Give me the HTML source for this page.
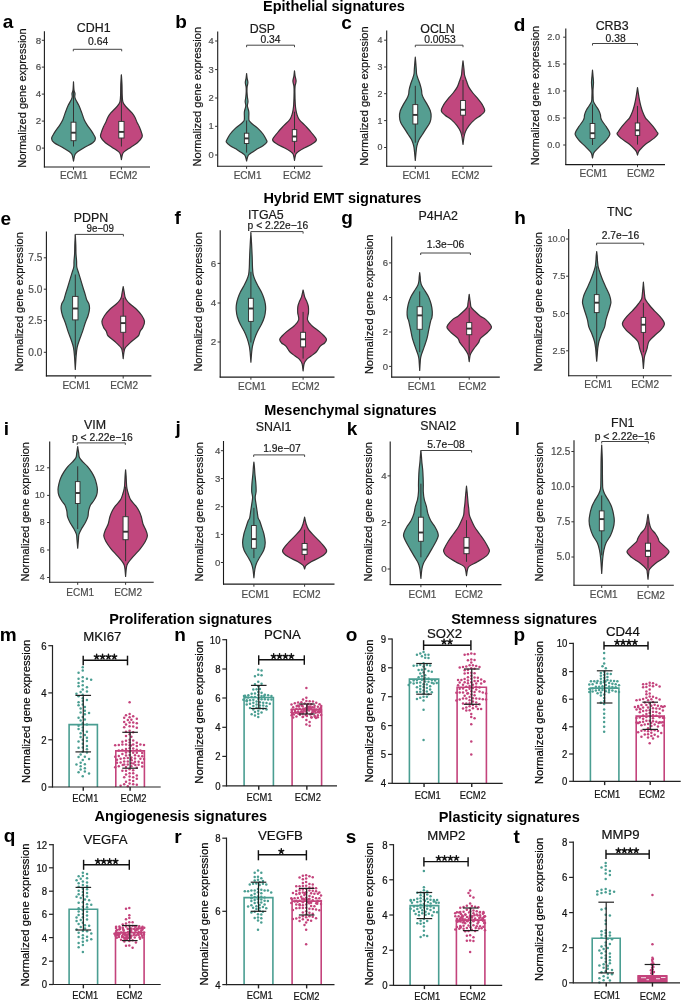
<!DOCTYPE html>
<html><head><meta charset="utf-8"><style>
html,body{margin:0;padding:0;background:#fff;}
svg{display:block;font-family:"Liberation Sans", sans-serif;will-change:transform;}
</style></head><body>
<svg width="685" height="1000" viewBox="0 0 685 1000">
<rect width="685" height="1000" fill="#fff"/>
<text x="2.80" y="28.00" font-size="19" text-anchor="start" font-weight="bold" fill="#000" >a</text>
<text x="93.70" y="31.80" font-size="12.4" text-anchor="middle" font-weight="normal" fill="#1a1a1a" stroke="#1a1a1a" stroke-width="0.2" >CDH1</text>
<text x="0.00" y="0.00" font-size="11" text-anchor="middle" font-weight="normal" fill="#111" stroke="#111" stroke-width="0.2" transform="translate(25.70,98.10) rotate(-90)">Normalized gene expression</text>
<path d="M73.50,81.90 C73.58,83.25 73.75,88.07 74.00,90.00 C74.25,91.93 74.87,92.33 75.00,93.50 C75.13,94.67 74.65,95.92 74.80,97.00 C74.95,98.08 75.22,98.57 75.90,100.00 C76.58,101.43 77.92,103.45 78.90,105.60 C79.88,107.75 80.90,110.50 81.80,112.90 C82.70,115.30 83.37,117.93 84.30,120.00 C85.23,122.07 86.03,123.20 87.40,125.30 C88.77,127.40 91.17,130.42 92.50,132.60 C93.83,134.78 95.35,136.70 95.40,138.40 C95.45,140.10 94.57,141.33 92.80,142.80 C91.03,144.27 87.28,145.73 84.80,147.20 C82.32,148.67 79.53,150.38 77.90,151.60 C76.27,152.82 75.73,152.92 75.00,154.50 C74.27,156.08 73.75,160.00 73.50,161.10 L73.50,161.10 C73.25,160.00 72.73,156.08 72.00,154.50 C71.27,152.92 70.73,152.82 69.10,151.60 C67.47,150.38 64.68,148.67 62.20,147.20 C59.72,145.73 55.97,144.27 54.20,142.80 C52.43,141.33 51.55,140.10 51.60,138.40 C51.65,136.70 53.17,134.78 54.50,132.60 C55.83,130.42 58.23,127.40 59.60,125.30 C60.97,123.20 61.77,122.07 62.70,120.00 C63.63,117.93 64.30,115.30 65.20,112.90 C66.10,110.50 67.12,107.75 68.10,105.60 C69.08,103.45 70.42,101.43 71.10,100.00 C71.78,98.57 72.05,98.08 72.20,97.00 C72.35,95.92 71.87,94.67 72.00,93.50 C72.13,92.33 72.75,91.93 73.00,90.00 C73.25,88.07 73.42,83.25 73.50,81.90 Z" fill="#559e91" stroke="#333333" stroke-width="1.2" stroke-linejoin="round"/>
<line x1="73.50" y1="81.90" x2="73.50" y2="146.50" stroke="#333333" stroke-width="1.0" />
<rect x="71.10" y="122.20" width="4.80" height="18.50" fill="#fff" stroke="#333333" stroke-width="0.95"/>
<line x1="71.10" y1="132.70" x2="75.90" y2="132.70" stroke="#333333" stroke-width="1.9" />
<path d="M121.40,74.90 C121.50,76.58 121.87,81.65 122.00,85.00 C122.13,88.35 122.08,92.30 122.20,95.00 C122.32,97.70 122.40,99.68 122.70,101.20 C123.00,102.72 123.18,102.88 124.00,104.10 C124.82,105.32 126.27,107.03 127.60,108.50 C128.93,109.97 130.78,111.43 132.00,112.90 C133.22,114.37 134.05,115.72 134.90,117.30 C135.75,118.88 136.37,120.82 137.10,122.40 C137.83,123.98 138.57,125.10 139.30,126.80 C140.03,128.50 141.03,130.90 141.50,132.60 C141.97,134.30 142.78,135.30 142.10,137.00 C141.42,138.70 139.27,141.10 137.40,142.80 C135.53,144.50 133.08,145.73 130.90,147.20 C128.72,148.67 125.72,150.38 124.30,151.60 C122.88,152.82 122.88,153.17 122.40,154.50 C121.92,155.83 121.57,158.75 121.40,159.60 L121.40,159.60 C121.23,158.75 120.88,155.83 120.40,154.50 C119.92,153.17 119.92,152.82 118.50,151.60 C117.08,150.38 114.08,148.67 111.90,147.20 C109.72,145.73 107.27,144.50 105.40,142.80 C103.53,141.10 101.38,138.70 100.70,137.00 C100.02,135.30 100.83,134.30 101.30,132.60 C101.77,130.90 102.77,128.50 103.50,126.80 C104.23,125.10 104.97,123.98 105.70,122.40 C106.43,120.82 107.05,118.88 107.90,117.30 C108.75,115.72 109.58,114.37 110.80,112.90 C112.02,111.43 113.87,109.97 115.20,108.50 C116.53,107.03 117.98,105.32 118.80,104.10 C119.62,102.88 119.80,102.72 120.10,101.20 C120.40,99.68 120.48,97.70 120.60,95.00 C120.72,92.30 120.67,88.35 120.80,85.00 C120.93,81.65 121.30,76.58 121.40,74.90 Z" fill="#c1477e" stroke="#333333" stroke-width="1.2" stroke-linejoin="round"/>
<line x1="121.40" y1="74.90" x2="121.40" y2="146.50" stroke="#333333" stroke-width="1.0" />
<rect x="118.75" y="121.40" width="5.30" height="16.60" fill="#fff" stroke="#333333" stroke-width="0.95"/>
<line x1="118.75" y1="131.90" x2="124.05" y2="131.90" stroke="#333333" stroke-width="1.9" />
<line x1="44.40" y1="31.20" x2="44.40" y2="167.50" stroke="#1a1a1a" stroke-width="1.1" />
<line x1="43.90" y1="167.00" x2="150.00" y2="167.00" stroke="#1a1a1a" stroke-width="1.1" />
<line x1="41.80" y1="40.30" x2="44.40" y2="40.30" stroke="#333" stroke-width="1.0" />
<text x="41.10" y="43.53" font-size="9.8" text-anchor="end" font-weight="normal" fill="#4d4d4d" stroke="#4d4d4d" stroke-width="0.2" >8</text>
<line x1="41.80" y1="67.10" x2="44.40" y2="67.10" stroke="#333" stroke-width="1.0" />
<text x="41.10" y="70.33" font-size="9.8" text-anchor="end" font-weight="normal" fill="#4d4d4d" stroke="#4d4d4d" stroke-width="0.2" >6</text>
<line x1="41.80" y1="94.10" x2="44.40" y2="94.10" stroke="#333" stroke-width="1.0" />
<text x="41.10" y="97.33" font-size="9.8" text-anchor="end" font-weight="normal" fill="#4d4d4d" stroke="#4d4d4d" stroke-width="0.2" >4</text>
<line x1="41.80" y1="121.10" x2="44.40" y2="121.10" stroke="#333" stroke-width="1.0" />
<text x="41.10" y="124.33" font-size="9.8" text-anchor="end" font-weight="normal" fill="#4d4d4d" stroke="#4d4d4d" stroke-width="0.2" >2</text>
<line x1="41.80" y1="148.10" x2="44.40" y2="148.10" stroke="#333" stroke-width="1.0" />
<text x="41.10" y="151.33" font-size="9.8" text-anchor="end" font-weight="normal" fill="#4d4d4d" stroke="#4d4d4d" stroke-width="0.2" >0</text>
<line x1="73.50" y1="167.00" x2="73.50" y2="169.60" stroke="#333" stroke-width="1.0" />
<text x="73.80" y="179.10" font-size="10" text-anchor="middle" font-weight="normal" fill="#4d4d4d" stroke="#4d4d4d" stroke-width="0.2" >ECM1</text>
<line x1="121.40" y1="167.00" x2="121.40" y2="169.60" stroke="#333" stroke-width="1.0" />
<text x="123.40" y="179.10" font-size="10" text-anchor="middle" font-weight="normal" fill="#4d4d4d" stroke="#4d4d4d" stroke-width="0.2" >ECM2</text>
<path d="M73.30,51.30 L73.30,49.30 L121.70,49.30 L121.70,51.30" fill="none" stroke="#444" stroke-width="1.0"/>
<text x="98.10" y="45.40" font-size="10.3" text-anchor="middle" font-weight="normal" fill="#1a1a1a" stroke="#1a1a1a" stroke-width="0.2" >0.64</text>
<text x="175.30" y="28.00" font-size="19" text-anchor="start" font-weight="bold" fill="#000" >b</text>
<text x="262.40" y="32.70" font-size="12.4" text-anchor="middle" font-weight="normal" fill="#1a1a1a" stroke="#1a1a1a" stroke-width="0.2" >DSP</text>
<text x="0.00" y="0.00" font-size="11" text-anchor="middle" font-weight="normal" fill="#111" stroke="#111" stroke-width="0.2" transform="translate(201.40,96.70) rotate(-90)">Normalized gene expression</text>
<path d="M246.60,73.50 C246.68,74.25 246.88,76.48 247.10,78.00 C247.32,79.52 247.90,81.10 247.90,82.60 C247.90,84.10 247.25,85.43 247.10,87.00 C246.95,88.57 246.95,90.33 247.00,92.00 C247.05,93.67 247.23,95.40 247.40,97.00 C247.57,98.60 248.00,100.10 248.00,101.60 C248.00,103.10 247.27,104.30 247.40,106.00 C247.53,107.70 248.57,109.80 248.80,111.80 C249.03,113.80 248.73,116.50 248.80,118.00 C248.87,119.50 248.65,119.83 249.20,120.80 C249.75,121.77 250.70,122.58 252.10,123.80 C253.50,125.02 255.78,126.40 257.60,128.10 C259.42,129.80 261.62,132.17 263.00,134.00 C264.38,135.83 265.25,137.77 265.90,139.10 C266.55,140.43 267.38,140.90 266.90,142.00 C266.42,143.10 264.87,144.37 263.00,145.70 C261.13,147.03 258.00,148.55 255.70,150.00 C253.40,151.45 250.55,153.23 249.20,154.40 C247.85,155.57 248.03,155.90 247.60,157.00 C247.17,158.10 246.77,160.33 246.60,161.00 L246.60,161.00 C246.43,160.33 246.03,158.10 245.60,157.00 C245.17,155.90 245.35,155.57 244.00,154.40 C242.65,153.23 239.80,151.45 237.50,150.00 C235.20,148.55 232.07,147.03 230.20,145.70 C228.33,144.37 226.78,143.10 226.30,142.00 C225.82,140.90 226.65,140.43 227.30,139.10 C227.95,137.77 228.82,135.83 230.20,134.00 C231.58,132.17 233.78,129.80 235.60,128.10 C237.42,126.40 239.70,125.02 241.10,123.80 C242.50,122.58 243.45,121.77 244.00,120.80 C244.55,119.83 244.33,119.50 244.40,118.00 C244.47,116.50 244.17,113.80 244.40,111.80 C244.63,109.80 245.67,107.70 245.80,106.00 C245.93,104.30 245.20,103.10 245.20,101.60 C245.20,100.10 245.63,98.60 245.80,97.00 C245.97,95.40 246.15,93.67 246.20,92.00 C246.25,90.33 246.25,88.57 246.10,87.00 C245.95,85.43 245.30,84.10 245.30,82.60 C245.30,81.10 245.88,79.52 246.10,78.00 C246.32,76.48 246.52,74.25 246.60,73.50 Z" fill="#559e91" stroke="#333333" stroke-width="1.2" stroke-linejoin="round"/>
<line x1="246.60" y1="120.50" x2="246.60" y2="152.60" stroke="#333333" stroke-width="1.0" />
<rect x="244.40" y="133.20" width="4.40" height="10.30" fill="#fff" stroke="#333333" stroke-width="0.95"/>
<line x1="244.40" y1="138.40" x2="248.80" y2="138.40" stroke="#333333" stroke-width="1.9" />
<path d="M294.50,70.90 C294.60,71.75 294.83,74.30 295.10,76.00 C295.37,77.70 296.10,79.43 296.10,81.10 C296.10,82.77 295.30,84.18 295.10,86.00 C294.90,87.82 294.87,88.92 294.90,92.00 C294.93,95.08 295.12,101.45 295.30,104.50 C295.48,107.55 295.72,108.60 296.00,110.30 C296.28,112.00 296.62,113.42 297.00,114.70 C297.38,115.98 297.75,116.98 298.30,118.00 C298.85,119.02 298.98,119.35 300.30,120.80 C301.62,122.25 304.37,124.75 306.20,126.70 C308.03,128.65 309.60,130.32 311.30,132.50 C313.00,134.68 316.33,137.85 316.40,139.80 C316.47,141.75 313.88,142.73 311.70,144.20 C309.52,145.67 305.80,147.13 303.30,148.60 C300.80,150.07 298.03,151.77 296.70,153.00 C295.37,154.23 295.67,154.78 295.30,156.00 C294.93,157.22 294.63,159.58 294.50,160.30 L294.50,160.30 C294.37,159.58 294.07,157.22 293.70,156.00 C293.33,154.78 293.63,154.23 292.30,153.00 C290.97,151.77 288.20,150.07 285.70,148.60 C283.20,147.13 279.48,145.67 277.30,144.20 C275.12,142.73 272.53,141.75 272.60,139.80 C272.67,137.85 276.00,134.68 277.70,132.50 C279.40,130.32 280.97,128.65 282.80,126.70 C284.63,124.75 287.38,122.25 288.70,120.80 C290.02,119.35 290.15,119.02 290.70,118.00 C291.25,116.98 291.62,115.98 292.00,114.70 C292.38,113.42 292.72,112.00 293.00,110.30 C293.28,108.60 293.52,107.55 293.70,104.50 C293.88,101.45 294.07,95.08 294.10,92.00 C294.13,88.92 294.10,87.82 293.90,86.00 C293.70,84.18 292.90,82.77 292.90,81.10 C292.90,79.43 293.63,77.70 293.90,76.00 C294.17,74.30 294.40,71.75 294.50,70.90 Z" fill="#c1477e" stroke="#333333" stroke-width="1.2" stroke-linejoin="round"/>
<line x1="294.50" y1="111.70" x2="294.50" y2="152.60" stroke="#333333" stroke-width="1.0" />
<rect x="292.30" y="129.60" width="4.40" height="11.70" fill="#fff" stroke="#333333" stroke-width="0.95"/>
<line x1="292.30" y1="136.50" x2="296.70" y2="136.50" stroke="#333333" stroke-width="1.9" />
<line x1="217.70" y1="31.40" x2="217.70" y2="166.70" stroke="#1a1a1a" stroke-width="1.1" />
<line x1="217.20" y1="166.20" x2="322.60" y2="166.20" stroke="#1a1a1a" stroke-width="1.1" />
<line x1="215.10" y1="41.00" x2="217.70" y2="41.00" stroke="#333" stroke-width="1.0" />
<text x="213.70" y="44.10" font-size="9.4" text-anchor="end" font-weight="normal" fill="#4d4d4d" stroke="#4d4d4d" stroke-width="0.2" >4</text>
<line x1="215.10" y1="69.60" x2="217.70" y2="69.60" stroke="#333" stroke-width="1.0" />
<text x="213.70" y="72.70" font-size="9.4" text-anchor="end" font-weight="normal" fill="#4d4d4d" stroke="#4d4d4d" stroke-width="0.2" >3</text>
<line x1="215.10" y1="98.00" x2="217.70" y2="98.00" stroke="#333" stroke-width="1.0" />
<text x="213.70" y="101.10" font-size="9.4" text-anchor="end" font-weight="normal" fill="#4d4d4d" stroke="#4d4d4d" stroke-width="0.2" >2</text>
<line x1="215.10" y1="126.30" x2="217.70" y2="126.30" stroke="#333" stroke-width="1.0" />
<text x="213.70" y="129.40" font-size="9.4" text-anchor="end" font-weight="normal" fill="#4d4d4d" stroke="#4d4d4d" stroke-width="0.2" >1</text>
<line x1="215.10" y1="155.00" x2="217.70" y2="155.00" stroke="#333" stroke-width="1.0" />
<text x="213.70" y="158.10" font-size="9.4" text-anchor="end" font-weight="normal" fill="#4d4d4d" stroke="#4d4d4d" stroke-width="0.2" >0</text>
<line x1="246.60" y1="166.20" x2="246.60" y2="168.80" stroke="#333" stroke-width="1.0" />
<text x="247.60" y="178.80" font-size="10" text-anchor="middle" font-weight="normal" fill="#4d4d4d" stroke="#4d4d4d" stroke-width="0.2" >ECM1</text>
<line x1="294.50" y1="166.20" x2="294.50" y2="168.80" stroke="#333" stroke-width="1.0" />
<text x="297.00" y="178.80" font-size="10" text-anchor="middle" font-weight="normal" fill="#4d4d4d" stroke="#4d4d4d" stroke-width="0.2" >ECM2</text>
<path d="M246.60,47.20 L246.60,45.20 L294.50,45.20 L294.50,47.20" fill="none" stroke="#444" stroke-width="1.0"/>
<text x="270.50" y="42.70" font-size="10.3" text-anchor="middle" font-weight="normal" fill="#1a1a1a" stroke="#1a1a1a" stroke-width="0.2" >0.34</text>
<text x="341.30" y="28.50" font-size="19" text-anchor="start" font-weight="bold" fill="#000" >c</text>
<text x="437.50" y="32.70" font-size="12.4" text-anchor="middle" font-weight="normal" fill="#1a1a1a" stroke="#1a1a1a" stroke-width="0.2" >OCLN</text>
<text x="0.00" y="0.00" font-size="11" text-anchor="middle" font-weight="normal" fill="#111" stroke="#111" stroke-width="0.2" transform="translate(368.40,96.10) rotate(-90)">Normalized gene expression</text>
<path d="M415.30,57.20 C415.38,58.17 415.63,60.93 415.80,63.00 C415.97,65.07 416.17,67.77 416.30,69.60 C416.43,71.43 416.33,72.53 416.60,74.00 C416.87,75.47 417.33,76.70 417.90,78.40 C418.47,80.10 419.40,82.27 420.00,84.20 C420.60,86.13 421.17,88.30 421.50,90.00 C421.83,91.70 421.62,92.93 422.00,94.40 C422.38,95.87 422.92,97.10 423.80,98.80 C424.68,100.50 426.22,102.60 427.30,104.60 C428.38,106.60 429.67,108.78 430.30,110.80 C430.93,112.82 431.17,114.75 431.10,116.70 C431.03,118.65 430.70,120.55 429.90,122.50 C429.10,124.45 427.52,126.45 426.30,128.40 C425.08,130.35 423.83,132.27 422.60,134.20 C421.37,136.13 419.85,138.05 418.90,140.00 C417.95,141.95 417.37,143.95 416.90,145.90 C416.43,147.85 416.37,149.27 416.10,151.70 C415.83,154.13 415.43,159.03 415.30,160.50 L415.30,160.50 C415.17,159.03 414.77,154.13 414.50,151.70 C414.23,149.27 414.17,147.85 413.70,145.90 C413.23,143.95 412.65,141.95 411.70,140.00 C410.75,138.05 409.23,136.13 408.00,134.20 C406.77,132.27 405.52,130.35 404.30,128.40 C403.08,126.45 401.50,124.45 400.70,122.50 C399.90,120.55 399.57,118.65 399.50,116.70 C399.43,114.75 399.67,112.82 400.30,110.80 C400.93,108.78 402.22,106.60 403.30,104.60 C404.38,102.60 405.92,100.50 406.80,98.80 C407.68,97.10 408.22,95.87 408.60,94.40 C408.98,92.93 408.77,91.70 409.10,90.00 C409.43,88.30 410.00,86.13 410.60,84.20 C411.20,82.27 412.13,80.10 412.70,78.40 C413.27,76.70 413.73,75.47 414.00,74.00 C414.27,72.53 414.17,71.43 414.30,69.60 C414.43,67.77 414.63,65.07 414.80,63.00 C414.97,60.93 415.22,58.17 415.30,57.20 Z" fill="#559e91" stroke="#333333" stroke-width="1.2" stroke-linejoin="round"/>
<line x1="415.30" y1="85.80" x2="415.30" y2="142.70" stroke="#333333" stroke-width="1.0" />
<rect x="412.90" y="104.60" width="4.80" height="19.40" fill="#fff" stroke="#333333" stroke-width="0.95"/>
<line x1="412.90" y1="114.90" x2="417.70" y2="114.90" stroke="#333333" stroke-width="1.9" />
<path d="M463.00,60.80 C463.08,61.50 463.33,63.53 463.50,65.00 C463.67,66.47 463.82,67.87 464.00,69.60 C464.18,71.33 464.17,73.45 464.60,75.40 C465.03,77.35 465.90,79.35 466.60,81.30 C467.30,83.25 467.75,85.15 468.80,87.10 C469.85,89.05 471.37,91.05 472.90,93.00 C474.43,94.95 476.43,96.87 478.00,98.80 C479.57,100.73 481.18,102.60 482.30,104.60 C483.42,106.60 484.93,109.03 484.70,110.80 C484.47,112.57 482.57,113.73 480.90,115.20 C479.23,116.67 476.65,117.90 474.70,119.60 C472.75,121.30 470.72,123.45 469.20,125.40 C467.68,127.35 466.47,129.35 465.60,131.30 C464.73,133.25 464.43,134.92 464.00,137.10 C463.57,139.28 463.17,143.18 463.00,144.40 L463.00,144.40 C462.83,143.18 462.43,139.28 462.00,137.10 C461.57,134.92 461.27,133.25 460.40,131.30 C459.53,129.35 458.32,127.35 456.80,125.40 C455.28,123.45 453.25,121.30 451.30,119.60 C449.35,117.90 446.77,116.67 445.10,115.20 C443.43,113.73 441.53,112.57 441.30,110.80 C441.07,109.03 442.58,106.60 443.70,104.60 C444.82,102.60 446.43,100.73 448.00,98.80 C449.57,96.87 451.57,94.95 453.10,93.00 C454.63,91.05 456.15,89.05 457.20,87.10 C458.25,85.15 458.70,83.25 459.40,81.30 C460.10,79.35 460.97,77.35 461.40,75.40 C461.83,73.45 461.82,71.33 462.00,69.60 C462.18,67.87 462.33,66.47 462.50,65.00 C462.67,63.53 462.92,61.50 463.00,60.80 Z" fill="#c1477e" stroke="#333333" stroke-width="1.2" stroke-linejoin="round"/>
<line x1="463.00" y1="79.90" x2="463.00" y2="134.70" stroke="#333333" stroke-width="1.0" />
<rect x="460.60" y="100.50" width="4.80" height="14.70" fill="#fff" stroke="#333333" stroke-width="0.95"/>
<line x1="460.60" y1="109.80" x2="465.40" y2="109.80" stroke="#333333" stroke-width="1.9" />
<line x1="386.70" y1="30.60" x2="386.70" y2="166.80" stroke="#1a1a1a" stroke-width="1.1" />
<line x1="386.20" y1="166.30" x2="492.20" y2="166.30" stroke="#1a1a1a" stroke-width="1.1" />
<line x1="384.10" y1="40.20" x2="386.70" y2="40.20" stroke="#333" stroke-width="1.0" />
<text x="382.40" y="43.14" font-size="8.9" text-anchor="end" font-weight="normal" fill="#4d4d4d" stroke="#4d4d4d" stroke-width="0.2" >4</text>
<line x1="384.10" y1="67.00" x2="386.70" y2="67.00" stroke="#333" stroke-width="1.0" />
<text x="382.40" y="69.94" font-size="8.9" text-anchor="end" font-weight="normal" fill="#4d4d4d" stroke="#4d4d4d" stroke-width="0.2" >3</text>
<line x1="384.10" y1="93.70" x2="386.70" y2="93.70" stroke="#333" stroke-width="1.0" />
<text x="382.40" y="96.64" font-size="8.9" text-anchor="end" font-weight="normal" fill="#4d4d4d" stroke="#4d4d4d" stroke-width="0.2" >2</text>
<line x1="384.10" y1="120.60" x2="386.70" y2="120.60" stroke="#333" stroke-width="1.0" />
<text x="382.40" y="123.54" font-size="8.9" text-anchor="end" font-weight="normal" fill="#4d4d4d" stroke="#4d4d4d" stroke-width="0.2" >1</text>
<line x1="384.10" y1="147.50" x2="386.70" y2="147.50" stroke="#333" stroke-width="1.0" />
<text x="382.40" y="150.44" font-size="8.9" text-anchor="end" font-weight="normal" fill="#4d4d4d" stroke="#4d4d4d" stroke-width="0.2" >0</text>
<line x1="415.30" y1="166.30" x2="415.30" y2="168.90" stroke="#333" stroke-width="1.0" />
<text x="416.30" y="178.90" font-size="10" text-anchor="middle" font-weight="normal" fill="#4d4d4d" stroke="#4d4d4d" stroke-width="0.2" >ECM1</text>
<line x1="463.00" y1="166.30" x2="463.00" y2="168.90" stroke="#333" stroke-width="1.0" />
<text x="465.50" y="178.90" font-size="10" text-anchor="middle" font-weight="normal" fill="#4d4d4d" stroke="#4d4d4d" stroke-width="0.2" >ECM2</text>
<path d="M415.30,47.20 L415.30,45.20 L463.00,45.20 L463.00,47.20" fill="none" stroke="#444" stroke-width="1.0"/>
<text x="440.00" y="43.20" font-size="10.3" text-anchor="middle" font-weight="normal" fill="#1a1a1a" stroke="#1a1a1a" stroke-width="0.2" >0.0053</text>
<text x="513.80" y="30.50" font-size="19" text-anchor="start" font-weight="bold" fill="#000" >d</text>
<text x="612.20" y="29.60" font-size="12.4" text-anchor="middle" font-weight="normal" fill="#1a1a1a" stroke="#1a1a1a" stroke-width="0.2" >CRB3</text>
<text x="0.00" y="0.00" font-size="11" text-anchor="middle" font-weight="normal" fill="#111" stroke="#111" stroke-width="0.2" transform="translate(539.10,95.50) rotate(-90)">Normalized gene expression</text>
<path d="M592.50,70.20 C592.58,71.17 592.83,73.93 593.00,76.00 C593.17,78.07 593.50,80.27 593.50,82.60 C593.50,84.93 593.07,87.57 593.00,90.00 C592.93,92.43 593.02,95.27 593.10,97.20 C593.18,99.13 593.02,100.13 593.50,101.60 C593.98,103.07 595.13,104.55 596.00,106.00 C596.87,107.45 597.97,108.85 598.70,110.30 C599.43,111.75 600.05,113.43 600.40,114.70 C600.75,115.97 600.53,116.88 600.80,117.90 C601.07,118.92 601.10,119.33 602.00,120.80 C602.90,122.27 605.05,124.98 606.20,126.70 C607.35,128.42 608.30,129.77 608.90,131.10 C609.50,132.43 610.22,133.25 609.80,134.70 C609.38,136.15 607.95,137.97 606.40,139.80 C604.85,141.63 602.33,143.87 600.50,145.70 C598.67,147.53 596.57,149.50 595.40,150.80 C594.23,152.10 593.98,152.30 593.50,153.50 C593.02,154.70 592.67,157.25 592.50,158.00 L592.50,158.00 C592.33,157.25 591.98,154.70 591.50,153.50 C591.02,152.30 590.77,152.10 589.60,150.80 C588.43,149.50 586.33,147.53 584.50,145.70 C582.67,143.87 580.15,141.63 578.60,139.80 C577.05,137.97 575.62,136.15 575.20,134.70 C574.78,133.25 575.50,132.43 576.10,131.10 C576.70,129.77 577.65,128.42 578.80,126.70 C579.95,124.98 582.10,122.27 583.00,120.80 C583.90,119.33 583.93,118.92 584.20,117.90 C584.47,116.88 584.25,115.97 584.60,114.70 C584.95,113.43 585.57,111.75 586.30,110.30 C587.03,108.85 588.13,107.45 589.00,106.00 C589.87,104.55 591.02,103.07 591.50,101.60 C591.98,100.13 591.82,99.13 591.90,97.20 C591.98,95.27 592.07,92.43 592.00,90.00 C591.93,87.57 591.50,84.93 591.50,82.60 C591.50,80.27 591.83,78.07 592.00,76.00 C592.17,73.93 592.42,71.17 592.50,70.20 Z" fill="#559e91" stroke="#333333" stroke-width="1.2" stroke-linejoin="round"/>
<line x1="592.50" y1="104.40" x2="592.50" y2="145.00" stroke="#333333" stroke-width="1.0" />
<rect x="590.15" y="123.50" width="4.70" height="14.90" fill="#fff" stroke="#333333" stroke-width="0.95"/>
<line x1="590.15" y1="133.20" x2="594.85" y2="133.20" stroke="#333333" stroke-width="1.9" />
<path d="M637.50,87.70 C637.67,88.80 638.17,92.23 638.50,94.30 C638.83,96.37 639.12,98.15 639.50,100.10 C639.88,102.05 640.28,104.05 640.80,106.00 C641.32,107.95 641.83,109.82 642.60,111.80 C643.37,113.78 644.48,116.40 645.40,117.90 C646.32,119.40 646.80,119.33 648.10,120.80 C649.40,122.27 651.75,124.87 653.20,126.70 C654.65,128.53 656.02,130.58 656.80,131.80 C657.58,133.02 658.38,132.90 657.90,134.00 C657.42,135.10 655.97,136.70 653.90,138.40 C651.83,140.10 647.87,142.27 645.50,144.20 C643.13,146.13 640.90,148.62 639.70,150.00 C638.50,151.38 638.67,151.65 638.30,152.50 C637.93,153.35 637.63,154.67 637.50,155.10 L637.50,155.10 C637.37,154.67 637.07,153.35 636.70,152.50 C636.33,151.65 636.50,151.38 635.30,150.00 C634.10,148.62 631.87,146.13 629.50,144.20 C627.13,142.27 623.17,140.10 621.10,138.40 C619.03,136.70 617.58,135.10 617.10,134.00 C616.62,132.90 617.42,133.02 618.20,131.80 C618.98,130.58 620.35,128.53 621.80,126.70 C623.25,124.87 625.60,122.27 626.90,120.80 C628.20,119.33 628.68,119.40 629.60,117.90 C630.52,116.40 631.63,113.78 632.40,111.80 C633.17,109.82 633.68,107.95 634.20,106.00 C634.72,104.05 635.12,102.05 635.50,100.10 C635.88,98.15 636.17,96.37 636.50,94.30 C636.83,92.23 637.33,88.80 637.50,87.70 Z" fill="#c1477e" stroke="#333333" stroke-width="1.2" stroke-linejoin="round"/>
<line x1="637.50" y1="105.90" x2="637.50" y2="144.60" stroke="#333333" stroke-width="1.0" />
<rect x="635.30" y="123.00" width="4.40" height="12.40" fill="#fff" stroke="#333333" stroke-width="0.95"/>
<line x1="635.30" y1="130.30" x2="639.70" y2="130.30" stroke="#333333" stroke-width="1.9" />
<line x1="565.80" y1="28.40" x2="565.80" y2="165.10" stroke="#1a1a1a" stroke-width="1.1" />
<line x1="565.30" y1="164.60" x2="665.00" y2="164.60" stroke="#1a1a1a" stroke-width="1.1" />
<line x1="563.20" y1="37.20" x2="565.80" y2="37.20" stroke="#333" stroke-width="1.0" />
<text x="560.00" y="40.24" font-size="9.2" text-anchor="end" font-weight="normal" fill="#4d4d4d" stroke="#4d4d4d" stroke-width="0.2" >2.0</text>
<line x1="563.20" y1="64.00" x2="565.80" y2="64.00" stroke="#333" stroke-width="1.0" />
<text x="560.00" y="67.04" font-size="9.2" text-anchor="end" font-weight="normal" fill="#4d4d4d" stroke="#4d4d4d" stroke-width="0.2" >1.5</text>
<line x1="563.20" y1="91.00" x2="565.80" y2="91.00" stroke="#333" stroke-width="1.0" />
<text x="560.00" y="94.04" font-size="9.2" text-anchor="end" font-weight="normal" fill="#4d4d4d" stroke="#4d4d4d" stroke-width="0.2" >1.0</text>
<line x1="563.20" y1="118.00" x2="565.80" y2="118.00" stroke="#333" stroke-width="1.0" />
<text x="560.00" y="121.04" font-size="9.2" text-anchor="end" font-weight="normal" fill="#4d4d4d" stroke="#4d4d4d" stroke-width="0.2" >0.5</text>
<line x1="563.20" y1="145.00" x2="565.80" y2="145.00" stroke="#333" stroke-width="1.0" />
<text x="560.00" y="148.04" font-size="9.2" text-anchor="end" font-weight="normal" fill="#4d4d4d" stroke="#4d4d4d" stroke-width="0.2" >0.0</text>
<line x1="592.50" y1="164.60" x2="592.50" y2="167.20" stroke="#333" stroke-width="1.0" />
<text x="593.50" y="177.20" font-size="10" text-anchor="middle" font-weight="normal" fill="#4d4d4d" stroke="#4d4d4d" stroke-width="0.2" >ECM1</text>
<line x1="637.50" y1="164.60" x2="637.50" y2="167.20" stroke="#333" stroke-width="1.0" />
<text x="640.80" y="177.20" font-size="10" text-anchor="middle" font-weight="normal" fill="#4d4d4d" stroke="#4d4d4d" stroke-width="0.2" >ECM2</text>
<path d="M592.50,45.50 L592.50,43.50 L637.50,43.50 L637.50,45.50" fill="none" stroke="#444" stroke-width="1.0"/>
<text x="615.60" y="41.50" font-size="10.3" text-anchor="middle" font-weight="normal" fill="#1a1a1a" stroke="#1a1a1a" stroke-width="0.2" >0.38</text>
<text x="0.40" y="224.50" font-size="19" text-anchor="start" font-weight="bold" fill="#000" >e</text>
<text x="91.00" y="222.20" font-size="12.4" text-anchor="middle" font-weight="normal" fill="#1a1a1a" stroke="#1a1a1a" stroke-width="0.2" >PDPN</text>
<text x="0.00" y="0.00" font-size="11" text-anchor="middle" font-weight="normal" fill="#111" stroke="#111" stroke-width="0.2" transform="translate(22.60,301.90) rotate(-90)">Normalized gene expression</text>
<path d="M75.30,234.50 C75.38,236.25 75.68,241.77 75.80,245.00 C75.92,248.23 75.87,251.20 76.00,253.90 C76.13,256.60 76.47,259.02 76.60,261.20 C76.73,263.38 76.47,265.05 76.80,267.00 C77.13,268.95 77.93,270.70 78.60,272.90 C79.27,275.10 80.07,277.77 80.80,280.20 C81.53,282.63 82.25,285.07 83.00,287.50 C83.75,289.93 84.67,292.72 85.30,294.80 C85.93,296.88 86.20,298.50 86.80,300.00 C87.40,301.50 88.45,302.32 88.90,303.80 C89.35,305.28 89.63,306.95 89.50,308.90 C89.37,310.85 88.80,313.18 88.10,315.50 C87.40,317.82 86.23,320.12 85.30,322.80 C84.37,325.48 83.50,328.68 82.50,331.60 C81.50,334.52 80.20,337.63 79.30,340.30 C78.40,342.97 77.63,344.92 77.10,347.60 C76.57,350.28 76.40,352.75 76.10,356.40 C75.80,360.05 75.43,367.32 75.30,369.50 L75.30,369.50 C75.17,367.32 74.80,360.05 74.50,356.40 C74.20,352.75 74.03,350.28 73.50,347.60 C72.97,344.92 72.20,342.97 71.30,340.30 C70.40,337.63 69.10,334.52 68.10,331.60 C67.10,328.68 66.23,325.48 65.30,322.80 C64.37,320.12 63.20,317.82 62.50,315.50 C61.80,313.18 61.23,310.85 61.10,308.90 C60.97,306.95 61.25,305.28 61.70,303.80 C62.15,302.32 63.20,301.50 63.80,300.00 C64.40,298.50 64.67,296.88 65.30,294.80 C65.93,292.72 66.85,289.93 67.60,287.50 C68.35,285.07 69.07,282.63 69.80,280.20 C70.53,277.77 71.33,275.10 72.00,272.90 C72.67,270.70 73.47,268.95 73.80,267.00 C74.13,265.05 73.87,263.38 74.00,261.20 C74.13,259.02 74.47,256.60 74.60,253.90 C74.73,251.20 74.68,248.23 74.80,245.00 C74.92,241.77 75.22,236.25 75.30,234.50 Z" fill="#559e91" stroke="#333333" stroke-width="1.2" stroke-linejoin="round"/>
<line x1="75.30" y1="274.50" x2="75.30" y2="355.50" stroke="#333333" stroke-width="1.0" />
<rect x="72.60" y="296.40" width="5.40" height="23.50" fill="#fff" stroke="#333333" stroke-width="0.95"/>
<line x1="72.60" y1="308.50" x2="78.00" y2="308.50" stroke="#333333" stroke-width="1.9" />
<path d="M123.20,286.70 C123.40,287.80 124.10,291.58 124.40,293.30 C124.70,295.02 124.65,295.88 125.00,297.00 C125.35,298.12 125.70,298.87 126.50,300.00 C127.30,301.13 128.07,302.18 129.80,303.80 C131.53,305.42 134.90,307.75 136.90,309.70 C138.90,311.65 140.53,313.55 141.80,315.50 C143.07,317.45 144.32,319.45 144.50,321.40 C144.68,323.35 143.65,325.50 142.90,327.20 C142.15,328.90 140.78,330.13 140.00,331.60 C139.22,333.07 139.67,334.30 138.20,336.00 C136.73,337.70 133.33,339.87 131.20,341.80 C129.07,343.73 126.60,345.90 125.40,347.60 C124.20,349.30 124.37,350.17 124.00,352.00 C123.63,353.83 123.33,357.50 123.20,358.60 L123.20,358.60 C123.07,357.50 122.77,353.83 122.40,352.00 C122.03,350.17 122.20,349.30 121.00,347.60 C119.80,345.90 117.33,343.73 115.20,341.80 C113.07,339.87 109.67,337.70 108.20,336.00 C106.73,334.30 107.18,333.07 106.40,331.60 C105.62,330.13 104.25,328.90 103.50,327.20 C102.75,325.50 101.72,323.35 101.90,321.40 C102.08,319.45 103.33,317.45 104.60,315.50 C105.87,313.55 107.50,311.65 109.50,309.70 C111.50,307.75 114.87,305.42 116.60,303.80 C118.33,302.18 119.10,301.13 119.90,300.00 C120.70,298.87 121.05,298.12 121.40,297.00 C121.75,295.88 121.70,295.02 122.00,293.30 C122.30,291.58 123.00,287.80 123.20,286.70 Z" fill="#c1477e" stroke="#333333" stroke-width="1.2" stroke-linejoin="round"/>
<line x1="123.20" y1="297.90" x2="123.20" y2="350.40" stroke="#333333" stroke-width="1.0" />
<rect x="120.70" y="316.20" width="5.00" height="16.10" fill="#fff" stroke="#333333" stroke-width="0.95"/>
<line x1="120.70" y1="323.10" x2="125.70" y2="323.10" stroke="#333333" stroke-width="1.9" />
<line x1="46.40" y1="231.50" x2="46.40" y2="376.40" stroke="#1a1a1a" stroke-width="1.1" />
<line x1="45.90" y1="375.90" x2="151.40" y2="375.90" stroke="#1a1a1a" stroke-width="1.1" />
<line x1="43.80" y1="257.80" x2="46.40" y2="257.80" stroke="#333" stroke-width="1.0" />
<text x="42.40" y="261.13" font-size="10.1" text-anchor="end" font-weight="normal" fill="#4d4d4d" stroke="#4d4d4d" stroke-width="0.2" >7.5</text>
<line x1="43.80" y1="289.20" x2="46.40" y2="289.20" stroke="#333" stroke-width="1.0" />
<text x="42.40" y="292.53" font-size="10.1" text-anchor="end" font-weight="normal" fill="#4d4d4d" stroke="#4d4d4d" stroke-width="0.2" >5.0</text>
<line x1="43.80" y1="320.60" x2="46.40" y2="320.60" stroke="#333" stroke-width="1.0" />
<text x="42.40" y="323.93" font-size="10.1" text-anchor="end" font-weight="normal" fill="#4d4d4d" stroke="#4d4d4d" stroke-width="0.2" >2.5</text>
<line x1="43.80" y1="352.30" x2="46.40" y2="352.30" stroke="#333" stroke-width="1.0" />
<text x="42.40" y="355.63" font-size="10.1" text-anchor="end" font-weight="normal" fill="#4d4d4d" stroke="#4d4d4d" stroke-width="0.2" >0.0</text>
<line x1="75.30" y1="375.90" x2="75.30" y2="378.50" stroke="#333" stroke-width="1.0" />
<text x="76.30" y="389.30" font-size="10" text-anchor="middle" font-weight="normal" fill="#4d4d4d" stroke="#4d4d4d" stroke-width="0.2" >ECM1</text>
<line x1="123.20" y1="375.90" x2="123.20" y2="378.50" stroke="#333" stroke-width="1.0" />
<text x="124.10" y="389.30" font-size="10" text-anchor="middle" font-weight="normal" fill="#4d4d4d" stroke="#4d4d4d" stroke-width="0.2" >ECM2</text>
<path d="M75.30,236.40 L75.30,234.40 L123.40,234.40 L123.40,236.40" fill="none" stroke="#444" stroke-width="1.0"/>
<text x="100.20" y="231.50" font-size="10.3" text-anchor="middle" font-weight="normal" fill="#1a1a1a" stroke="#1a1a1a" stroke-width="0.2" textLength="27.4" lengthAdjust="spacingAndGlyphs">9e−09</text>
<text x="174.50" y="224.00" font-size="19" text-anchor="start" font-weight="bold" fill="#000" >f</text>
<text x="265.80" y="219.00" font-size="12.4" text-anchor="middle" font-weight="normal" fill="#1a1a1a" stroke="#1a1a1a" stroke-width="0.2" >ITGA5</text>
<text x="0.00" y="0.00" font-size="11" text-anchor="middle" font-weight="normal" fill="#111" stroke="#111" stroke-width="0.2" transform="translate(202.20,301.90) rotate(-90)">Normalized gene expression</text>
<path d="M250.90,233.00 C251.00,234.60 251.28,238.57 251.50,242.60 C251.72,246.63 252.03,253.07 252.20,257.20 C252.37,261.33 252.33,264.48 252.50,267.40 C252.67,270.32 252.73,272.50 253.20,274.70 C253.67,276.90 254.47,278.65 255.30,280.60 C256.13,282.55 257.17,284.47 258.20,286.40 C259.23,288.33 260.57,290.27 261.50,292.20 C262.43,294.13 263.17,296.07 263.80,298.00 C264.43,299.93 265.00,301.85 265.30,303.80 C265.60,305.75 265.75,307.50 265.60,309.70 C265.45,311.90 265.08,314.57 264.40,317.00 C263.72,319.43 262.65,321.87 261.50,324.30 C260.35,326.73 258.67,329.17 257.50,331.60 C256.33,334.03 255.33,336.47 254.50,338.90 C253.67,341.33 252.97,344.02 252.50,346.20 C252.03,348.38 251.97,349.33 251.70,352.00 C251.43,354.67 251.03,360.50 250.90,362.20 L250.90,362.20 C250.77,360.50 250.37,354.67 250.10,352.00 C249.83,349.33 249.77,348.38 249.30,346.20 C248.83,344.02 248.13,341.33 247.30,338.90 C246.47,336.47 245.47,334.03 244.30,331.60 C243.13,329.17 241.45,326.73 240.30,324.30 C239.15,321.87 238.08,319.43 237.40,317.00 C236.72,314.57 236.35,311.90 236.20,309.70 C236.05,307.50 236.20,305.75 236.50,303.80 C236.80,301.85 237.37,299.93 238.00,298.00 C238.63,296.07 239.37,294.13 240.30,292.20 C241.23,290.27 242.57,288.33 243.60,286.40 C244.63,284.47 245.67,282.55 246.50,280.60 C247.33,278.65 248.13,276.90 248.60,274.70 C249.07,272.50 249.13,270.32 249.30,267.40 C249.47,264.48 249.43,261.33 249.60,257.20 C249.77,253.07 250.08,246.63 250.30,242.60 C250.52,238.57 250.80,234.60 250.90,233.00 Z" fill="#559e91" stroke="#333333" stroke-width="1.2" stroke-linejoin="round"/>
<line x1="250.90" y1="271.80" x2="250.90" y2="342.50" stroke="#333333" stroke-width="1.0" />
<rect x="248.50" y="298.30" width="4.80" height="23.10" fill="#fff" stroke="#333333" stroke-width="0.95"/>
<line x1="248.50" y1="308.50" x2="253.30" y2="308.50" stroke="#333333" stroke-width="1.9" />
<path d="M303.10,290.00 C303.35,291.10 304.18,295.10 304.60,296.60 C305.02,298.10 305.18,298.03 305.60,299.00 C306.02,299.97 306.63,301.10 307.10,302.40 C307.57,303.70 308.17,305.10 308.40,306.80 C308.63,308.50 308.65,310.42 308.50,312.60 C308.35,314.78 306.93,317.72 307.50,319.90 C308.07,322.08 309.90,323.75 311.90,325.70 C313.90,327.65 317.47,329.88 319.50,331.60 C321.53,333.32 322.93,334.68 324.10,336.00 C325.27,337.32 326.42,338.33 326.50,339.50 C326.58,340.67 325.63,341.88 324.60,343.00 C323.57,344.12 321.70,344.70 320.30,346.20 C318.90,347.70 317.73,350.37 316.20,352.00 C314.67,353.63 312.68,354.78 311.10,356.00 C309.52,357.22 307.87,358.02 306.70,359.30 C305.53,360.58 304.70,361.75 304.10,363.70 C303.50,365.65 303.27,369.78 303.10,371.00 L303.10,371.00 C302.93,369.78 302.70,365.65 302.10,363.70 C301.50,361.75 300.67,360.58 299.50,359.30 C298.33,358.02 296.68,357.22 295.10,356.00 C293.52,354.78 291.53,353.63 290.00,352.00 C288.47,350.37 287.30,347.70 285.90,346.20 C284.50,344.70 282.63,344.12 281.60,343.00 C280.57,341.88 279.62,340.67 279.70,339.50 C279.78,338.33 280.93,337.32 282.10,336.00 C283.27,334.68 284.67,333.32 286.70,331.60 C288.73,329.88 292.30,327.65 294.30,325.70 C296.30,323.75 298.13,322.08 298.70,319.90 C299.27,317.72 297.85,314.78 297.70,312.60 C297.55,310.42 297.57,308.50 297.80,306.80 C298.03,305.10 298.63,303.70 299.10,302.40 C299.57,301.10 300.18,299.97 300.60,299.00 C301.02,298.03 301.18,298.10 301.60,296.60 C302.02,295.10 302.85,291.10 303.10,290.00 Z" fill="#c1477e" stroke="#333333" stroke-width="1.2" stroke-linejoin="round"/>
<line x1="303.10" y1="311.90" x2="303.10" y2="358.60" stroke="#333333" stroke-width="1.0" />
<rect x="300.65" y="332.30" width="4.90" height="14.60" fill="#fff" stroke="#333333" stroke-width="0.95"/>
<line x1="300.65" y1="339.30" x2="305.55" y2="339.30" stroke="#333333" stroke-width="1.9" />
<line x1="220.20" y1="230.20" x2="220.20" y2="377.60" stroke="#1a1a1a" stroke-width="1.1" />
<line x1="219.70" y1="377.10" x2="334.50" y2="377.10" stroke="#1a1a1a" stroke-width="1.1" />
<line x1="217.60" y1="263.40" x2="220.20" y2="263.40" stroke="#333" stroke-width="1.0" />
<text x="216.20" y="266.63" font-size="9.8" text-anchor="end" font-weight="normal" fill="#4d4d4d" stroke="#4d4d4d" stroke-width="0.2" >6</text>
<line x1="217.60" y1="303.00" x2="220.20" y2="303.00" stroke="#333" stroke-width="1.0" />
<text x="216.20" y="306.23" font-size="9.8" text-anchor="end" font-weight="normal" fill="#4d4d4d" stroke="#4d4d4d" stroke-width="0.2" >4</text>
<line x1="217.60" y1="342.00" x2="220.20" y2="342.00" stroke="#333" stroke-width="1.0" />
<text x="216.20" y="345.23" font-size="9.8" text-anchor="end" font-weight="normal" fill="#4d4d4d" stroke="#4d4d4d" stroke-width="0.2" >2</text>
<line x1="250.90" y1="377.10" x2="250.90" y2="379.70" stroke="#333" stroke-width="1.0" />
<text x="251.90" y="389.70" font-size="10" text-anchor="middle" font-weight="normal" fill="#4d4d4d" stroke="#4d4d4d" stroke-width="0.2" >ECM1</text>
<line x1="303.10" y1="377.10" x2="303.10" y2="379.70" stroke="#333" stroke-width="1.0" />
<text x="305.60" y="389.70" font-size="10" text-anchor="middle" font-weight="normal" fill="#4d4d4d" stroke="#4d4d4d" stroke-width="0.2" >ECM2</text>
<path d="M250.80,233.60 L250.80,231.60 L303.10,231.60 L303.10,233.60" fill="none" stroke="#444" stroke-width="1.0"/>
<text x="277.90" y="229.20" font-size="10.3" text-anchor="middle" font-weight="normal" fill="#1a1a1a" stroke="#1a1a1a" stroke-width="0.2" >p &lt; 2.22e−16</text>
<text x="341.30" y="223.80" font-size="19" text-anchor="start" font-weight="bold" fill="#000" >g</text>
<text x="438.20" y="220.20" font-size="12.4" text-anchor="middle" font-weight="normal" fill="#1a1a1a" stroke="#1a1a1a" stroke-width="0.2" >P4HA2</text>
<text x="0.00" y="0.00" font-size="11" text-anchor="middle" font-weight="normal" fill="#111" stroke="#111" stroke-width="0.2" transform="translate(372.70,304.40) rotate(-90)">Normalized gene expression</text>
<path d="M419.70,272.70 C419.78,273.42 420.07,275.60 420.20,277.00 C420.33,278.40 420.25,279.68 420.50,281.10 C420.75,282.52 420.90,283.78 421.70,285.50 C422.50,287.22 424.13,289.45 425.30,291.40 C426.47,293.35 427.72,295.02 428.70,297.20 C429.68,299.38 430.60,302.07 431.20,304.50 C431.80,306.93 432.18,309.62 432.30,311.80 C432.42,313.98 432.17,316.10 431.90,317.60 C431.63,319.10 431.22,318.80 430.70,320.80 C430.18,322.80 429.42,326.67 428.80,329.60 C428.18,332.53 427.78,335.48 427.00,338.40 C426.22,341.32 425.02,344.43 424.10,347.10 C423.18,349.77 422.10,352.45 421.50,354.40 C420.90,356.35 420.80,356.12 420.50,358.80 C420.20,361.48 419.83,368.55 419.70,370.50 L419.70,370.50 C419.57,368.55 419.20,361.48 418.90,358.80 C418.60,356.12 418.50,356.35 417.90,354.40 C417.30,352.45 416.22,349.77 415.30,347.10 C414.38,344.43 413.18,341.32 412.40,338.40 C411.62,335.48 411.22,332.53 410.60,329.60 C409.98,326.67 409.22,322.80 408.70,320.80 C408.18,318.80 407.77,319.10 407.50,317.60 C407.23,316.10 406.98,313.98 407.10,311.80 C407.22,309.62 407.60,306.93 408.20,304.50 C408.80,302.07 409.72,299.38 410.70,297.20 C411.68,295.02 412.93,293.35 414.10,291.40 C415.27,289.45 416.90,287.22 417.70,285.50 C418.50,283.78 418.65,282.52 418.90,281.10 C419.15,279.68 419.07,278.40 419.20,277.00 C419.33,275.60 419.62,273.42 419.70,272.70 Z" fill="#559e91" stroke="#333333" stroke-width="1.2" stroke-linejoin="round"/>
<line x1="419.70" y1="291.40" x2="419.70" y2="352.20" stroke="#333333" stroke-width="1.0" />
<rect x="417.15" y="306.70" width="5.10" height="22.60" fill="#fff" stroke="#333333" stroke-width="0.95"/>
<line x1="417.15" y1="315.40" x2="422.25" y2="315.40" stroke="#333333" stroke-width="1.9" />
<path d="M469.20,294.30 C469.30,295.08 469.60,297.55 469.80,299.00 C470.00,300.45 470.17,301.60 470.40,303.00 C470.63,304.40 470.37,305.93 471.20,307.40 C472.03,308.87 473.87,310.33 475.40,311.80 C476.93,313.27 478.70,314.93 480.40,316.20 C482.10,317.47 483.88,317.90 485.60,319.40 C487.32,320.90 489.75,323.75 490.70,325.20 C491.65,326.65 491.85,326.88 491.30,328.10 C490.75,329.32 489.20,330.78 487.40,332.50 C485.60,334.22 481.98,336.70 480.50,338.40 C479.02,340.10 479.60,341.00 478.50,342.70 C477.40,344.40 475.20,346.77 473.90,348.60 C472.60,350.43 471.37,352.38 470.70,353.70 C470.03,355.02 470.15,355.17 469.90,356.50 C469.65,357.83 469.32,360.83 469.20,361.70 L469.20,361.70 C469.08,360.83 468.75,357.83 468.50,356.50 C468.25,355.17 468.37,355.02 467.70,353.70 C467.03,352.38 465.80,350.43 464.50,348.60 C463.20,346.77 461.00,344.40 459.90,342.70 C458.80,341.00 459.38,340.10 457.90,338.40 C456.42,336.70 452.80,334.22 451.00,332.50 C449.20,330.78 447.65,329.32 447.10,328.10 C446.55,326.88 446.75,326.65 447.70,325.20 C448.65,323.75 451.08,320.90 452.80,319.40 C454.52,317.90 456.30,317.47 458.00,316.20 C459.70,314.93 461.47,313.27 463.00,311.80 C464.53,310.33 466.37,308.87 467.20,307.40 C468.03,305.93 467.77,304.40 468.00,303.00 C468.23,301.60 468.40,300.45 468.60,299.00 C468.80,297.55 469.10,295.08 469.20,294.30 Z" fill="#c1477e" stroke="#333333" stroke-width="1.2" stroke-linejoin="round"/>
<line x1="469.20" y1="307.80" x2="469.20" y2="354.50" stroke="#333333" stroke-width="1.0" />
<rect x="466.65" y="322.60" width="5.10" height="12.10" fill="#fff" stroke="#333333" stroke-width="0.95"/>
<line x1="466.65" y1="328.60" x2="471.75" y2="328.60" stroke="#333333" stroke-width="1.9" />
<line x1="391.70" y1="236.50" x2="391.70" y2="377.60" stroke="#1a1a1a" stroke-width="1.1" />
<line x1="391.20" y1="377.10" x2="499.80" y2="377.10" stroke="#1a1a1a" stroke-width="1.1" />
<line x1="389.10" y1="262.90" x2="391.70" y2="262.90" stroke="#333" stroke-width="1.0" />
<text x="388.10" y="266.03" font-size="9.5" text-anchor="end" font-weight="normal" fill="#4d4d4d" stroke="#4d4d4d" stroke-width="0.2" >6</text>
<line x1="389.10" y1="297.50" x2="391.70" y2="297.50" stroke="#333" stroke-width="1.0" />
<text x="388.10" y="300.63" font-size="9.5" text-anchor="end" font-weight="normal" fill="#4d4d4d" stroke="#4d4d4d" stroke-width="0.2" >4</text>
<line x1="389.10" y1="332.00" x2="391.70" y2="332.00" stroke="#333" stroke-width="1.0" />
<text x="388.10" y="335.13" font-size="9.5" text-anchor="end" font-weight="normal" fill="#4d4d4d" stroke="#4d4d4d" stroke-width="0.2" >2</text>
<line x1="389.10" y1="366.40" x2="391.70" y2="366.40" stroke="#333" stroke-width="1.0" />
<text x="388.10" y="369.53" font-size="9.5" text-anchor="end" font-weight="normal" fill="#4d4d4d" stroke="#4d4d4d" stroke-width="0.2" >0</text>
<line x1="419.70" y1="377.10" x2="419.70" y2="379.70" stroke="#333" stroke-width="1.0" />
<text x="421.60" y="390.30" font-size="10" text-anchor="middle" font-weight="normal" fill="#4d4d4d" stroke="#4d4d4d" stroke-width="0.2" >ECM1</text>
<line x1="469.20" y1="377.10" x2="469.20" y2="379.70" stroke="#333" stroke-width="1.0" />
<text x="472.50" y="390.30" font-size="10" text-anchor="middle" font-weight="normal" fill="#4d4d4d" stroke="#4d4d4d" stroke-width="0.2" >ECM2</text>
<path d="M420.70,255.00 L420.70,253.00 L470.40,253.00 L470.40,255.00" fill="none" stroke="#444" stroke-width="1.0"/>
<text x="445.50" y="247.80" font-size="10.3" text-anchor="middle" font-weight="normal" fill="#1a1a1a" stroke="#1a1a1a" stroke-width="0.2" >1.3e−06</text>
<text x="514.30" y="224.00" font-size="19" text-anchor="start" font-weight="bold" fill="#000" >h</text>
<text x="619.80" y="216.40" font-size="12.4" text-anchor="middle" font-weight="normal" fill="#1a1a1a" stroke="#1a1a1a" stroke-width="0.2" >TNC</text>
<text x="0.00" y="0.00" font-size="11" text-anchor="middle" font-weight="normal" fill="#111" stroke="#111" stroke-width="0.2" transform="translate(541.70,301.90) rotate(-90)">Normalized gene expression</text>
<path d="M596.70,251.60 C596.78,252.33 597.07,254.42 597.20,256.00 C597.33,257.58 597.33,259.28 597.50,261.10 C597.67,262.92 597.70,264.72 598.20,266.90 C598.70,269.08 599.65,271.77 600.50,274.20 C601.35,276.63 602.28,279.07 603.30,281.50 C604.32,283.93 605.52,286.37 606.60,288.80 C607.68,291.23 609.08,293.92 609.80,296.10 C610.52,298.28 610.80,300.42 610.90,301.90 C611.00,303.38 610.72,303.65 610.40,305.00 C610.08,306.35 609.73,307.57 609.00,310.00 C608.27,312.43 606.73,316.78 606.00,319.60 C605.27,322.42 605.37,324.47 604.60,326.90 C603.83,329.33 602.35,331.77 601.40,334.20 C600.45,336.63 599.52,339.07 598.90,341.50 C598.28,343.93 597.97,346.72 597.70,348.80 C597.43,350.88 597.47,351.93 597.30,354.00 C597.13,356.07 596.80,360.00 596.70,361.20 L596.70,361.20 C596.60,360.00 596.27,356.07 596.10,354.00 C595.93,351.93 595.97,350.88 595.70,348.80 C595.43,346.72 595.12,343.93 594.50,341.50 C593.88,339.07 592.95,336.63 592.00,334.20 C591.05,331.77 589.57,329.33 588.80,326.90 C588.03,324.47 588.13,322.42 587.40,319.60 C586.67,316.78 585.13,312.43 584.40,310.00 C583.67,307.57 583.32,306.35 583.00,305.00 C582.68,303.65 582.40,303.38 582.50,301.90 C582.60,300.42 582.88,298.28 583.60,296.10 C584.32,293.92 585.72,291.23 586.80,288.80 C587.88,286.37 589.08,283.93 590.10,281.50 C591.12,279.07 592.05,276.63 592.90,274.20 C593.75,271.77 594.70,269.08 595.20,266.90 C595.70,264.72 595.73,262.92 595.90,261.10 C596.07,259.28 596.07,257.58 596.20,256.00 C596.33,254.42 596.62,252.33 596.70,251.60 Z" fill="#559e91" stroke="#333333" stroke-width="1.2" stroke-linejoin="round"/>
<line x1="596.70" y1="266.30" x2="596.70" y2="352.40" stroke="#333333" stroke-width="1.0" />
<rect x="594.35" y="294.60" width="4.70" height="18.00" fill="#fff" stroke="#333333" stroke-width="0.95"/>
<line x1="594.35" y1="302.70" x2="599.05" y2="302.70" stroke="#333333" stroke-width="1.9" />
<path d="M643.40,282.20 C643.48,283.17 643.73,286.17 643.90,288.00 C644.07,289.83 644.18,291.37 644.40,293.20 C644.62,295.03 644.58,297.30 645.20,299.00 C645.82,300.70 647.15,302.07 648.10,303.40 C649.05,304.73 649.85,305.77 650.90,307.00 C651.95,308.23 652.67,308.95 654.40,310.80 C656.13,312.65 659.63,315.90 661.30,318.10 C662.97,320.30 664.47,322.05 664.40,324.00 C664.33,325.95 662.57,327.85 660.90,329.80 C659.23,331.75 656.40,333.75 654.40,335.70 C652.40,337.65 650.13,339.32 648.90,341.50 C647.67,343.68 647.72,346.37 647.00,348.80 C646.28,351.23 645.12,353.90 644.60,356.10 C644.08,358.30 644.10,359.93 643.90,362.00 C643.70,364.07 643.48,367.42 643.40,368.50 L643.40,368.50 C643.32,367.42 643.10,364.07 642.90,362.00 C642.70,359.93 642.72,358.30 642.20,356.10 C641.68,353.90 640.52,351.23 639.80,348.80 C639.08,346.37 639.13,343.68 637.90,341.50 C636.67,339.32 634.40,337.65 632.40,335.70 C630.40,333.75 627.57,331.75 625.90,329.80 C624.23,327.85 622.47,325.95 622.40,324.00 C622.33,322.05 623.83,320.30 625.50,318.10 C627.17,315.90 630.67,312.65 632.40,310.80 C634.13,308.95 634.85,308.23 635.90,307.00 C636.95,305.77 637.75,304.73 638.70,303.40 C639.65,302.07 640.98,300.70 641.60,299.00 C642.22,297.30 642.18,295.03 642.40,293.20 C642.62,291.37 642.73,289.83 642.90,288.00 C643.07,286.17 643.32,283.17 643.40,282.20 Z" fill="#c1477e" stroke="#333333" stroke-width="1.2" stroke-linejoin="round"/>
<line x1="643.40" y1="302.80" x2="643.40" y2="352.40" stroke="#333333" stroke-width="1.0" />
<rect x="641.20" y="317.40" width="4.40" height="15.00" fill="#fff" stroke="#333333" stroke-width="0.95"/>
<line x1="641.20" y1="324.70" x2="645.60" y2="324.70" stroke="#333333" stroke-width="1.9" />
<line x1="568.70" y1="229.00" x2="568.70" y2="376.30" stroke="#1a1a1a" stroke-width="1.1" />
<line x1="568.20" y1="375.80" x2="671.70" y2="375.80" stroke="#1a1a1a" stroke-width="1.1" />
<line x1="566.10" y1="239.00" x2="568.70" y2="239.00" stroke="#333" stroke-width="1.0" />
<text x="565.30" y="242.04" font-size="9.2" text-anchor="end" font-weight="normal" fill="#4d4d4d" stroke="#4d4d4d" stroke-width="0.2" >10.0</text>
<line x1="566.10" y1="276.20" x2="568.70" y2="276.20" stroke="#333" stroke-width="1.0" />
<text x="565.30" y="279.24" font-size="9.2" text-anchor="end" font-weight="normal" fill="#4d4d4d" stroke="#4d4d4d" stroke-width="0.2" >7.5</text>
<line x1="566.10" y1="313.60" x2="568.70" y2="313.60" stroke="#333" stroke-width="1.0" />
<text x="565.30" y="316.64" font-size="9.2" text-anchor="end" font-weight="normal" fill="#4d4d4d" stroke="#4d4d4d" stroke-width="0.2" >5.0</text>
<line x1="566.10" y1="350.80" x2="568.70" y2="350.80" stroke="#333" stroke-width="1.0" />
<text x="565.30" y="353.84" font-size="9.2" text-anchor="end" font-weight="normal" fill="#4d4d4d" stroke="#4d4d4d" stroke-width="0.2" >2.5</text>
<line x1="596.70" y1="375.80" x2="596.70" y2="378.40" stroke="#333" stroke-width="1.0" />
<text x="598.20" y="387.60" font-size="10" text-anchor="middle" font-weight="normal" fill="#4d4d4d" stroke="#4d4d4d" stroke-width="0.2" >ECM1</text>
<line x1="643.40" y1="375.80" x2="643.40" y2="378.40" stroke="#333" stroke-width="1.0" />
<text x="645.10" y="387.60" font-size="10" text-anchor="middle" font-weight="normal" fill="#4d4d4d" stroke="#4d4d4d" stroke-width="0.2" >ECM2</text>
<path d="M596.60,245.20 L596.60,243.20 L643.70,243.20 L643.70,245.20" fill="none" stroke="#444" stroke-width="1.0"/>
<text x="620.50" y="239.00" font-size="10.3" text-anchor="middle" font-weight="normal" fill="#1a1a1a" stroke="#1a1a1a" stroke-width="0.2" >2.7e−16</text>
<text x="3.80" y="434.50" font-size="19" text-anchor="start" font-weight="bold" fill="#000" >i</text>
<text x="95.00" y="429.00" font-size="12.4" text-anchor="middle" font-weight="normal" fill="#1a1a1a" stroke="#1a1a1a" stroke-width="0.2" >VIM</text>
<text x="0.00" y="0.00" font-size="11" text-anchor="middle" font-weight="normal" fill="#111" stroke="#111" stroke-width="0.2" transform="translate(28.90,511.80) rotate(-90)">Normalized gene expression</text>
<path d="M77.70,446.60 C77.78,447.17 78.03,448.92 78.20,450.00 C78.37,451.08 78.50,451.85 78.70,453.10 C78.90,454.35 78.72,456.03 79.40,457.50 C80.08,458.97 81.47,460.43 82.80,461.90 C84.13,463.37 85.93,464.60 87.40,466.30 C88.87,468.00 90.38,470.15 91.60,472.10 C92.82,474.05 93.88,476.05 94.70,478.00 C95.52,479.95 96.05,481.87 96.50,483.80 C96.95,485.73 97.40,487.65 97.40,489.60 C97.40,491.55 97.17,493.55 96.50,495.50 C95.83,497.45 94.40,499.72 93.40,501.30 C92.40,502.88 91.30,503.42 90.50,505.00 C89.70,506.58 89.03,508.85 88.60,510.80 C88.17,512.75 88.43,514.75 87.90,516.70 C87.37,518.65 86.43,520.55 85.40,522.50 C84.37,524.45 82.77,526.45 81.70,528.40 C80.63,530.35 79.55,532.27 79.00,534.20 C78.45,536.13 78.62,537.68 78.40,540.00 C78.18,542.32 77.82,546.75 77.70,548.10 L77.70,548.10 C77.58,546.75 77.22,542.32 77.00,540.00 C76.78,537.68 76.95,536.13 76.40,534.20 C75.85,532.27 74.77,530.35 73.70,528.40 C72.63,526.45 71.03,524.45 70.00,522.50 C68.97,520.55 68.03,518.65 67.50,516.70 C66.97,514.75 67.23,512.75 66.80,510.80 C66.37,508.85 65.70,506.58 64.90,505.00 C64.10,503.42 63.00,502.88 62.00,501.30 C61.00,499.72 59.57,497.45 58.90,495.50 C58.23,493.55 58.00,491.55 58.00,489.60 C58.00,487.65 58.45,485.73 58.90,483.80 C59.35,481.87 59.88,479.95 60.70,478.00 C61.52,476.05 62.58,474.05 63.80,472.10 C65.02,470.15 66.53,468.00 68.00,466.30 C69.47,464.60 71.27,463.37 72.60,461.90 C73.93,460.43 75.32,458.97 76.00,457.50 C76.68,456.03 76.50,454.35 76.70,453.10 C76.90,451.85 77.03,451.08 77.20,450.00 C77.37,448.92 77.62,447.17 77.70,446.60 Z" fill="#559e91" stroke="#333333" stroke-width="1.2" stroke-linejoin="round"/>
<line x1="77.70" y1="466.30" x2="77.70" y2="529.00" stroke="#333333" stroke-width="1.0" />
<rect x="75.40" y="481.60" width="4.60" height="21.90" fill="#fff" stroke="#333333" stroke-width="0.95"/>
<line x1="75.40" y1="493.00" x2="80.00" y2="493.00" stroke="#333333" stroke-width="1.9" />
<path d="M125.60,469.90 C125.68,470.92 125.97,473.93 126.10,476.00 C126.23,478.07 126.27,480.27 126.40,482.30 C126.53,484.33 126.57,486.25 126.90,488.20 C127.23,490.15 127.77,492.05 128.40,494.00 C129.03,495.95 129.50,497.95 130.70,499.90 C131.90,501.85 134.23,503.88 135.60,505.70 C136.97,507.52 137.95,508.97 138.90,510.80 C139.85,512.63 140.62,514.50 141.30,516.70 C141.98,518.90 142.27,521.82 143.00,524.00 C143.73,526.18 144.97,527.85 145.70,529.80 C146.43,531.75 147.47,533.75 147.40,535.70 C147.33,537.65 146.50,539.32 145.30,541.50 C144.10,543.68 142.15,546.37 140.20,548.80 C138.25,551.23 135.67,553.67 133.60,556.10 C131.53,558.53 129.00,561.45 127.80,563.40 C126.60,565.35 126.77,565.62 126.40,567.80 C126.03,569.98 125.73,575.05 125.60,576.50 L125.60,576.50 C125.47,575.05 125.17,569.98 124.80,567.80 C124.43,565.62 124.60,565.35 123.40,563.40 C122.20,561.45 119.67,558.53 117.60,556.10 C115.53,553.67 112.95,551.23 111.00,548.80 C109.05,546.37 107.10,543.68 105.90,541.50 C104.70,539.32 103.87,537.65 103.80,535.70 C103.73,533.75 104.77,531.75 105.50,529.80 C106.23,527.85 107.47,526.18 108.20,524.00 C108.93,521.82 109.22,518.90 109.90,516.70 C110.58,514.50 111.35,512.63 112.30,510.80 C113.25,508.97 114.23,507.52 115.60,505.70 C116.97,503.88 119.30,501.85 120.50,499.90 C121.70,497.95 122.17,495.95 122.80,494.00 C123.43,492.05 123.97,490.15 124.30,488.20 C124.63,486.25 124.67,484.33 124.80,482.30 C124.93,480.27 124.97,478.07 125.10,476.00 C125.23,473.93 125.52,470.92 125.60,469.90 Z" fill="#c1477e" stroke="#333333" stroke-width="1.2" stroke-linejoin="round"/>
<line x1="125.60" y1="486.70" x2="125.60" y2="561.20" stroke="#333333" stroke-width="1.0" />
<rect x="123.05" y="516.70" width="5.10" height="23.00" fill="#fff" stroke="#333333" stroke-width="0.95"/>
<line x1="123.05" y1="531.70" x2="128.15" y2="531.70" stroke="#333333" stroke-width="1.9" />
<line x1="49.70" y1="441.40" x2="49.70" y2="582.70" stroke="#1a1a1a" stroke-width="1.1" />
<line x1="49.20" y1="582.20" x2="153.70" y2="582.20" stroke="#1a1a1a" stroke-width="1.1" />
<line x1="47.10" y1="467.80" x2="49.70" y2="467.80" stroke="#333" stroke-width="1.0" />
<text x="44.70" y="470.70" font-size="8.8" text-anchor="end" font-weight="normal" fill="#4d4d4d" stroke="#4d4d4d" stroke-width="0.2" >12</text>
<line x1="47.10" y1="495.40" x2="49.70" y2="495.40" stroke="#333" stroke-width="1.0" />
<text x="44.70" y="498.30" font-size="8.8" text-anchor="end" font-weight="normal" fill="#4d4d4d" stroke="#4d4d4d" stroke-width="0.2" >10</text>
<line x1="47.10" y1="522.50" x2="49.70" y2="522.50" stroke="#333" stroke-width="1.0" />
<text x="44.70" y="525.40" font-size="8.8" text-anchor="end" font-weight="normal" fill="#4d4d4d" stroke="#4d4d4d" stroke-width="0.2" >8</text>
<line x1="47.10" y1="550.00" x2="49.70" y2="550.00" stroke="#333" stroke-width="1.0" />
<text x="44.70" y="552.90" font-size="8.8" text-anchor="end" font-weight="normal" fill="#4d4d4d" stroke="#4d4d4d" stroke-width="0.2" >6</text>
<line x1="47.10" y1="577.50" x2="49.70" y2="577.50" stroke="#333" stroke-width="1.0" />
<text x="44.70" y="580.40" font-size="8.8" text-anchor="end" font-weight="normal" fill="#4d4d4d" stroke="#4d4d4d" stroke-width="0.2" >4</text>
<line x1="77.70" y1="582.20" x2="77.70" y2="584.80" stroke="#333" stroke-width="1.0" />
<text x="80.20" y="595.50" font-size="10" text-anchor="middle" font-weight="normal" fill="#4d4d4d" stroke="#4d4d4d" stroke-width="0.2" >ECM1</text>
<line x1="125.60" y1="582.20" x2="125.60" y2="584.80" stroke="#333" stroke-width="1.0" />
<text x="128.10" y="596.00" font-size="10" text-anchor="middle" font-weight="normal" fill="#4d4d4d" stroke="#4d4d4d" stroke-width="0.2" >ECM2</text>
<path d="M77.20,444.90 L77.20,442.90 L125.30,442.90 L125.30,444.90" fill="none" stroke="#444" stroke-width="1.0"/>
<text x="102.30" y="441.00" font-size="10.3" text-anchor="middle" font-weight="normal" fill="#1a1a1a" stroke="#1a1a1a" stroke-width="0.2" >p &lt; 2.22e−16</text>
<text x="175.60" y="433.80" font-size="19" text-anchor="start" font-weight="bold" fill="#000" >j</text>
<text x="273.60" y="431.40" font-size="12.4" text-anchor="middle" font-weight="normal" fill="#1a1a1a" stroke="#1a1a1a" stroke-width="0.2" >SNAI1</text>
<text x="0.00" y="0.00" font-size="11" text-anchor="middle" font-weight="normal" fill="#111" stroke="#111" stroke-width="0.2" transform="translate(203.20,511.80) rotate(-90)">Normalized gene expression</text>
<path d="M253.90,462.00 C254.00,463.00 254.33,466.00 254.50,468.00 C254.67,470.00 254.67,471.30 254.90,474.00 C255.13,476.70 255.70,481.28 255.90,484.20 C256.10,487.12 256.22,489.32 256.10,491.50 C255.98,493.68 255.23,495.35 255.20,497.30 C255.17,499.25 255.60,501.00 255.90,503.20 C256.20,505.40 256.63,508.07 257.00,510.50 C257.37,512.93 257.67,516.08 258.10,517.80 C258.53,519.52 259.02,519.32 259.60,520.80 C260.18,522.28 260.88,524.50 261.60,526.70 C262.32,528.90 263.30,531.33 263.90,534.00 C264.50,536.67 265.22,540.03 265.20,542.70 C265.18,545.37 264.72,547.57 263.80,550.00 C262.88,552.43 260.92,555.10 259.70,557.30 C258.48,559.50 257.30,561.25 256.50,563.20 C255.70,565.15 255.33,566.57 254.90,569.00 C254.47,571.43 254.07,576.33 253.90,577.80 L253.90,577.80 C253.73,576.33 253.33,571.43 252.90,569.00 C252.47,566.57 252.10,565.15 251.30,563.20 C250.50,561.25 249.32,559.50 248.10,557.30 C246.88,555.10 244.92,552.43 244.00,550.00 C243.08,547.57 242.62,545.37 242.60,542.70 C242.58,540.03 243.30,536.67 243.90,534.00 C244.50,531.33 245.48,528.90 246.20,526.70 C246.92,524.50 247.62,522.28 248.20,520.80 C248.78,519.32 249.27,519.52 249.70,517.80 C250.13,516.08 250.43,512.93 250.80,510.50 C251.17,508.07 251.60,505.40 251.90,503.20 C252.20,501.00 252.63,499.25 252.60,497.30 C252.57,495.35 251.82,493.68 251.70,491.50 C251.58,489.32 251.70,487.12 251.90,484.20 C252.10,481.28 252.67,476.70 252.90,474.00 C253.13,471.30 253.13,470.00 253.30,468.00 C253.47,466.00 253.80,463.00 253.90,462.00 Z" fill="#559e91" stroke="#333333" stroke-width="1.2" stroke-linejoin="round"/>
<line x1="253.90" y1="507.80" x2="253.90" y2="558.10" stroke="#333333" stroke-width="1.0" />
<rect x="251.55" y="525.50" width="4.70" height="22.80" fill="#fff" stroke="#333333" stroke-width="0.95"/>
<line x1="251.55" y1="539.10" x2="256.25" y2="539.10" stroke="#333333" stroke-width="1.9" />
<path d="M304.60,517.20 C304.85,518.30 305.43,521.73 306.10,523.80 C306.77,525.87 307.33,527.67 308.60,529.60 C309.87,531.53 311.87,533.45 313.70,535.40 C315.53,537.35 317.78,539.35 319.60,541.30 C321.42,543.25 323.43,545.40 324.60,547.10 C325.77,548.80 327.13,549.92 326.60,551.50 C326.07,553.08 323.97,554.90 321.40,556.60 C318.83,558.30 313.75,560.23 311.20,561.70 C308.65,563.17 307.20,564.18 306.10,565.40 C305.00,566.62 304.85,568.40 304.60,569.00 L304.60,569.00 C304.35,568.40 304.20,566.62 303.10,565.40 C302.00,564.18 300.55,563.17 298.00,561.70 C295.45,560.23 290.37,558.30 287.80,556.60 C285.23,554.90 283.13,553.08 282.60,551.50 C282.07,549.92 283.43,548.80 284.60,547.10 C285.77,545.40 287.78,543.25 289.60,541.30 C291.42,539.35 293.67,537.35 295.50,535.40 C297.33,533.45 299.33,531.53 300.60,529.60 C301.87,527.67 302.43,525.87 303.10,523.80 C303.77,521.73 304.35,518.30 304.60,517.20 Z" fill="#c1477e" stroke="#333333" stroke-width="1.2" stroke-linejoin="round"/>
<line x1="304.60" y1="529.70" x2="304.60" y2="560.30" stroke="#333333" stroke-width="1.0" />
<rect x="302.10" y="543.50" width="5.00" height="10.90" fill="#fff" stroke="#333333" stroke-width="0.95"/>
<line x1="302.10" y1="549.60" x2="307.10" y2="549.60" stroke="#333333" stroke-width="1.9" />
<line x1="223.50" y1="441.00" x2="223.50" y2="584.60" stroke="#1a1a1a" stroke-width="1.1" />
<line x1="223.00" y1="584.10" x2="334.50" y2="584.10" stroke="#1a1a1a" stroke-width="1.1" />
<line x1="220.90" y1="450.70" x2="223.50" y2="450.70" stroke="#333" stroke-width="1.0" />
<text x="220.40" y="453.87" font-size="9.6" text-anchor="end" font-weight="normal" fill="#4d4d4d" stroke="#4d4d4d" stroke-width="0.2" >4</text>
<line x1="220.90" y1="478.60" x2="223.50" y2="478.60" stroke="#333" stroke-width="1.0" />
<text x="220.40" y="481.77" font-size="9.6" text-anchor="end" font-weight="normal" fill="#4d4d4d" stroke="#4d4d4d" stroke-width="0.2" >3</text>
<line x1="220.90" y1="506.70" x2="223.50" y2="506.70" stroke="#333" stroke-width="1.0" />
<text x="220.40" y="509.87" font-size="9.6" text-anchor="end" font-weight="normal" fill="#4d4d4d" stroke="#4d4d4d" stroke-width="0.2" >2</text>
<line x1="220.90" y1="534.40" x2="223.50" y2="534.40" stroke="#333" stroke-width="1.0" />
<text x="220.40" y="537.57" font-size="9.6" text-anchor="end" font-weight="normal" fill="#4d4d4d" stroke="#4d4d4d" stroke-width="0.2" >1</text>
<line x1="220.90" y1="562.50" x2="223.50" y2="562.50" stroke="#333" stroke-width="1.0" />
<text x="220.40" y="565.67" font-size="9.6" text-anchor="end" font-weight="normal" fill="#4d4d4d" stroke="#4d4d4d" stroke-width="0.2" >0</text>
<line x1="253.90" y1="584.10" x2="253.90" y2="586.70" stroke="#333" stroke-width="1.0" />
<text x="255.50" y="597.50" font-size="10" text-anchor="middle" font-weight="normal" fill="#4d4d4d" stroke="#4d4d4d" stroke-width="0.2" >ECM1</text>
<line x1="304.60" y1="584.10" x2="304.60" y2="586.70" stroke="#333" stroke-width="1.0" />
<text x="306.60" y="597.70" font-size="10" text-anchor="middle" font-weight="normal" fill="#4d4d4d" stroke="#4d4d4d" stroke-width="0.2" >ECM2</text>
<path d="M253.70,456.90 L253.70,454.90 L304.60,454.90 L304.60,456.90" fill="none" stroke="#444" stroke-width="1.0"/>
<text x="281.90" y="452.30" font-size="10.3" text-anchor="middle" font-weight="normal" fill="#1a1a1a" stroke="#1a1a1a" stroke-width="0.2" >1.9e−07</text>
<text x="346.80" y="434.50" font-size="19" text-anchor="start" font-weight="bold" fill="#000" >k</text>
<text x="438.20" y="430.20" font-size="12.4" text-anchor="middle" font-weight="normal" fill="#1a1a1a" stroke="#1a1a1a" stroke-width="0.2" >SNAI2</text>
<text x="0.00" y="0.00" font-size="11" text-anchor="middle" font-weight="normal" fill="#111" stroke="#111" stroke-width="0.2" transform="translate(372.20,511.80) rotate(-90)">Normalized gene expression</text>
<path d="M420.90,451.00 C420.98,451.83 421.23,454.07 421.40,456.00 C421.57,457.93 421.68,460.28 421.90,462.60 C422.12,464.92 422.50,467.47 422.70,469.90 C422.90,472.33 423.00,474.77 423.10,477.20 C423.20,479.63 423.27,482.07 423.30,484.50 C423.33,486.93 423.15,489.37 423.30,491.80 C423.45,494.23 423.68,496.67 424.20,499.10 C424.72,501.53 425.78,503.97 426.40,506.40 C427.02,508.83 427.17,511.30 427.90,513.70 C428.63,516.10 429.63,518.63 430.80,520.80 C431.97,522.97 433.75,524.75 434.90,526.70 C436.05,528.65 437.15,530.92 437.70,532.50 C438.25,534.08 438.47,534.73 438.20,536.20 C437.93,537.67 437.13,539.23 436.10,541.30 C435.07,543.37 433.38,546.17 432.00,548.60 C430.62,551.03 429.22,553.47 427.80,555.90 C426.38,558.33 424.48,561.02 423.50,563.20 C422.52,565.38 422.33,566.45 421.90,569.00 C421.47,571.55 421.07,576.92 420.90,578.50 L420.90,578.50 C420.73,576.92 420.33,571.55 419.90,569.00 C419.47,566.45 419.28,565.38 418.30,563.20 C417.32,561.02 415.42,558.33 414.00,555.90 C412.58,553.47 411.18,551.03 409.80,548.60 C408.42,546.17 406.73,543.37 405.70,541.30 C404.67,539.23 403.87,537.67 403.60,536.20 C403.33,534.73 403.55,534.08 404.10,532.50 C404.65,530.92 405.75,528.65 406.90,526.70 C408.05,524.75 409.83,522.97 411.00,520.80 C412.17,518.63 413.17,516.10 413.90,513.70 C414.63,511.30 414.78,508.83 415.40,506.40 C416.02,503.97 417.08,501.53 417.60,499.10 C418.12,496.67 418.35,494.23 418.50,491.80 C418.65,489.37 418.47,486.93 418.50,484.50 C418.53,482.07 418.60,479.63 418.70,477.20 C418.80,474.77 418.90,472.33 419.10,469.90 C419.30,467.47 419.68,464.92 419.90,462.60 C420.12,460.28 420.23,457.93 420.40,456.00 C420.57,454.07 420.82,451.83 420.90,451.00 Z" fill="#559e91" stroke="#333333" stroke-width="1.2" stroke-linejoin="round"/>
<line x1="420.90" y1="483.70" x2="420.90" y2="557.30" stroke="#333333" stroke-width="1.0" />
<rect x="418.50" y="517.20" width="4.80" height="24.10" fill="#fff" stroke="#333333" stroke-width="0.95"/>
<line x1="418.50" y1="532.50" x2="423.30" y2="532.50" stroke="#333333" stroke-width="1.9" />
<path d="M466.50,486.20 C466.58,487.00 466.83,489.33 467.00,491.00 C467.17,492.67 467.32,494.12 467.50,496.20 C467.68,498.28 467.88,501.32 468.10,503.50 C468.32,505.68 468.58,507.35 468.80,509.30 C469.02,511.25 468.93,513.28 469.40,515.20 C469.87,517.12 470.75,518.88 471.60,520.80 C472.45,522.72 473.17,524.50 474.50,526.70 C475.83,528.90 477.90,531.57 479.60,534.00 C481.30,536.43 483.18,538.87 484.70,541.30 C486.22,543.73 487.93,546.90 488.70,548.60 C489.47,550.30 489.65,550.28 489.30,551.50 C488.95,552.72 488.57,554.20 486.60,555.90 C484.63,557.60 480.37,560.00 477.50,561.70 C474.63,563.40 471.07,564.77 469.40,566.10 C467.73,567.43 467.98,568.12 467.50,569.70 C467.02,571.28 466.67,574.62 466.50,575.60 L466.50,575.60 C466.33,574.62 465.98,571.28 465.50,569.70 C465.02,568.12 465.27,567.43 463.60,566.10 C461.93,564.77 458.37,563.40 455.50,561.70 C452.63,560.00 448.37,557.60 446.40,555.90 C444.43,554.20 444.05,552.72 443.70,551.50 C443.35,550.28 443.53,550.30 444.30,548.60 C445.07,546.90 446.78,543.73 448.30,541.30 C449.82,538.87 451.70,536.43 453.40,534.00 C455.10,531.57 457.17,528.90 458.50,526.70 C459.83,524.50 460.55,522.72 461.40,520.80 C462.25,518.88 463.13,517.12 463.60,515.20 C464.07,513.28 463.98,511.25 464.20,509.30 C464.42,507.35 464.68,505.68 464.90,503.50 C465.12,501.32 465.32,498.28 465.50,496.20 C465.68,494.12 465.83,492.67 466.00,491.00 C466.17,489.33 466.42,487.00 466.50,486.20 Z" fill="#c1477e" stroke="#333333" stroke-width="1.2" stroke-linejoin="round"/>
<line x1="466.50" y1="520.20" x2="466.50" y2="561.80" stroke="#333333" stroke-width="1.0" />
<rect x="463.95" y="537.60" width="5.10" height="16.10" fill="#fff" stroke="#333333" stroke-width="0.95"/>
<line x1="463.95" y1="547.80" x2="469.05" y2="547.80" stroke="#333333" stroke-width="1.9" />
<line x1="390.20" y1="441.50" x2="390.20" y2="585.10" stroke="#1a1a1a" stroke-width="1.1" />
<line x1="389.70" y1="584.60" x2="501.50" y2="584.60" stroke="#1a1a1a" stroke-width="1.1" />
<line x1="387.60" y1="475.90" x2="390.20" y2="475.90" stroke="#333" stroke-width="1.0" />
<text x="386.60" y="479.10" font-size="9.7" text-anchor="end" font-weight="normal" fill="#4d4d4d" stroke="#4d4d4d" stroke-width="0.2" >4</text>
<line x1="387.60" y1="522.60" x2="390.20" y2="522.60" stroke="#333" stroke-width="1.0" />
<text x="386.60" y="525.80" font-size="9.7" text-anchor="end" font-weight="normal" fill="#4d4d4d" stroke="#4d4d4d" stroke-width="0.2" >2</text>
<line x1="387.60" y1="569.00" x2="390.20" y2="569.00" stroke="#333" stroke-width="1.0" />
<text x="386.60" y="572.20" font-size="9.7" text-anchor="end" font-weight="normal" fill="#4d4d4d" stroke="#4d4d4d" stroke-width="0.2" >0</text>
<line x1="420.90" y1="584.60" x2="420.90" y2="587.20" stroke="#333" stroke-width="1.0" />
<text x="422.50" y="597.60" font-size="10" text-anchor="middle" font-weight="normal" fill="#4d4d4d" stroke="#4d4d4d" stroke-width="0.2" >ECM1</text>
<line x1="466.50" y1="584.60" x2="466.50" y2="587.20" stroke="#333" stroke-width="1.0" />
<text x="469.00" y="597.60" font-size="10" text-anchor="middle" font-weight="normal" fill="#4d4d4d" stroke="#4d4d4d" stroke-width="0.2" >ECM2</text>
<path d="M420.70,452.50 L420.70,450.50 L471.60,450.50 L471.60,452.50" fill="none" stroke="#444" stroke-width="1.0"/>
<text x="446.00" y="447.70" font-size="10.3" text-anchor="middle" font-weight="normal" fill="#1a1a1a" stroke="#1a1a1a" stroke-width="0.2" >5.7e−08</text>
<text x="514.70" y="434.50" font-size="19" text-anchor="start" font-weight="bold" fill="#000" >l</text>
<text x="622.80" y="426.90" font-size="12.4" text-anchor="middle" font-weight="normal" fill="#1a1a1a" stroke="#1a1a1a" stroke-width="0.2" >FN1</text>
<text x="0.00" y="0.00" font-size="11" text-anchor="middle" font-weight="normal" fill="#111" stroke="#111" stroke-width="0.2" transform="translate(543.20,511.80) rotate(-90)">Normalized gene expression</text>
<path d="M601.70,445.00 C601.80,447.50 602.17,454.17 602.30,460.00 C602.43,465.83 602.40,475.20 602.50,480.00 C602.60,484.80 602.48,486.37 602.90,488.80 C603.32,491.23 604.07,492.67 605.00,494.60 C605.93,496.53 607.43,498.45 608.50,500.40 C609.57,502.35 610.58,504.10 611.40,506.30 C612.22,508.50 612.92,511.17 613.40,513.60 C613.88,516.03 614.33,518.47 614.30,520.90 C614.27,523.33 613.83,525.77 613.20,528.20 C612.57,530.63 611.68,533.07 610.50,535.50 C609.32,537.93 607.20,540.37 606.10,542.80 C605.00,545.23 604.47,547.43 603.90,550.10 C603.33,552.77 603.07,554.92 602.70,558.80 C602.33,562.68 601.87,570.97 601.70,573.40 L601.70,573.40 C601.53,570.97 601.07,562.68 600.70,558.80 C600.33,554.92 600.07,552.77 599.50,550.10 C598.93,547.43 598.40,545.23 597.30,542.80 C596.20,540.37 594.08,537.93 592.90,535.50 C591.72,533.07 590.83,530.63 590.20,528.20 C589.57,525.77 589.13,523.33 589.10,520.90 C589.07,518.47 589.52,516.03 590.00,513.60 C590.48,511.17 591.18,508.50 592.00,506.30 C592.82,504.10 593.83,502.35 594.90,500.40 C595.97,498.45 597.47,496.53 598.40,494.60 C599.33,492.67 600.08,491.23 600.50,488.80 C600.92,486.37 600.80,484.80 600.90,480.00 C601.00,475.20 600.97,465.83 601.10,460.00 C601.23,454.17 601.60,447.50 601.70,445.00 Z" fill="#559e91" stroke="#333333" stroke-width="1.2" stroke-linejoin="round"/>
<line x1="601.70" y1="495.50" x2="601.70" y2="555.30" stroke="#333333" stroke-width="1.0" />
<rect x="599.35" y="510.90" width="4.70" height="19.90" fill="#fff" stroke="#333333" stroke-width="0.95"/>
<line x1="599.35" y1="519.10" x2="604.05" y2="519.10" stroke="#333333" stroke-width="1.9" />
<path d="M648.00,514.30 C648.10,514.92 648.40,516.67 648.60,518.00 C648.80,519.33 648.82,520.60 649.20,522.30 C649.58,524.00 649.83,526.25 650.90,528.20 C651.97,530.15 654.38,532.30 655.60,534.00 C656.82,535.70 657.60,537.18 658.20,538.40 C658.80,539.62 658.28,540.08 659.20,541.30 C660.12,542.52 662.07,544.00 663.70,545.70 C665.33,547.40 668.88,549.55 669.00,551.50 C669.12,553.45 666.62,555.45 664.40,557.40 C662.18,559.35 658.17,561.25 655.70,563.20 C653.23,565.15 650.77,567.47 649.60,569.10 C648.43,570.73 648.97,571.30 648.70,573.00 C648.43,574.70 648.12,578.25 648.00,579.30 L648.00,579.30 C647.88,578.25 647.57,574.70 647.30,573.00 C647.03,571.30 647.57,570.73 646.40,569.10 C645.23,567.47 642.77,565.15 640.30,563.20 C637.83,561.25 633.82,559.35 631.60,557.40 C629.38,555.45 626.88,553.45 627.00,551.50 C627.12,549.55 630.67,547.40 632.30,545.70 C633.93,544.00 635.88,542.52 636.80,541.30 C637.72,540.08 637.20,539.62 637.80,538.40 C638.40,537.18 639.18,535.70 640.40,534.00 C641.62,532.30 644.03,530.15 645.10,528.20 C646.17,526.25 646.42,524.00 646.80,522.30 C647.18,520.60 647.20,519.33 647.40,518.00 C647.60,516.67 647.90,514.92 648.00,514.30 Z" fill="#c1477e" stroke="#333333" stroke-width="1.2" stroke-linejoin="round"/>
<line x1="648.00" y1="521.80" x2="648.00" y2="568.50" stroke="#333333" stroke-width="1.0" />
<rect x="645.45" y="543.20" width="5.10" height="13.20" fill="#fff" stroke="#333333" stroke-width="0.95"/>
<line x1="645.45" y1="550.80" x2="650.55" y2="550.80" stroke="#333333" stroke-width="1.9" />
<line x1="574.00" y1="440.20" x2="574.00" y2="585.80" stroke="#1a1a1a" stroke-width="1.1" />
<line x1="573.50" y1="585.30" x2="673.80" y2="585.30" stroke="#1a1a1a" stroke-width="1.1" />
<line x1="571.40" y1="451.50" x2="574.00" y2="451.50" stroke="#333" stroke-width="1.0" />
<text x="570.40" y="454.80" font-size="10.0" text-anchor="end" font-weight="normal" fill="#4d4d4d" stroke="#4d4d4d" stroke-width="0.2" >12.5</text>
<line x1="571.40" y1="486.70" x2="574.00" y2="486.70" stroke="#333" stroke-width="1.0" />
<text x="570.40" y="490.00" font-size="10.0" text-anchor="end" font-weight="normal" fill="#4d4d4d" stroke="#4d4d4d" stroke-width="0.2" >10.0</text>
<line x1="571.40" y1="521.80" x2="574.00" y2="521.80" stroke="#333" stroke-width="1.0" />
<text x="570.40" y="525.10" font-size="10.0" text-anchor="end" font-weight="normal" fill="#4d4d4d" stroke="#4d4d4d" stroke-width="0.2" >7.5</text>
<line x1="571.40" y1="557.00" x2="574.00" y2="557.00" stroke="#333" stroke-width="1.0" />
<text x="570.40" y="560.30" font-size="10.0" text-anchor="end" font-weight="normal" fill="#4d4d4d" stroke="#4d4d4d" stroke-width="0.2" >5.0</text>
<line x1="601.70" y1="585.30" x2="601.70" y2="587.90" stroke="#333" stroke-width="1.0" />
<text x="603.70" y="598.40" font-size="10" text-anchor="middle" font-weight="normal" fill="#4d4d4d" stroke="#4d4d4d" stroke-width="0.2" >ECM1</text>
<line x1="648.00" y1="585.30" x2="648.00" y2="587.90" stroke="#333" stroke-width="1.0" />
<text x="651.00" y="599.40" font-size="10" text-anchor="middle" font-weight="normal" fill="#4d4d4d" stroke="#4d4d4d" stroke-width="0.2" >ECM2</text>
<path d="M601.70,443.50 L601.70,441.50 L648.40,441.50 L648.40,443.50" fill="none" stroke="#444" stroke-width="1.0"/>
<text x="625.00" y="440.20" font-size="10.3" text-anchor="middle" font-weight="normal" fill="#1a1a1a" stroke="#1a1a1a" stroke-width="0.2" >p &lt; 2.22e−16</text>
<text x="-0.30" y="641.20" font-size="19" text-anchor="start" font-weight="bold" fill="#000" >m</text>
<text x="102.30" y="641.40" font-size="13.2" text-anchor="middle" font-weight="normal" fill="#111" stroke="#111" stroke-width="0.2" >MKI67</text>
<text x="0.00" y="0.00" font-size="11.3" text-anchor="middle" font-weight="normal" fill="#000" stroke="#000" stroke-width="0.2" transform="translate(30.20,711.30) rotate(-90)">Normalized gene expression</text>
<path d="M69.10,787.00 L69.10,724.60 L97.40,724.60 L97.40,787.00" fill="#fff" stroke="#4a9e92" stroke-width="1.6"/>
<circle cx="82.75" cy="667.37" r="1.25" fill="#4a9e92"/>
<circle cx="82.75" cy="670.43" r="1.25" fill="#4a9e92"/>
<circle cx="78.55" cy="672.78" r="1.25" fill="#4a9e92"/>
<circle cx="82.75" cy="677.17" r="1.25" fill="#4a9e92"/>
<circle cx="86.95" cy="678.67" r="1.25" fill="#4a9e92"/>
<circle cx="78.55" cy="678.78" r="1.25" fill="#4a9e92"/>
<circle cx="91.15" cy="679.84" r="1.25" fill="#4a9e92"/>
<circle cx="82.75" cy="681.31" r="1.25" fill="#4a9e92"/>
<circle cx="78.55" cy="683.07" r="1.25" fill="#4a9e92"/>
<circle cx="82.75" cy="685.15" r="1.25" fill="#4a9e92"/>
<circle cx="78.55" cy="686.30" r="1.25" fill="#4a9e92"/>
<circle cx="86.95" cy="687.24" r="1.25" fill="#4a9e92"/>
<circle cx="82.75" cy="689.60" r="1.25" fill="#4a9e92"/>
<circle cx="86.95" cy="691.43" r="1.25" fill="#4a9e92"/>
<circle cx="80.65" cy="692.10" r="1.25" fill="#4a9e92"/>
<circle cx="76.45" cy="693.75" r="1.25" fill="#4a9e92"/>
<circle cx="82.75" cy="694.75" r="1.25" fill="#4a9e92"/>
<circle cx="78.55" cy="696.21" r="1.25" fill="#4a9e92"/>
<circle cx="82.75" cy="698.17" r="1.25" fill="#4a9e92"/>
<circle cx="86.95" cy="700.12" r="1.25" fill="#4a9e92"/>
<circle cx="82.75" cy="701.08" r="1.25" fill="#4a9e92"/>
<circle cx="78.55" cy="702.35" r="1.25" fill="#4a9e92"/>
<circle cx="82.75" cy="704.49" r="1.25" fill="#4a9e92"/>
<circle cx="78.55" cy="705.22" r="1.25" fill="#4a9e92"/>
<circle cx="84.85" cy="707.08" r="1.25" fill="#4a9e92"/>
<circle cx="80.65" cy="708.58" r="1.25" fill="#4a9e92"/>
<circle cx="84.85" cy="710.69" r="1.25" fill="#4a9e92"/>
<circle cx="80.65" cy="712.53" r="1.25" fill="#4a9e92"/>
<circle cx="89.05" cy="712.92" r="1.25" fill="#4a9e92"/>
<circle cx="84.85" cy="714.24" r="1.25" fill="#4a9e92"/>
<circle cx="82.75" cy="716.98" r="1.25" fill="#4a9e92"/>
<circle cx="78.55" cy="717.80" r="1.25" fill="#4a9e92"/>
<circle cx="84.85" cy="719.45" r="1.25" fill="#4a9e92"/>
<circle cx="80.65" cy="720.54" r="1.25" fill="#4a9e92"/>
<circle cx="82.75" cy="723.29" r="1.25" fill="#4a9e92"/>
<circle cx="86.95" cy="724.40" r="1.25" fill="#4a9e92"/>
<circle cx="78.55" cy="725.66" r="1.25" fill="#4a9e92"/>
<circle cx="82.75" cy="727.54" r="1.25" fill="#4a9e92"/>
<circle cx="78.55" cy="729.04" r="1.25" fill="#4a9e92"/>
<circle cx="82.75" cy="730.55" r="1.25" fill="#4a9e92"/>
<circle cx="86.95" cy="731.67" r="1.25" fill="#4a9e92"/>
<circle cx="80.65" cy="733.28" r="1.25" fill="#4a9e92"/>
<circle cx="84.85" cy="735.12" r="1.25" fill="#4a9e92"/>
<circle cx="80.65" cy="736.93" r="1.25" fill="#4a9e92"/>
<circle cx="86.95" cy="737.85" r="1.25" fill="#4a9e92"/>
<circle cx="82.75" cy="739.68" r="1.25" fill="#4a9e92"/>
<circle cx="86.95" cy="740.95" r="1.25" fill="#4a9e92"/>
<circle cx="78.55" cy="741.62" r="1.25" fill="#4a9e92"/>
<circle cx="82.75" cy="743.74" r="1.25" fill="#4a9e92"/>
<circle cx="86.95" cy="746.03" r="1.25" fill="#4a9e92"/>
<circle cx="82.75" cy="747.54" r="1.25" fill="#4a9e92"/>
<circle cx="78.55" cy="747.74" r="1.25" fill="#4a9e92"/>
<circle cx="86.95" cy="749.19" r="1.25" fill="#4a9e92"/>
<circle cx="82.75" cy="751.79" r="1.25" fill="#4a9e92"/>
<circle cx="86.95" cy="752.56" r="1.25" fill="#4a9e92"/>
<circle cx="80.65" cy="754.50" r="1.25" fill="#4a9e92"/>
<circle cx="84.85" cy="756.69" r="1.25" fill="#4a9e92"/>
<circle cx="78.55" cy="757.05" r="1.25" fill="#4a9e92"/>
<circle cx="89.05" cy="759.06" r="1.25" fill="#4a9e92"/>
<circle cx="82.75" cy="759.97" r="1.25" fill="#4a9e92"/>
<circle cx="80.65" cy="762.71" r="1.25" fill="#4a9e92"/>
<circle cx="84.85" cy="764.13" r="1.25" fill="#4a9e92"/>
<circle cx="76.45" cy="764.59" r="1.25" fill="#4a9e92"/>
<circle cx="80.65" cy="766.32" r="1.25" fill="#4a9e92"/>
<circle cx="84.85" cy="768.14" r="1.25" fill="#4a9e92"/>
<circle cx="80.65" cy="769.59" r="1.25" fill="#4a9e92"/>
<circle cx="84.85" cy="771.47" r="1.25" fill="#4a9e92"/>
<circle cx="78.55" cy="772.21" r="1.25" fill="#4a9e92"/>
<circle cx="89.05" cy="773.60" r="1.25" fill="#4a9e92"/>
<circle cx="82.75" cy="776.20" r="1.25" fill="#4a9e92"/>
<path d="M115.80,787.00 L115.80,750.90 L144.40,750.90 L144.40,787.00" fill="#fff" stroke="#c4437c" stroke-width="1.6"/>
<circle cx="129.60" cy="702.22" r="1.25" fill="#c4437c"/>
<circle cx="129.60" cy="714.00" r="1.25" fill="#c4437c"/>
<circle cx="126.00" cy="715.17" r="1.25" fill="#c4437c"/>
<circle cx="133.20" cy="716.35" r="1.25" fill="#c4437c"/>
<circle cx="129.60" cy="717.18" r="1.25" fill="#c4437c"/>
<circle cx="124.20" cy="717.86" r="1.25" fill="#c4437c"/>
<circle cx="136.80" cy="718.71" r="1.25" fill="#c4437c"/>
<circle cx="131.40" cy="719.64" r="1.25" fill="#c4437c"/>
<circle cx="127.80" cy="719.93" r="1.25" fill="#c4437c"/>
<circle cx="124.20" cy="722.04" r="1.25" fill="#c4437c"/>
<circle cx="129.60" cy="722.46" r="1.25" fill="#c4437c"/>
<circle cx="133.20" cy="722.54" r="1.25" fill="#c4437c"/>
<circle cx="136.80" cy="723.33" r="1.25" fill="#c4437c"/>
<circle cx="126.00" cy="724.61" r="1.25" fill="#c4437c"/>
<circle cx="129.60" cy="726.30" r="1.25" fill="#c4437c"/>
<circle cx="133.20" cy="726.42" r="1.25" fill="#c4437c"/>
<circle cx="124.20" cy="727.21" r="1.25" fill="#c4437c"/>
<circle cx="136.80" cy="727.64" r="1.25" fill="#c4437c"/>
<circle cx="129.60" cy="730.85" r="1.25" fill="#c4437c"/>
<circle cx="126.00" cy="731.65" r="1.25" fill="#c4437c"/>
<circle cx="133.20" cy="732.31" r="1.25" fill="#c4437c"/>
<circle cx="129.60" cy="734.15" r="1.25" fill="#c4437c"/>
<circle cx="126.00" cy="735.98" r="1.25" fill="#c4437c"/>
<circle cx="131.40" cy="736.81" r="1.25" fill="#c4437c"/>
<circle cx="129.60" cy="739.67" r="1.25" fill="#c4437c"/>
<circle cx="133.20" cy="740.59" r="1.25" fill="#c4437c"/>
<circle cx="126.00" cy="740.71" r="1.25" fill="#c4437c"/>
<circle cx="122.40" cy="741.67" r="1.25" fill="#c4437c"/>
<circle cx="129.60" cy="742.50" r="1.25" fill="#c4437c"/>
<circle cx="136.80" cy="742.72" r="1.25" fill="#c4437c"/>
<circle cx="133.20" cy="744.41" r="1.25" fill="#c4437c"/>
<circle cx="126.00" cy="744.48" r="1.25" fill="#c4437c"/>
<circle cx="122.40" cy="744.55" r="1.25" fill="#c4437c"/>
<circle cx="140.40" cy="744.55" r="1.25" fill="#c4437c"/>
<circle cx="118.80" cy="744.92" r="1.25" fill="#c4437c"/>
<circle cx="144.00" cy="744.96" r="1.25" fill="#c4437c"/>
<circle cx="115.20" cy="745.26" r="1.25" fill="#c4437c"/>
<circle cx="129.60" cy="745.35" r="1.25" fill="#c4437c"/>
<circle cx="130.96" cy="745.44" r="1.25" fill="#c4437c"/>
<circle cx="136.80" cy="745.99" r="1.25" fill="#c4437c"/>
<circle cx="129.60" cy="748.19" r="1.25" fill="#c4437c"/>
<circle cx="133.20" cy="748.61" r="1.25" fill="#c4437c"/>
<circle cx="126.00" cy="749.01" r="1.25" fill="#c4437c"/>
<circle cx="136.80" cy="749.87" r="1.25" fill="#c4437c"/>
<circle cx="122.40" cy="750.11" r="1.25" fill="#c4437c"/>
<circle cx="140.40" cy="750.42" r="1.25" fill="#c4437c"/>
<circle cx="118.80" cy="750.56" r="1.25" fill="#c4437c"/>
<circle cx="129.60" cy="751.66" r="1.25" fill="#c4437c"/>
<circle cx="126.00" cy="752.57" r="1.25" fill="#c4437c"/>
<circle cx="133.20" cy="752.74" r="1.25" fill="#c4437c"/>
<circle cx="136.80" cy="752.77" r="1.25" fill="#c4437c"/>
<circle cx="142.20" cy="752.89" r="1.25" fill="#c4437c"/>
<circle cx="122.40" cy="754.12" r="1.25" fill="#c4437c"/>
<circle cx="129.60" cy="754.90" r="1.25" fill="#c4437c"/>
<circle cx="135.00" cy="755.31" r="1.25" fill="#c4437c"/>
<circle cx="126.00" cy="755.58" r="1.25" fill="#c4437c"/>
<circle cx="138.60" cy="755.88" r="1.25" fill="#c4437c"/>
<circle cx="118.80" cy="755.89" r="1.25" fill="#c4437c"/>
<circle cx="142.20" cy="756.18" r="1.25" fill="#c4437c"/>
<circle cx="115.20" cy="756.72" r="1.25" fill="#c4437c"/>
<circle cx="131.40" cy="757.46" r="1.25" fill="#c4437c"/>
<circle cx="127.80" cy="758.08" r="1.25" fill="#c4437c"/>
<circle cx="124.20" cy="758.33" r="1.25" fill="#c4437c"/>
<circle cx="135.00" cy="758.53" r="1.25" fill="#c4437c"/>
<circle cx="120.60" cy="758.64" r="1.25" fill="#c4437c"/>
<circle cx="140.40" cy="758.66" r="1.25" fill="#c4437c"/>
<circle cx="144.00" cy="758.98" r="1.25" fill="#c4437c"/>
<circle cx="130.87" cy="759.02" r="1.25" fill="#c4437c"/>
<circle cx="117.00" cy="759.73" r="1.25" fill="#c4437c"/>
<circle cx="131.68" cy="760.16" r="1.25" fill="#c4437c"/>
<circle cx="127.80" cy="761.51" r="1.25" fill="#c4437c"/>
<circle cx="124.20" cy="761.61" r="1.25" fill="#c4437c"/>
<circle cx="135.00" cy="761.80" r="1.25" fill="#c4437c"/>
<circle cx="138.60" cy="761.84" r="1.25" fill="#c4437c"/>
<circle cx="120.60" cy="762.54" r="1.25" fill="#c4437c"/>
<circle cx="142.20" cy="762.71" r="1.25" fill="#c4437c"/>
<circle cx="117.00" cy="762.86" r="1.25" fill="#c4437c"/>
<circle cx="131.40" cy="763.33" r="1.25" fill="#c4437c"/>
<circle cx="133.49" cy="763.61" r="1.25" fill="#c4437c"/>
<circle cx="127.80" cy="764.49" r="1.25" fill="#c4437c"/>
<circle cx="124.20" cy="764.57" r="1.25" fill="#c4437c"/>
<circle cx="138.60" cy="764.67" r="1.25" fill="#c4437c"/>
<circle cx="122.72" cy="764.93" r="1.25" fill="#c4437c"/>
<circle cx="135.31" cy="764.95" r="1.25" fill="#c4437c"/>
<circle cx="131.40" cy="766.30" r="1.25" fill="#c4437c"/>
<circle cx="118.80" cy="766.36" r="1.25" fill="#c4437c"/>
<circle cx="142.20" cy="766.46" r="1.25" fill="#c4437c"/>
<circle cx="126.00" cy="767.12" r="1.25" fill="#c4437c"/>
<circle cx="115.20" cy="767.28" r="1.25" fill="#c4437c"/>
<circle cx="136.80" cy="767.71" r="1.25" fill="#c4437c"/>
<circle cx="129.60" cy="769.19" r="1.25" fill="#c4437c"/>
<circle cx="133.20" cy="770.29" r="1.25" fill="#c4437c"/>
<circle cx="126.00" cy="770.64" r="1.25" fill="#c4437c"/>
<circle cx="122.40" cy="770.73" r="1.25" fill="#c4437c"/>
<circle cx="129.60" cy="773.23" r="1.25" fill="#c4437c"/>
<circle cx="133.20" cy="773.32" r="1.25" fill="#c4437c"/>
<circle cx="126.00" cy="774.48" r="1.25" fill="#c4437c"/>
<circle cx="136.80" cy="775.50" r="1.25" fill="#c4437c"/>
<circle cx="129.60" cy="776.57" r="1.25" fill="#c4437c"/>
<circle cx="133.20" cy="777.20" r="1.25" fill="#c4437c"/>
<circle cx="124.20" cy="777.23" r="1.25" fill="#c4437c"/>
<circle cx="136.80" cy="778.76" r="1.25" fill="#c4437c"/>
<circle cx="129.60" cy="779.93" r="1.25" fill="#c4437c"/>
<circle cx="133.20" cy="781.11" r="1.25" fill="#c4437c"/>
<circle cx="126.00" cy="781.76" r="1.25" fill="#c4437c"/>
<circle cx="129.60" cy="783.47" r="1.25" fill="#c4437c"/>
<circle cx="133.20" cy="784.19" r="1.25" fill="#c4437c"/>
<circle cx="124.20" cy="784.26" r="1.25" fill="#c4437c"/>
<circle cx="136.80" cy="784.64" r="1.25" fill="#c4437c"/>
<circle cx="120.60" cy="785.82" r="1.25" fill="#c4437c"/>
<circle cx="127.80" cy="786.17" r="1.25" fill="#c4437c"/>
<line x1="83.25" y1="695.40" x2="83.25" y2="751.90" stroke="#222" stroke-width="1.2" />
<line x1="75.45" y1="695.40" x2="91.05" y2="695.40" stroke="#222" stroke-width="1.2" />
<line x1="75.45" y1="751.90" x2="91.05" y2="751.90" stroke="#222" stroke-width="1.2" />
<line x1="130.10" y1="732.30" x2="130.10" y2="768.20" stroke="#222" stroke-width="1.2" />
<line x1="122.30" y1="732.30" x2="137.90" y2="732.30" stroke="#222" stroke-width="1.2" />
<line x1="122.30" y1="768.20" x2="137.90" y2="768.20" stroke="#222" stroke-width="1.2" />
<line x1="52.50" y1="645.10" x2="52.50" y2="787.60" stroke="#222" stroke-width="1.2" />
<line x1="52.50" y1="787.00" x2="160.70" y2="787.00" stroke="#222" stroke-width="1.2" />
<line x1="48.30" y1="645.70" x2="52.50" y2="645.70" stroke="#222" stroke-width="1.2" />
<text x="0.00" y="0.00" font-size="9.6" text-anchor="end" font-weight="normal" fill="#111" stroke="#111" stroke-width="0.2"  transform="translate(46.50,649.60) scale(1,1.15)">6</text>
<line x1="48.30" y1="692.90" x2="52.50" y2="692.90" stroke="#222" stroke-width="1.2" />
<text x="0.00" y="0.00" font-size="9.6" text-anchor="end" font-weight="normal" fill="#111" stroke="#111" stroke-width="0.2"  transform="translate(46.50,696.80) scale(1,1.15)">4</text>
<line x1="48.30" y1="739.80" x2="52.50" y2="739.80" stroke="#222" stroke-width="1.2" />
<text x="0.00" y="0.00" font-size="9.6" text-anchor="end" font-weight="normal" fill="#111" stroke="#111" stroke-width="0.2"  transform="translate(46.50,743.70) scale(1,1.15)">2</text>
<line x1="48.30" y1="787.00" x2="52.50" y2="787.00" stroke="#222" stroke-width="1.2" />
<text x="0.00" y="0.00" font-size="9.6" text-anchor="end" font-weight="normal" fill="#111" stroke="#111" stroke-width="0.2"  transform="translate(46.50,790.90) scale(1,1.15)">0</text>
<line x1="83.25" y1="787.00" x2="83.25" y2="790.80" stroke="#222" stroke-width="1.4" />
<text x="0.00" y="0.00" font-size="10.3" text-anchor="middle" font-weight="normal" fill="#111" stroke="#111" stroke-width="0.2" textLength="26" lengthAdjust="spacingAndGlyphs" transform="translate(85.35,802.20) scale(1,1.13)">ECM1</text>
<line x1="130.10" y1="787.00" x2="130.10" y2="790.80" stroke="#222" stroke-width="1.4" />
<text x="0.00" y="0.00" font-size="10.3" text-anchor="middle" font-weight="normal" fill="#111" stroke="#111" stroke-width="0.2" textLength="26" lengthAdjust="spacingAndGlyphs" transform="translate(133.50,802.20) scale(1,1.13)">ECM2</text>
<line x1="83.20" y1="660.30" x2="127.50" y2="660.30" stroke="#111" stroke-width="1.45" />
<line x1="83.20" y1="655.70" x2="83.20" y2="665.30" stroke="#111" stroke-width="1.45" />
<line x1="127.50" y1="655.70" x2="127.50" y2="665.30" stroke="#111" stroke-width="1.45" />
<path d="M96.65,656.80 L96.65,654.30 M96.65,656.80 L99.03,656.03 M96.65,656.80 L98.12,658.82 M96.65,656.80 L95.18,658.82 M96.65,656.80 L94.27,656.03 " stroke="#111" stroke-width="1.45" stroke-linecap="round" fill="none"/>
<path d="M102.55,656.80 L102.55,654.30 M102.55,656.80 L104.93,656.03 M102.55,656.80 L104.02,658.82 M102.55,656.80 L101.08,658.82 M102.55,656.80 L100.17,656.03 " stroke="#111" stroke-width="1.45" stroke-linecap="round" fill="none"/>
<path d="M108.45,656.80 L108.45,654.30 M108.45,656.80 L110.83,656.03 M108.45,656.80 L109.92,658.82 M108.45,656.80 L106.98,658.82 M108.45,656.80 L106.07,656.03 " stroke="#111" stroke-width="1.45" stroke-linecap="round" fill="none"/>
<path d="M114.35,656.80 L114.35,654.30 M114.35,656.80 L116.73,656.03 M114.35,656.80 L115.82,658.82 M114.35,656.80 L112.88,658.82 M114.35,656.80 L111.97,656.03 " stroke="#111" stroke-width="1.45" stroke-linecap="round" fill="none"/>
<text x="174.30" y="641.00" font-size="19" text-anchor="start" font-weight="bold" fill="#000" >n</text>
<text x="282.40" y="639.00" font-size="13.2" text-anchor="middle" font-weight="normal" fill="#111" stroke="#111" stroke-width="0.2" >PCNA</text>
<text x="0.00" y="0.00" font-size="11.3" text-anchor="middle" font-weight="normal" fill="#000" stroke="#000" stroke-width="0.2" transform="translate(203.20,712.20) rotate(-90)">Normalized gene expression</text>
<path d="M244.10,785.90 L244.10,697.50 L273.40,697.50 L273.40,785.90" fill="#fff" stroke="#4a9e92" stroke-width="1.6"/>
<circle cx="258.25" cy="669.67" r="1.25" fill="#4a9e92"/>
<circle cx="261.55" cy="670.40" r="1.25" fill="#4a9e92"/>
<circle cx="258.25" cy="674.79" r="1.25" fill="#4a9e92"/>
<circle cx="261.55" cy="675.23" r="1.25" fill="#4a9e92"/>
<circle cx="254.95" cy="676.19" r="1.25" fill="#4a9e92"/>
<circle cx="258.25" cy="681.82" r="1.25" fill="#4a9e92"/>
<circle cx="261.55" cy="683.73" r="1.25" fill="#4a9e92"/>
<circle cx="254.95" cy="684.14" r="1.25" fill="#4a9e92"/>
<circle cx="258.25" cy="686.13" r="1.25" fill="#4a9e92"/>
<circle cx="259.90" cy="688.91" r="1.25" fill="#4a9e92"/>
<circle cx="256.60" cy="689.16" r="1.25" fill="#4a9e92"/>
<circle cx="253.30" cy="689.51" r="1.25" fill="#4a9e92"/>
<circle cx="258.25" cy="691.98" r="1.25" fill="#4a9e92"/>
<circle cx="261.55" cy="692.86" r="1.25" fill="#4a9e92"/>
<circle cx="254.95" cy="693.44" r="1.25" fill="#4a9e92"/>
<circle cx="251.65" cy="693.70" r="1.25" fill="#4a9e92"/>
<circle cx="264.85" cy="694.64" r="1.25" fill="#4a9e92"/>
<circle cx="258.25" cy="694.90" r="1.25" fill="#4a9e92"/>
<circle cx="248.35" cy="695.26" r="1.25" fill="#4a9e92"/>
<circle cx="268.15" cy="695.37" r="1.25" fill="#4a9e92"/>
<circle cx="245.05" cy="695.63" r="1.25" fill="#4a9e92"/>
<circle cx="261.55" cy="695.97" r="1.25" fill="#4a9e92"/>
<circle cx="271.45" cy="696.06" r="1.25" fill="#4a9e92"/>
<circle cx="243.98" cy="696.09" r="1.25" fill="#4a9e92"/>
<circle cx="264.23" cy="696.09" r="1.25" fill="#4a9e92"/>
<circle cx="254.95" cy="696.95" r="1.25" fill="#4a9e92"/>
<circle cx="251.65" cy="697.07" r="1.25" fill="#4a9e92"/>
<circle cx="245.66" cy="697.27" r="1.25" fill="#4a9e92"/>
<circle cx="248.06" cy="697.54" r="1.25" fill="#4a9e92"/>
<circle cx="258.25" cy="698.78" r="1.25" fill="#4a9e92"/>
<circle cx="261.55" cy="699.23" r="1.25" fill="#4a9e92"/>
<circle cx="264.85" cy="699.25" r="1.25" fill="#4a9e92"/>
<circle cx="268.15" cy="699.41" r="1.25" fill="#4a9e92"/>
<circle cx="271.45" cy="699.47" r="1.25" fill="#4a9e92"/>
<circle cx="253.30" cy="699.67" r="1.25" fill="#4a9e92"/>
<circle cx="243.40" cy="699.79" r="1.25" fill="#4a9e92"/>
<circle cx="250.00" cy="700.17" r="1.25" fill="#4a9e92"/>
<circle cx="246.70" cy="700.20" r="1.25" fill="#4a9e92"/>
<circle cx="246.72" cy="701.17" r="1.25" fill="#4a9e92"/>
<circle cx="256.60" cy="701.39" r="1.25" fill="#4a9e92"/>
<circle cx="259.90" cy="702.32" r="1.25" fill="#4a9e92"/>
<circle cx="263.20" cy="702.65" r="1.25" fill="#4a9e92"/>
<circle cx="253.30" cy="702.80" r="1.25" fill="#4a9e92"/>
<circle cx="266.50" cy="702.89" r="1.25" fill="#4a9e92"/>
<circle cx="250.00" cy="703.68" r="1.25" fill="#4a9e92"/>
<circle cx="269.80" cy="703.75" r="1.25" fill="#4a9e92"/>
<circle cx="256.60" cy="704.51" r="1.25" fill="#4a9e92"/>
<circle cx="246.70" cy="704.59" r="1.25" fill="#4a9e92"/>
<circle cx="259.90" cy="705.47" r="1.25" fill="#4a9e92"/>
<circle cx="263.20" cy="705.57" r="1.25" fill="#4a9e92"/>
<circle cx="253.30" cy="706.07" r="1.25" fill="#4a9e92"/>
<circle cx="266.50" cy="706.27" r="1.25" fill="#4a9e92"/>
<circle cx="256.60" cy="707.66" r="1.25" fill="#4a9e92"/>
<circle cx="250.00" cy="707.97" r="1.25" fill="#4a9e92"/>
<circle cx="259.90" cy="708.27" r="1.25" fill="#4a9e92"/>
<circle cx="263.20" cy="708.79" r="1.25" fill="#4a9e92"/>
<circle cx="253.30" cy="709.41" r="1.25" fill="#4a9e92"/>
<circle cx="266.50" cy="709.48" r="1.25" fill="#4a9e92"/>
<circle cx="258.25" cy="710.77" r="1.25" fill="#4a9e92"/>
<circle cx="254.95" cy="712.06" r="1.25" fill="#4a9e92"/>
<circle cx="261.55" cy="712.50" r="1.25" fill="#4a9e92"/>
<circle cx="258.25" cy="713.68" r="1.25" fill="#4a9e92"/>
<circle cx="251.65" cy="714.18" r="1.25" fill="#4a9e92"/>
<circle cx="254.95" cy="715.38" r="1.25" fill="#4a9e92"/>
<circle cx="258.25" cy="716.92" r="1.25" fill="#4a9e92"/>
<path d="M292.10,785.90 L292.10,709.30 L321.60,709.30 L321.60,785.90" fill="#fff" stroke="#c4437c" stroke-width="1.6"/>
<circle cx="306.35" cy="687.95" r="1.25" fill="#c4437c"/>
<circle cx="306.35" cy="697.78" r="1.25" fill="#c4437c"/>
<circle cx="303.05" cy="699.57" r="1.25" fill="#c4437c"/>
<circle cx="306.35" cy="700.89" r="1.25" fill="#c4437c"/>
<circle cx="309.65" cy="701.36" r="1.25" fill="#c4437c"/>
<circle cx="312.95" cy="701.55" r="1.25" fill="#c4437c"/>
<circle cx="301.40" cy="702.18" r="1.25" fill="#c4437c"/>
<circle cx="298.10" cy="702.50" r="1.25" fill="#c4437c"/>
<circle cx="316.25" cy="702.71" r="1.25" fill="#c4437c"/>
<circle cx="294.80" cy="703.19" r="1.25" fill="#c4437c"/>
<circle cx="304.70" cy="703.60" r="1.25" fill="#c4437c"/>
<circle cx="308.00" cy="703.94" r="1.25" fill="#c4437c"/>
<circle cx="311.30" cy="704.13" r="1.25" fill="#c4437c"/>
<circle cx="319.55" cy="704.25" r="1.25" fill="#c4437c"/>
<circle cx="291.50" cy="704.52" r="1.25" fill="#c4437c"/>
<circle cx="301.40" cy="705.10" r="1.25" fill="#c4437c"/>
<circle cx="298.10" cy="705.62" r="1.25" fill="#c4437c"/>
<circle cx="314.60" cy="705.68" r="1.25" fill="#c4437c"/>
<circle cx="302.16" cy="705.71" r="1.25" fill="#c4437c"/>
<circle cx="296.67" cy="705.95" r="1.25" fill="#c4437c"/>
<circle cx="321.27" cy="706.00" r="1.25" fill="#c4437c"/>
<circle cx="307.09" cy="706.01" r="1.25" fill="#c4437c"/>
<circle cx="298.94" cy="706.14" r="1.25" fill="#c4437c"/>
<circle cx="298.60" cy="706.14" r="1.25" fill="#c4437c"/>
<circle cx="302.50" cy="706.15" r="1.25" fill="#c4437c"/>
<circle cx="310.03" cy="706.39" r="1.25" fill="#c4437c"/>
<circle cx="317.90" cy="706.69" r="1.25" fill="#c4437c"/>
<circle cx="308.22" cy="706.92" r="1.25" fill="#c4437c"/>
<circle cx="293.15" cy="707.14" r="1.25" fill="#c4437c"/>
<circle cx="312.43" cy="707.22" r="1.25" fill="#c4437c"/>
<circle cx="314.24" cy="707.57" r="1.25" fill="#c4437c"/>
<circle cx="311.38" cy="707.67" r="1.25" fill="#c4437c"/>
<circle cx="307.49" cy="707.70" r="1.25" fill="#c4437c"/>
<circle cx="309.73" cy="707.83" r="1.25" fill="#c4437c"/>
<circle cx="309.50" cy="707.83" r="1.25" fill="#c4437c"/>
<circle cx="321.09" cy="707.84" r="1.25" fill="#c4437c"/>
<circle cx="308.74" cy="708.08" r="1.25" fill="#c4437c"/>
<circle cx="305.71" cy="708.19" r="1.25" fill="#c4437c"/>
<circle cx="308.18" cy="708.19" r="1.25" fill="#c4437c"/>
<circle cx="320.18" cy="708.53" r="1.25" fill="#c4437c"/>
<circle cx="303.40" cy="708.57" r="1.25" fill="#c4437c"/>
<circle cx="296.45" cy="708.82" r="1.25" fill="#c4437c"/>
<circle cx="299.75" cy="708.87" r="1.25" fill="#c4437c"/>
<circle cx="310.74" cy="708.94" r="1.25" fill="#c4437c"/>
<circle cx="319.68" cy="709.15" r="1.25" fill="#c4437c"/>
<circle cx="306.63" cy="709.18" r="1.25" fill="#c4437c"/>
<circle cx="304.21" cy="709.43" r="1.25" fill="#c4437c"/>
<circle cx="320.40" cy="709.47" r="1.25" fill="#c4437c"/>
<circle cx="316.25" cy="709.82" r="1.25" fill="#c4437c"/>
<circle cx="291.50" cy="709.85" r="1.25" fill="#c4437c"/>
<circle cx="306.84" cy="709.86" r="1.25" fill="#c4437c"/>
<circle cx="320.67" cy="709.93" r="1.25" fill="#c4437c"/>
<circle cx="313.87" cy="709.94" r="1.25" fill="#c4437c"/>
<circle cx="312.71" cy="710.20" r="1.25" fill="#c4437c"/>
<circle cx="294.87" cy="710.46" r="1.25" fill="#c4437c"/>
<circle cx="303.61" cy="710.50" r="1.25" fill="#c4437c"/>
<circle cx="309.12" cy="710.55" r="1.25" fill="#c4437c"/>
<circle cx="314.84" cy="710.98" r="1.25" fill="#c4437c"/>
<circle cx="312.77" cy="711.05" r="1.25" fill="#c4437c"/>
<circle cx="301.37" cy="711.16" r="1.25" fill="#c4437c"/>
<circle cx="318.19" cy="711.20" r="1.25" fill="#c4437c"/>
<circle cx="313.54" cy="711.22" r="1.25" fill="#c4437c"/>
<circle cx="314.71" cy="711.29" r="1.25" fill="#c4437c"/>
<circle cx="305.53" cy="711.37" r="1.25" fill="#c4437c"/>
<circle cx="318.71" cy="711.45" r="1.25" fill="#c4437c"/>
<circle cx="298.10" cy="711.55" r="1.25" fill="#c4437c"/>
<circle cx="320.84" cy="711.66" r="1.25" fill="#c4437c"/>
<circle cx="302.54" cy="712.01" r="1.25" fill="#c4437c"/>
<circle cx="312.93" cy="712.09" r="1.25" fill="#c4437c"/>
<circle cx="291.56" cy="712.21" r="1.25" fill="#c4437c"/>
<circle cx="317.60" cy="712.25" r="1.25" fill="#c4437c"/>
<circle cx="295.11" cy="712.26" r="1.25" fill="#c4437c"/>
<circle cx="295.23" cy="712.28" r="1.25" fill="#c4437c"/>
<circle cx="303.16" cy="712.54" r="1.25" fill="#c4437c"/>
<circle cx="319.32" cy="712.61" r="1.25" fill="#c4437c"/>
<circle cx="312.03" cy="712.77" r="1.25" fill="#c4437c"/>
<circle cx="315.64" cy="712.80" r="1.25" fill="#c4437c"/>
<circle cx="300.19" cy="712.81" r="1.25" fill="#c4437c"/>
<circle cx="296.08" cy="712.86" r="1.25" fill="#c4437c"/>
<circle cx="300.59" cy="712.97" r="1.25" fill="#c4437c"/>
<circle cx="298.34" cy="713.05" r="1.25" fill="#c4437c"/>
<circle cx="306.71" cy="713.07" r="1.25" fill="#c4437c"/>
<circle cx="292.78" cy="713.11" r="1.25" fill="#c4437c"/>
<circle cx="302.84" cy="713.45" r="1.25" fill="#c4437c"/>
<circle cx="292.26" cy="713.73" r="1.25" fill="#c4437c"/>
<circle cx="292.21" cy="713.75" r="1.25" fill="#c4437c"/>
<circle cx="298.44" cy="713.76" r="1.25" fill="#c4437c"/>
<circle cx="311.75" cy="713.94" r="1.25" fill="#c4437c"/>
<circle cx="310.37" cy="714.46" r="1.25" fill="#c4437c"/>
<circle cx="293.89" cy="714.47" r="1.25" fill="#c4437c"/>
<circle cx="299.96" cy="714.71" r="1.25" fill="#c4437c"/>
<circle cx="305.74" cy="714.91" r="1.25" fill="#c4437c"/>
<circle cx="321.20" cy="715.11" r="1.25" fill="#c4437c"/>
<circle cx="291.58" cy="715.13" r="1.25" fill="#c4437c"/>
<circle cx="317.90" cy="715.21" r="1.25" fill="#c4437c"/>
<circle cx="314.60" cy="715.64" r="1.25" fill="#c4437c"/>
<circle cx="306.93" cy="715.98" r="1.25" fill="#c4437c"/>
<circle cx="296.45" cy="716.43" r="1.25" fill="#c4437c"/>
<circle cx="303.05" cy="716.72" r="1.25" fill="#c4437c"/>
<circle cx="314.83" cy="716.73" r="1.25" fill="#c4437c"/>
<circle cx="302.65" cy="716.90" r="1.25" fill="#c4437c"/>
<circle cx="311.30" cy="717.32" r="1.25" fill="#c4437c"/>
<circle cx="315.62" cy="717.33" r="1.25" fill="#c4437c"/>
<circle cx="317.77" cy="717.37" r="1.25" fill="#c4437c"/>
<circle cx="293.15" cy="717.60" r="1.25" fill="#c4437c"/>
<circle cx="311.57" cy="717.61" r="1.25" fill="#c4437c"/>
<circle cx="315.95" cy="717.91" r="1.25" fill="#c4437c"/>
<circle cx="306.35" cy="720.02" r="1.25" fill="#c4437c"/>
<circle cx="309.65" cy="721.94" r="1.25" fill="#c4437c"/>
<circle cx="306.35" cy="724.50" r="1.25" fill="#c4437c"/>
<circle cx="309.65" cy="725.84" r="1.25" fill="#c4437c"/>
<line x1="258.75" y1="685.40" x2="258.75" y2="708.50" stroke="#222" stroke-width="1.2" />
<line x1="250.95" y1="685.40" x2="266.55" y2="685.40" stroke="#222" stroke-width="1.2" />
<line x1="250.95" y1="708.50" x2="266.55" y2="708.50" stroke="#222" stroke-width="1.2" />
<line x1="306.85" y1="704.00" x2="306.85" y2="714.00" stroke="#222" stroke-width="1.2" />
<line x1="299.05" y1="704.00" x2="314.65" y2="704.00" stroke="#222" stroke-width="1.2" />
<line x1="299.05" y1="714.00" x2="314.65" y2="714.00" stroke="#222" stroke-width="1.2" />
<line x1="226.50" y1="639.10" x2="226.50" y2="786.50" stroke="#222" stroke-width="1.2" />
<line x1="226.50" y1="785.90" x2="337.00" y2="785.90" stroke="#222" stroke-width="1.2" />
<line x1="222.30" y1="639.70" x2="226.50" y2="639.70" stroke="#222" stroke-width="1.2" />
<text x="0.00" y="0.00" font-size="9.6" text-anchor="end" font-weight="normal" fill="#111" stroke="#111" stroke-width="0.2"  transform="translate(220.50,643.60) scale(1,1.15)">10</text>
<line x1="222.30" y1="669.00" x2="226.50" y2="669.00" stroke="#222" stroke-width="1.2" />
<text x="0.00" y="0.00" font-size="9.6" text-anchor="end" font-weight="normal" fill="#111" stroke="#111" stroke-width="0.2"  transform="translate(220.50,672.90) scale(1,1.15)">8</text>
<line x1="222.30" y1="698.00" x2="226.50" y2="698.00" stroke="#222" stroke-width="1.2" />
<text x="0.00" y="0.00" font-size="9.6" text-anchor="end" font-weight="normal" fill="#111" stroke="#111" stroke-width="0.2"  transform="translate(220.50,701.90) scale(1,1.15)">6</text>
<line x1="222.30" y1="727.30" x2="226.50" y2="727.30" stroke="#222" stroke-width="1.2" />
<text x="0.00" y="0.00" font-size="9.6" text-anchor="end" font-weight="normal" fill="#111" stroke="#111" stroke-width="0.2"  transform="translate(220.50,731.20) scale(1,1.15)">4</text>
<line x1="222.30" y1="756.40" x2="226.50" y2="756.40" stroke="#222" stroke-width="1.2" />
<text x="0.00" y="0.00" font-size="9.6" text-anchor="end" font-weight="normal" fill="#111" stroke="#111" stroke-width="0.2"  transform="translate(220.50,760.30) scale(1,1.15)">2</text>
<line x1="222.30" y1="785.90" x2="226.50" y2="785.90" stroke="#222" stroke-width="1.2" />
<text x="0.00" y="0.00" font-size="9.6" text-anchor="end" font-weight="normal" fill="#111" stroke="#111" stroke-width="0.2"  transform="translate(220.50,789.80) scale(1,1.15)">0</text>
<line x1="258.75" y1="785.90" x2="258.75" y2="789.70" stroke="#222" stroke-width="1.4" />
<text x="0.00" y="0.00" font-size="10.3" text-anchor="middle" font-weight="normal" fill="#111" stroke="#111" stroke-width="0.2" textLength="26" lengthAdjust="spacingAndGlyphs" transform="translate(259.55,801.40) scale(1,1.13)">ECM1</text>
<line x1="306.85" y1="785.90" x2="306.85" y2="789.70" stroke="#222" stroke-width="1.4" />
<text x="0.00" y="0.00" font-size="10.3" text-anchor="middle" font-weight="normal" fill="#111" stroke="#111" stroke-width="0.2" textLength="26" lengthAdjust="spacingAndGlyphs" transform="translate(307.85,801.40) scale(1,1.13)">ECM2</text>
<line x1="258.70" y1="659.80" x2="304.30" y2="659.80" stroke="#111" stroke-width="1.45" />
<line x1="258.70" y1="655.30" x2="258.70" y2="664.80" stroke="#111" stroke-width="1.45" />
<line x1="304.30" y1="655.30" x2="304.30" y2="664.80" stroke="#111" stroke-width="1.45" />
<path d="M273.65,656.30 L273.65,653.80 M273.65,656.30 L276.03,655.53 M273.65,656.30 L275.12,658.32 M273.65,656.30 L272.18,658.32 M273.65,656.30 L271.27,655.53 " stroke="#111" stroke-width="1.45" stroke-linecap="round" fill="none"/>
<path d="M279.55,656.30 L279.55,653.80 M279.55,656.30 L281.93,655.53 M279.55,656.30 L281.02,658.32 M279.55,656.30 L278.08,658.32 M279.55,656.30 L277.17,655.53 " stroke="#111" stroke-width="1.45" stroke-linecap="round" fill="none"/>
<path d="M285.45,656.30 L285.45,653.80 M285.45,656.30 L287.83,655.53 M285.45,656.30 L286.92,658.32 M285.45,656.30 L283.98,658.32 M285.45,656.30 L283.07,655.53 " stroke="#111" stroke-width="1.45" stroke-linecap="round" fill="none"/>
<path d="M291.35,656.30 L291.35,653.80 M291.35,656.30 L293.73,655.53 M291.35,656.30 L292.82,658.32 M291.35,656.30 L289.88,658.32 M291.35,656.30 L288.97,655.53 " stroke="#111" stroke-width="1.45" stroke-linecap="round" fill="none"/>
<text x="345.80" y="641.20" font-size="19" text-anchor="start" font-weight="bold" fill="#000" >o</text>
<text x="444.50" y="637.70" font-size="13.2" text-anchor="middle" font-weight="normal" fill="#111" stroke="#111" stroke-width="0.2" >SOX2</text>
<text x="0.00" y="0.00" font-size="11.3" text-anchor="middle" font-weight="normal" fill="#000" stroke="#000" stroke-width="0.2" transform="translate(372.70,711.00) rotate(-90)">Normalized gene expression</text>
<path d="M409.40,783.30 L409.40,679.10 L438.70,679.10 L438.70,783.30" fill="#fff" stroke="#4a9e92" stroke-width="1.6"/>
<circle cx="423.55" cy="651.99" r="1.25" fill="#4a9e92"/>
<circle cx="420.25" cy="653.43" r="1.25" fill="#4a9e92"/>
<circle cx="425.20" cy="654.70" r="1.25" fill="#4a9e92"/>
<circle cx="428.50" cy="654.73" r="1.25" fill="#4a9e92"/>
<circle cx="416.95" cy="654.87" r="1.25" fill="#4a9e92"/>
<circle cx="421.90" cy="656.32" r="1.25" fill="#4a9e92"/>
<circle cx="425.20" cy="657.76" r="1.25" fill="#4a9e92"/>
<circle cx="428.50" cy="657.90" r="1.25" fill="#4a9e92"/>
<circle cx="423.55" cy="663.17" r="1.25" fill="#4a9e92"/>
<circle cx="420.25" cy="664.77" r="1.25" fill="#4a9e92"/>
<circle cx="426.85" cy="665.10" r="1.25" fill="#4a9e92"/>
<circle cx="416.95" cy="665.48" r="1.25" fill="#4a9e92"/>
<circle cx="430.15" cy="665.53" r="1.25" fill="#4a9e92"/>
<circle cx="413.65" cy="665.83" r="1.25" fill="#4a9e92"/>
<circle cx="423.55" cy="666.52" r="1.25" fill="#4a9e92"/>
<circle cx="425.20" cy="669.03" r="1.25" fill="#4a9e92"/>
<circle cx="421.90" cy="669.65" r="1.25" fill="#4a9e92"/>
<circle cx="418.60" cy="669.93" r="1.25" fill="#4a9e92"/>
<circle cx="428.50" cy="671.09" r="1.25" fill="#4a9e92"/>
<circle cx="431.80" cy="671.77" r="1.25" fill="#4a9e92"/>
<circle cx="423.55" cy="672.55" r="1.25" fill="#4a9e92"/>
<circle cx="420.25" cy="673.44" r="1.25" fill="#4a9e92"/>
<circle cx="425.20" cy="675.15" r="1.25" fill="#4a9e92"/>
<circle cx="421.90" cy="676.31" r="1.25" fill="#4a9e92"/>
<circle cx="418.60" cy="677.36" r="1.25" fill="#4a9e92"/>
<circle cx="425.20" cy="678.17" r="1.25" fill="#4a9e92"/>
<circle cx="428.50" cy="678.51" r="1.25" fill="#4a9e92"/>
<circle cx="421.90" cy="679.80" r="1.25" fill="#4a9e92"/>
<circle cx="416.95" cy="679.96" r="1.25" fill="#4a9e92"/>
<circle cx="431.80" cy="679.99" r="1.25" fill="#4a9e92"/>
<circle cx="413.65" cy="680.43" r="1.25" fill="#4a9e92"/>
<circle cx="435.10" cy="680.44" r="1.25" fill="#4a9e92"/>
<circle cx="425.20" cy="681.42" r="1.25" fill="#4a9e92"/>
<circle cx="428.50" cy="681.64" r="1.25" fill="#4a9e92"/>
<circle cx="420.25" cy="682.40" r="1.25" fill="#4a9e92"/>
<circle cx="410.35" cy="682.50" r="1.25" fill="#4a9e92"/>
<circle cx="416.95" cy="682.77" r="1.25" fill="#4a9e92"/>
<circle cx="431.80" cy="682.80" r="1.25" fill="#4a9e92"/>
<circle cx="436.75" cy="683.08" r="1.25" fill="#4a9e92"/>
<circle cx="413.65" cy="683.46" r="1.25" fill="#4a9e92"/>
<circle cx="433.65" cy="683.56" r="1.25" fill="#4a9e92"/>
<circle cx="423.55" cy="684.17" r="1.25" fill="#4a9e92"/>
<circle cx="426.85" cy="684.60" r="1.25" fill="#4a9e92"/>
<circle cx="408.70" cy="685.09" r="1.25" fill="#4a9e92"/>
<circle cx="420.25" cy="685.94" r="1.25" fill="#4a9e92"/>
<circle cx="430.15" cy="686.22" r="1.25" fill="#4a9e92"/>
<circle cx="423.55" cy="687.10" r="1.25" fill="#4a9e92"/>
<circle cx="416.95" cy="687.26" r="1.25" fill="#4a9e92"/>
<circle cx="426.85" cy="688.12" r="1.25" fill="#4a9e92"/>
<circle cx="420.25" cy="688.90" r="1.25" fill="#4a9e92"/>
<circle cx="430.15" cy="689.61" r="1.25" fill="#4a9e92"/>
<circle cx="423.55" cy="690.39" r="1.25" fill="#4a9e92"/>
<circle cx="426.85" cy="691.50" r="1.25" fill="#4a9e92"/>
<circle cx="420.25" cy="691.78" r="1.25" fill="#4a9e92"/>
<circle cx="416.95" cy="692.05" r="1.25" fill="#4a9e92"/>
<circle cx="431.80" cy="692.21" r="1.25" fill="#4a9e92"/>
<circle cx="423.55" cy="693.61" r="1.25" fill="#4a9e92"/>
<circle cx="428.50" cy="694.18" r="1.25" fill="#4a9e92"/>
<circle cx="423.55" cy="696.71" r="1.25" fill="#4a9e92"/>
<circle cx="426.85" cy="696.75" r="1.25" fill="#4a9e92"/>
<circle cx="420.25" cy="697.84" r="1.25" fill="#4a9e92"/>
<circle cx="416.95" cy="699.00" r="1.25" fill="#4a9e92"/>
<circle cx="423.55" cy="700.53" r="1.25" fill="#4a9e92"/>
<circle cx="423.55" cy="709.71" r="1.25" fill="#4a9e92"/>
<circle cx="423.55" cy="740.01" r="1.25" fill="#4a9e92"/>
<path d="M457.10,783.30 L457.10,687.30 L486.40,687.30 L486.40,783.30" fill="#fff" stroke="#c4437c" stroke-width="1.6"/>
<circle cx="471.25" cy="653.43" r="1.25" fill="#c4437c"/>
<circle cx="474.55" cy="654.01" r="1.25" fill="#c4437c"/>
<circle cx="467.95" cy="654.30" r="1.25" fill="#c4437c"/>
<circle cx="464.65" cy="654.87" r="1.25" fill="#c4437c"/>
<circle cx="471.25" cy="659.50" r="1.25" fill="#c4437c"/>
<circle cx="474.55" cy="660.07" r="1.25" fill="#c4437c"/>
<circle cx="467.95" cy="660.21" r="1.25" fill="#c4437c"/>
<circle cx="471.25" cy="662.53" r="1.25" fill="#c4437c"/>
<circle cx="469.60" cy="665.14" r="1.25" fill="#c4437c"/>
<circle cx="472.90" cy="665.23" r="1.25" fill="#c4437c"/>
<circle cx="476.20" cy="665.94" r="1.25" fill="#c4437c"/>
<circle cx="466.30" cy="666.43" r="1.25" fill="#c4437c"/>
<circle cx="479.50" cy="666.96" r="1.25" fill="#c4437c"/>
<circle cx="463.00" cy="667.12" r="1.25" fill="#c4437c"/>
<circle cx="459.70" cy="667.51" r="1.25" fill="#c4437c"/>
<circle cx="471.25" cy="668.35" r="1.25" fill="#c4437c"/>
<circle cx="474.55" cy="668.68" r="1.25" fill="#c4437c"/>
<circle cx="467.95" cy="669.63" r="1.25" fill="#c4437c"/>
<circle cx="464.65" cy="670.22" r="1.25" fill="#c4437c"/>
<circle cx="471.25" cy="672.79" r="1.25" fill="#c4437c"/>
<circle cx="467.95" cy="673.05" r="1.25" fill="#c4437c"/>
<circle cx="474.55" cy="673.27" r="1.25" fill="#c4437c"/>
<circle cx="464.65" cy="673.40" r="1.25" fill="#c4437c"/>
<circle cx="471.25" cy="675.73" r="1.25" fill="#c4437c"/>
<circle cx="467.95" cy="677.21" r="1.25" fill="#c4437c"/>
<circle cx="474.55" cy="677.57" r="1.25" fill="#c4437c"/>
<circle cx="477.85" cy="677.70" r="1.25" fill="#c4437c"/>
<circle cx="471.25" cy="678.69" r="1.25" fill="#c4437c"/>
<circle cx="464.65" cy="679.02" r="1.25" fill="#c4437c"/>
<circle cx="481.15" cy="679.44" r="1.25" fill="#c4437c"/>
<circle cx="461.35" cy="679.92" r="1.25" fill="#c4437c"/>
<circle cx="458.05" cy="679.96" r="1.25" fill="#c4437c"/>
<circle cx="467.95" cy="680.49" r="1.25" fill="#c4437c"/>
<circle cx="474.55" cy="681.01" r="1.25" fill="#c4437c"/>
<circle cx="477.85" cy="681.05" r="1.25" fill="#c4437c"/>
<circle cx="484.45" cy="681.45" r="1.25" fill="#c4437c"/>
<circle cx="484.21" cy="681.48" r="1.25" fill="#c4437c"/>
<circle cx="471.25" cy="682.19" r="1.25" fill="#c4437c"/>
<circle cx="464.65" cy="682.23" r="1.25" fill="#c4437c"/>
<circle cx="459.70" cy="682.51" r="1.25" fill="#c4437c"/>
<circle cx="467.95" cy="683.37" r="1.25" fill="#c4437c"/>
<circle cx="481.15" cy="683.47" r="1.25" fill="#c4437c"/>
<circle cx="476.20" cy="683.50" r="1.25" fill="#c4437c"/>
<circle cx="472.90" cy="684.70" r="1.25" fill="#c4437c"/>
<circle cx="463.00" cy="684.80" r="1.25" fill="#c4437c"/>
<circle cx="458.05" cy="685.13" r="1.25" fill="#c4437c"/>
<circle cx="469.60" cy="686.01" r="1.25" fill="#c4437c"/>
<circle cx="476.20" cy="686.70" r="1.25" fill="#c4437c"/>
<circle cx="466.30" cy="686.80" r="1.25" fill="#c4437c"/>
<circle cx="479.50" cy="687.44" r="1.25" fill="#c4437c"/>
<circle cx="472.90" cy="687.96" r="1.25" fill="#c4437c"/>
<circle cx="463.00" cy="688.41" r="1.25" fill="#c4437c"/>
<circle cx="459.70" cy="688.69" r="1.25" fill="#c4437c"/>
<circle cx="469.60" cy="688.87" r="1.25" fill="#c4437c"/>
<circle cx="476.20" cy="689.51" r="1.25" fill="#c4437c"/>
<circle cx="466.30" cy="690.49" r="1.25" fill="#c4437c"/>
<circle cx="471.25" cy="691.35" r="1.25" fill="#c4437c"/>
<circle cx="479.50" cy="691.46" r="1.25" fill="#c4437c"/>
<circle cx="474.55" cy="691.96" r="1.25" fill="#c4437c"/>
<circle cx="463.00" cy="692.38" r="1.25" fill="#c4437c"/>
<circle cx="482.80" cy="692.38" r="1.25" fill="#c4437c"/>
<circle cx="459.70" cy="692.45" r="1.25" fill="#c4437c"/>
<circle cx="456.40" cy="692.69" r="1.25" fill="#c4437c"/>
<circle cx="467.95" cy="693.25" r="1.25" fill="#c4437c"/>
<circle cx="486.10" cy="693.39" r="1.25" fill="#c4437c"/>
<circle cx="467.26" cy="693.44" r="1.25" fill="#c4437c"/>
<circle cx="471.25" cy="694.55" r="1.25" fill="#c4437c"/>
<circle cx="474.55" cy="695.23" r="1.25" fill="#c4437c"/>
<circle cx="464.65" cy="695.82" r="1.25" fill="#c4437c"/>
<circle cx="469.60" cy="697.05" r="1.25" fill="#c4437c"/>
<circle cx="472.90" cy="698.36" r="1.25" fill="#c4437c"/>
<circle cx="476.20" cy="698.39" r="1.25" fill="#c4437c"/>
<circle cx="466.30" cy="698.55" r="1.25" fill="#c4437c"/>
<circle cx="463.00" cy="698.59" r="1.25" fill="#c4437c"/>
<circle cx="479.50" cy="698.70" r="1.25" fill="#c4437c"/>
<circle cx="482.80" cy="699.35" r="1.25" fill="#c4437c"/>
<circle cx="459.70" cy="699.40" r="1.25" fill="#c4437c"/>
<circle cx="486.10" cy="699.55" r="1.25" fill="#c4437c"/>
<circle cx="469.60" cy="700.17" r="1.25" fill="#c4437c"/>
<circle cx="456.40" cy="700.45" r="1.25" fill="#c4437c"/>
<circle cx="472.90" cy="701.51" r="1.25" fill="#c4437c"/>
<circle cx="476.20" cy="702.48" r="1.25" fill="#c4437c"/>
<circle cx="469.60" cy="703.19" r="1.25" fill="#c4437c"/>
<circle cx="466.30" cy="703.44" r="1.25" fill="#c4437c"/>
<circle cx="463.00" cy="703.54" r="1.25" fill="#c4437c"/>
<circle cx="479.50" cy="704.31" r="1.25" fill="#c4437c"/>
<circle cx="472.90" cy="704.92" r="1.25" fill="#c4437c"/>
<circle cx="469.60" cy="706.35" r="1.25" fill="#c4437c"/>
<circle cx="476.20" cy="706.44" r="1.25" fill="#c4437c"/>
<circle cx="466.30" cy="707.45" r="1.25" fill="#c4437c"/>
<circle cx="472.90" cy="708.19" r="1.25" fill="#c4437c"/>
<circle cx="463.00" cy="708.59" r="1.25" fill="#c4437c"/>
<circle cx="477.85" cy="709.05" r="1.25" fill="#c4437c"/>
<circle cx="481.15" cy="709.10" r="1.25" fill="#c4437c"/>
<circle cx="469.60" cy="710.29" r="1.25" fill="#c4437c"/>
<circle cx="466.30" cy="710.48" r="1.25" fill="#c4437c"/>
<circle cx="471.25" cy="714.04" r="1.25" fill="#c4437c"/>
<circle cx="471.25" cy="716.92" r="1.25" fill="#c4437c"/>
<circle cx="474.55" cy="718.37" r="1.25" fill="#c4437c"/>
<circle cx="471.25" cy="724.14" r="1.25" fill="#c4437c"/>
<circle cx="471.25" cy="741.45" r="1.25" fill="#c4437c"/>
<circle cx="471.25" cy="754.44" r="1.25" fill="#c4437c"/>
<line x1="424.05" y1="663.50" x2="424.05" y2="694.20" stroke="#222" stroke-width="1.2" />
<line x1="416.25" y1="663.50" x2="431.85" y2="663.50" stroke="#222" stroke-width="1.2" />
<line x1="416.25" y1="694.20" x2="431.85" y2="694.20" stroke="#222" stroke-width="1.2" />
<line x1="471.75" y1="669.00" x2="471.75" y2="704.30" stroke="#222" stroke-width="1.2" />
<line x1="463.95" y1="669.00" x2="479.55" y2="669.00" stroke="#222" stroke-width="1.2" />
<line x1="463.95" y1="704.30" x2="479.55" y2="704.30" stroke="#222" stroke-width="1.2" />
<line x1="392.20" y1="638.40" x2="392.20" y2="783.90" stroke="#222" stroke-width="1.2" />
<line x1="392.20" y1="783.30" x2="502.70" y2="783.30" stroke="#222" stroke-width="1.2" />
<line x1="388.00" y1="639.00" x2="392.20" y2="639.00" stroke="#222" stroke-width="1.2" />
<text x="0.00" y="0.00" font-size="9.6" text-anchor="end" font-weight="normal" fill="#111" stroke="#111" stroke-width="0.2"  transform="translate(386.20,642.90) scale(1,1.15)">9</text>
<line x1="388.00" y1="667.80" x2="392.20" y2="667.80" stroke="#222" stroke-width="1.2" />
<text x="0.00" y="0.00" font-size="9.6" text-anchor="end" font-weight="normal" fill="#111" stroke="#111" stroke-width="0.2"  transform="translate(386.20,671.70) scale(1,1.15)">8</text>
<line x1="388.00" y1="696.70" x2="392.20" y2="696.70" stroke="#222" stroke-width="1.2" />
<text x="0.00" y="0.00" font-size="9.6" text-anchor="end" font-weight="normal" fill="#111" stroke="#111" stroke-width="0.2"  transform="translate(386.20,700.60) scale(1,1.15)">7</text>
<line x1="388.00" y1="725.60" x2="392.20" y2="725.60" stroke="#222" stroke-width="1.2" />
<text x="0.00" y="0.00" font-size="9.6" text-anchor="end" font-weight="normal" fill="#111" stroke="#111" stroke-width="0.2"  transform="translate(386.20,729.50) scale(1,1.15)">6</text>
<line x1="388.00" y1="754.40" x2="392.20" y2="754.40" stroke="#222" stroke-width="1.2" />
<text x="0.00" y="0.00" font-size="9.6" text-anchor="end" font-weight="normal" fill="#111" stroke="#111" stroke-width="0.2"  transform="translate(386.20,758.30) scale(1,1.15)">5</text>
<line x1="388.00" y1="783.30" x2="392.20" y2="783.30" stroke="#222" stroke-width="1.2" />
<text x="0.00" y="0.00" font-size="9.6" text-anchor="end" font-weight="normal" fill="#111" stroke="#111" stroke-width="0.2"  transform="translate(386.20,787.20) scale(1,1.15)">4</text>
<line x1="424.05" y1="783.30" x2="424.05" y2="787.10" stroke="#222" stroke-width="1.4" />
<text x="0.00" y="0.00" font-size="10.3" text-anchor="middle" font-weight="normal" fill="#111" stroke="#111" stroke-width="0.2" textLength="26" lengthAdjust="spacingAndGlyphs" transform="translate(427.65,799.30) scale(1,1.13)">ECM1</text>
<line x1="471.75" y1="783.30" x2="471.75" y2="787.10" stroke="#222" stroke-width="1.4" />
<text x="0.00" y="0.00" font-size="10.3" text-anchor="middle" font-weight="normal" fill="#111" stroke="#111" stroke-width="0.2" textLength="26" lengthAdjust="spacingAndGlyphs" transform="translate(472.85,799.30) scale(1,1.13)">ECM2</text>
<line x1="423.60" y1="645.20" x2="470.90" y2="645.20" stroke="#111" stroke-width="1.45" />
<line x1="423.60" y1="640.20" x2="423.60" y2="650.20" stroke="#111" stroke-width="1.45" />
<line x1="470.90" y1="640.20" x2="470.90" y2="650.20" stroke="#111" stroke-width="1.45" />
<path d="M444.05,641.70 L444.05,639.20 M444.05,641.70 L446.43,640.93 M444.05,641.70 L445.52,643.72 M444.05,641.70 L442.58,643.72 M444.05,641.70 L441.67,640.93 " stroke="#111" stroke-width="1.45" stroke-linecap="round" fill="none"/>
<path d="M449.95,641.70 L449.95,639.20 M449.95,641.70 L452.33,640.93 M449.95,641.70 L451.42,643.72 M449.95,641.70 L448.48,643.72 M449.95,641.70 L447.57,640.93 " stroke="#111" stroke-width="1.45" stroke-linecap="round" fill="none"/>
<text x="513.60" y="640.50" font-size="19" text-anchor="start" font-weight="bold" fill="#000" >p</text>
<text x="622.90" y="636.40" font-size="13.2" text-anchor="middle" font-weight="normal" fill="#111" stroke="#111" stroke-width="0.2" >CD44</text>
<text x="0.00" y="0.00" font-size="11.3" text-anchor="middle" font-weight="normal" fill="#000" stroke="#000" stroke-width="0.2" transform="translate(543.20,712.50) rotate(-90)">Normalized gene expression</text>
<path d="M590.40,781.30 L590.40,688.10 L618.90,688.10 L618.90,781.30" fill="#fff" stroke="#4a9e92" stroke-width="1.6"/>
<circle cx="604.15" cy="653.05" r="1.25" fill="#4a9e92"/>
<circle cx="604.15" cy="658.57" r="1.25" fill="#4a9e92"/>
<circle cx="604.15" cy="663.40" r="1.25" fill="#4a9e92"/>
<circle cx="602.50" cy="666.15" r="1.25" fill="#4a9e92"/>
<circle cx="605.80" cy="668.22" r="1.25" fill="#4a9e92"/>
<circle cx="604.15" cy="671.85" r="1.25" fill="#4a9e92"/>
<circle cx="600.85" cy="672.90" r="1.25" fill="#4a9e92"/>
<circle cx="607.45" cy="673.65" r="1.25" fill="#4a9e92"/>
<circle cx="610.75" cy="673.96" r="1.25" fill="#4a9e92"/>
<circle cx="604.15" cy="674.72" r="1.25" fill="#4a9e92"/>
<circle cx="600.85" cy="675.71" r="1.25" fill="#4a9e92"/>
<circle cx="607.45" cy="677.11" r="1.25" fill="#4a9e92"/>
<circle cx="604.15" cy="677.63" r="1.25" fill="#4a9e92"/>
<circle cx="600.85" cy="678.78" r="1.25" fill="#4a9e92"/>
<circle cx="607.45" cy="679.94" r="1.25" fill="#4a9e92"/>
<circle cx="604.15" cy="680.57" r="1.25" fill="#4a9e92"/>
<circle cx="610.75" cy="680.63" r="1.25" fill="#4a9e92"/>
<circle cx="597.55" cy="680.92" r="1.25" fill="#4a9e92"/>
<circle cx="614.05" cy="681.04" r="1.25" fill="#4a9e92"/>
<circle cx="594.25" cy="681.30" r="1.25" fill="#4a9e92"/>
<circle cx="617.35" cy="681.32" r="1.25" fill="#4a9e92"/>
<circle cx="590.95" cy="681.37" r="1.25" fill="#4a9e92"/>
<circle cx="605.54" cy="681.44" r="1.25" fill="#4a9e92"/>
<circle cx="600.85" cy="681.85" r="1.25" fill="#4a9e92"/>
<circle cx="603.91" cy="682.20" r="1.25" fill="#4a9e92"/>
<circle cx="596.78" cy="682.94" r="1.25" fill="#4a9e92"/>
<circle cx="609.10" cy="683.08" r="1.25" fill="#4a9e92"/>
<circle cx="600.77" cy="683.41" r="1.25" fill="#4a9e92"/>
<circle cx="612.40" cy="683.83" r="1.25" fill="#4a9e92"/>
<circle cx="615.70" cy="684.18" r="1.25" fill="#4a9e92"/>
<circle cx="592.60" cy="684.21" r="1.25" fill="#4a9e92"/>
<circle cx="589.30" cy="684.43" r="1.25" fill="#4a9e92"/>
<circle cx="605.80" cy="684.96" r="1.25" fill="#4a9e92"/>
<circle cx="619.00" cy="685.22" r="1.25" fill="#4a9e92"/>
<circle cx="602.50" cy="686.29" r="1.25" fill="#4a9e92"/>
<circle cx="609.10" cy="686.61" r="1.25" fill="#4a9e92"/>
<circle cx="599.20" cy="686.71" r="1.25" fill="#4a9e92"/>
<circle cx="595.90" cy="686.83" r="1.25" fill="#4a9e92"/>
<circle cx="612.40" cy="687.04" r="1.25" fill="#4a9e92"/>
<circle cx="615.70" cy="687.18" r="1.25" fill="#4a9e92"/>
<circle cx="605.80" cy="688.30" r="1.25" fill="#4a9e92"/>
<circle cx="592.60" cy="688.58" r="1.25" fill="#4a9e92"/>
<circle cx="589.30" cy="689.04" r="1.25" fill="#4a9e92"/>
<circle cx="602.50" cy="689.89" r="1.25" fill="#4a9e92"/>
<circle cx="599.20" cy="689.92" r="1.25" fill="#4a9e92"/>
<circle cx="609.10" cy="689.94" r="1.25" fill="#4a9e92"/>
<circle cx="612.40" cy="690.60" r="1.25" fill="#4a9e92"/>
<circle cx="595.90" cy="690.61" r="1.25" fill="#4a9e92"/>
<circle cx="605.80" cy="691.25" r="1.25" fill="#4a9e92"/>
<circle cx="592.60" cy="691.39" r="1.25" fill="#4a9e92"/>
<circle cx="615.70" cy="691.45" r="1.25" fill="#4a9e92"/>
<circle cx="619.00" cy="691.91" r="1.25" fill="#4a9e92"/>
<circle cx="589.30" cy="692.09" r="1.25" fill="#4a9e92"/>
<circle cx="608.98" cy="692.23" r="1.25" fill="#4a9e92"/>
<circle cx="600.85" cy="692.39" r="1.25" fill="#4a9e92"/>
<circle cx="597.55" cy="693.31" r="1.25" fill="#4a9e92"/>
<circle cx="604.15" cy="694.49" r="1.25" fill="#4a9e92"/>
<circle cx="600.85" cy="695.59" r="1.25" fill="#4a9e92"/>
<circle cx="604.15" cy="697.96" r="1.25" fill="#4a9e92"/>
<circle cx="604.15" cy="700.91" r="1.25" fill="#4a9e92"/>
<circle cx="600.85" cy="702.70" r="1.25" fill="#4a9e92"/>
<circle cx="604.15" cy="704.08" r="1.25" fill="#4a9e92"/>
<circle cx="604.15" cy="709.59" r="1.25" fill="#4a9e92"/>
<circle cx="604.15" cy="713.73" r="1.25" fill="#4a9e92"/>
<circle cx="604.15" cy="717.87" r="1.25" fill="#4a9e92"/>
<circle cx="604.15" cy="722.00" r="1.25" fill="#4a9e92"/>
<circle cx="604.15" cy="726.83" r="1.25" fill="#4a9e92"/>
<circle cx="604.15" cy="731.66" r="1.25" fill="#4a9e92"/>
<path d="M636.20,781.30 L636.20,716.10 L664.20,716.10 L664.20,781.30" fill="#fff" stroke="#c4437c" stroke-width="1.6"/>
<circle cx="649.70" cy="682.70" r="1.25" fill="#c4437c"/>
<circle cx="653.00" cy="683.17" r="1.25" fill="#c4437c"/>
<circle cx="646.40" cy="683.94" r="1.25" fill="#c4437c"/>
<circle cx="643.10" cy="684.21" r="1.25" fill="#c4437c"/>
<circle cx="656.30" cy="684.77" r="1.25" fill="#c4437c"/>
<circle cx="649.70" cy="685.59" r="1.25" fill="#c4437c"/>
<circle cx="653.00" cy="686.15" r="1.25" fill="#c4437c"/>
<circle cx="659.60" cy="686.56" r="1.25" fill="#c4437c"/>
<circle cx="646.40" cy="686.99" r="1.25" fill="#c4437c"/>
<circle cx="643.10" cy="687.33" r="1.25" fill="#c4437c"/>
<circle cx="649.70" cy="689.60" r="1.25" fill="#c4437c"/>
<circle cx="646.40" cy="691.45" r="1.25" fill="#c4437c"/>
<circle cx="649.70" cy="693.52" r="1.25" fill="#c4437c"/>
<circle cx="646.40" cy="694.26" r="1.25" fill="#c4437c"/>
<circle cx="649.70" cy="696.43" r="1.25" fill="#c4437c"/>
<circle cx="653.00" cy="696.73" r="1.25" fill="#c4437c"/>
<circle cx="646.40" cy="697.71" r="1.25" fill="#c4437c"/>
<circle cx="656.30" cy="697.95" r="1.25" fill="#c4437c"/>
<circle cx="643.10" cy="698.90" r="1.25" fill="#c4437c"/>
<circle cx="651.35" cy="699.23" r="1.25" fill="#c4437c"/>
<circle cx="659.60" cy="699.38" r="1.25" fill="#c4437c"/>
<circle cx="639.80" cy="699.75" r="1.25" fill="#c4437c"/>
<circle cx="636.50" cy="700.13" r="1.25" fill="#c4437c"/>
<circle cx="648.05" cy="700.20" r="1.25" fill="#c4437c"/>
<circle cx="653.00" cy="701.93" r="1.25" fill="#c4437c"/>
<circle cx="644.75" cy="702.48" r="1.25" fill="#c4437c"/>
<circle cx="649.70" cy="703.16" r="1.25" fill="#c4437c"/>
<circle cx="654.65" cy="704.70" r="1.25" fill="#c4437c"/>
<circle cx="641.45" cy="704.89" r="1.25" fill="#c4437c"/>
<circle cx="646.40" cy="705.10" r="1.25" fill="#c4437c"/>
<circle cx="651.35" cy="705.67" r="1.25" fill="#c4437c"/>
<circle cx="657.95" cy="705.82" r="1.25" fill="#c4437c"/>
<circle cx="638.15" cy="705.89" r="1.25" fill="#c4437c"/>
<circle cx="661.25" cy="706.16" r="1.25" fill="#c4437c"/>
<circle cx="664.55" cy="706.24" r="1.25" fill="#c4437c"/>
<circle cx="634.85" cy="706.92" r="1.25" fill="#c4437c"/>
<circle cx="662.87" cy="706.92" r="1.25" fill="#c4437c"/>
<circle cx="638.23" cy="707.17" r="1.25" fill="#c4437c"/>
<circle cx="643.10" cy="707.49" r="1.25" fill="#c4437c"/>
<circle cx="648.05" cy="707.62" r="1.25" fill="#c4437c"/>
<circle cx="653.00" cy="708.17" r="1.25" fill="#c4437c"/>
<circle cx="656.30" cy="708.52" r="1.25" fill="#c4437c"/>
<circle cx="659.60" cy="708.69" r="1.25" fill="#c4437c"/>
<circle cx="640.13" cy="709.06" r="1.25" fill="#c4437c"/>
<circle cx="640.19" cy="709.33" r="1.25" fill="#c4437c"/>
<circle cx="636.50" cy="709.60" r="1.25" fill="#c4437c"/>
<circle cx="649.70" cy="710.16" r="1.25" fill="#c4437c"/>
<circle cx="646.40" cy="710.47" r="1.25" fill="#c4437c"/>
<circle cx="662.90" cy="710.48" r="1.25" fill="#c4437c"/>
<circle cx="643.10" cy="710.94" r="1.25" fill="#c4437c"/>
<circle cx="653.00" cy="711.65" r="1.25" fill="#c4437c"/>
<circle cx="656.30" cy="711.91" r="1.25" fill="#c4437c"/>
<circle cx="639.80" cy="712.23" r="1.25" fill="#c4437c"/>
<circle cx="649.70" cy="713.11" r="1.25" fill="#c4437c"/>
<circle cx="659.60" cy="713.13" r="1.25" fill="#c4437c"/>
<circle cx="646.40" cy="713.92" r="1.25" fill="#c4437c"/>
<circle cx="653.00" cy="715.24" r="1.25" fill="#c4437c"/>
<circle cx="643.10" cy="715.59" r="1.25" fill="#c4437c"/>
<circle cx="656.30" cy="715.77" r="1.25" fill="#c4437c"/>
<circle cx="649.70" cy="716.34" r="1.25" fill="#c4437c"/>
<circle cx="646.40" cy="717.02" r="1.25" fill="#c4437c"/>
<circle cx="659.60" cy="717.34" r="1.25" fill="#c4437c"/>
<circle cx="639.80" cy="717.48" r="1.25" fill="#c4437c"/>
<circle cx="662.90" cy="717.83" r="1.25" fill="#c4437c"/>
<circle cx="636.50" cy="717.96" r="1.25" fill="#c4437c"/>
<circle cx="664.12" cy="717.98" r="1.25" fill="#c4437c"/>
<circle cx="653.00" cy="718.18" r="1.25" fill="#c4437c"/>
<circle cx="643.10" cy="718.76" r="1.25" fill="#c4437c"/>
<circle cx="649.70" cy="720.72" r="1.25" fill="#c4437c"/>
<circle cx="646.40" cy="720.85" r="1.25" fill="#c4437c"/>
<circle cx="653.00" cy="721.30" r="1.25" fill="#c4437c"/>
<circle cx="656.30" cy="721.75" r="1.25" fill="#c4437c"/>
<circle cx="643.10" cy="721.75" r="1.25" fill="#c4437c"/>
<circle cx="659.60" cy="722.15" r="1.25" fill="#c4437c"/>
<circle cx="639.80" cy="722.27" r="1.25" fill="#c4437c"/>
<circle cx="662.90" cy="722.35" r="1.25" fill="#c4437c"/>
<circle cx="636.50" cy="722.43" r="1.25" fill="#c4437c"/>
<circle cx="661.05" cy="722.62" r="1.25" fill="#c4437c"/>
<circle cx="651.28" cy="722.91" r="1.25" fill="#c4437c"/>
<circle cx="637.71" cy="722.92" r="1.25" fill="#c4437c"/>
<circle cx="658.64" cy="723.09" r="1.25" fill="#c4437c"/>
<circle cx="638.41" cy="723.09" r="1.25" fill="#c4437c"/>
<circle cx="648.05" cy="724.07" r="1.25" fill="#c4437c"/>
<circle cx="654.65" cy="724.51" r="1.25" fill="#c4437c"/>
<circle cx="644.75" cy="724.59" r="1.25" fill="#c4437c"/>
<circle cx="641.45" cy="725.31" r="1.25" fill="#c4437c"/>
<circle cx="662.90" cy="725.38" r="1.25" fill="#c4437c"/>
<circle cx="651.35" cy="726.07" r="1.25" fill="#c4437c"/>
<circle cx="657.95" cy="726.41" r="1.25" fill="#c4437c"/>
<circle cx="648.05" cy="728.27" r="1.25" fill="#c4437c"/>
<circle cx="651.35" cy="730.06" r="1.25" fill="#c4437c"/>
<circle cx="654.65" cy="730.31" r="1.25" fill="#c4437c"/>
<circle cx="644.75" cy="730.51" r="1.25" fill="#c4437c"/>
<circle cx="641.45" cy="730.85" r="1.25" fill="#c4437c"/>
<circle cx="657.95" cy="730.97" r="1.25" fill="#c4437c"/>
<circle cx="648.05" cy="731.31" r="1.25" fill="#c4437c"/>
<circle cx="638.15" cy="732.35" r="1.25" fill="#c4437c"/>
<circle cx="651.35" cy="732.86" r="1.25" fill="#c4437c"/>
<circle cx="661.25" cy="732.96" r="1.25" fill="#c4437c"/>
<circle cx="648.05" cy="734.22" r="1.25" fill="#c4437c"/>
<circle cx="644.75" cy="734.54" r="1.25" fill="#c4437c"/>
<circle cx="654.65" cy="734.84" r="1.25" fill="#c4437c"/>
<circle cx="651.35" cy="736.02" r="1.25" fill="#c4437c"/>
<circle cx="657.95" cy="736.46" r="1.25" fill="#c4437c"/>
<circle cx="641.45" cy="736.83" r="1.25" fill="#c4437c"/>
<circle cx="648.05" cy="737.40" r="1.25" fill="#c4437c"/>
<circle cx="653.00" cy="738.56" r="1.25" fill="#c4437c"/>
<circle cx="649.70" cy="743.30" r="1.25" fill="#c4437c"/>
<line x1="604.65" y1="670.80" x2="604.65" y2="703.00" stroke="#222" stroke-width="1.2" />
<line x1="596.85" y1="670.80" x2="612.45" y2="670.80" stroke="#222" stroke-width="1.2" />
<line x1="596.85" y1="703.00" x2="612.45" y2="703.00" stroke="#222" stroke-width="1.2" />
<line x1="650.20" y1="702.20" x2="650.20" y2="729.40" stroke="#222" stroke-width="1.2" />
<line x1="642.40" y1="702.20" x2="658.00" y2="702.20" stroke="#222" stroke-width="1.2" />
<line x1="642.40" y1="729.40" x2="658.00" y2="729.40" stroke="#222" stroke-width="1.2" />
<line x1="573.30" y1="642.80" x2="573.30" y2="781.90" stroke="#222" stroke-width="1.2" />
<line x1="573.30" y1="781.30" x2="680.70" y2="781.30" stroke="#222" stroke-width="1.2" />
<line x1="569.10" y1="643.40" x2="573.30" y2="643.40" stroke="#222" stroke-width="1.2" />
<text x="0.00" y="0.00" font-size="9.6" text-anchor="end" font-weight="normal" fill="#111" stroke="#111" stroke-width="0.2"  transform="translate(567.30,647.30) scale(1,1.15)">10</text>
<line x1="569.10" y1="671.60" x2="573.30" y2="671.60" stroke="#222" stroke-width="1.2" />
<text x="0.00" y="0.00" font-size="9.6" text-anchor="end" font-weight="normal" fill="#111" stroke="#111" stroke-width="0.2"  transform="translate(567.30,675.50) scale(1,1.15)">8</text>
<line x1="569.10" y1="699.20" x2="573.30" y2="699.20" stroke="#222" stroke-width="1.2" />
<text x="0.00" y="0.00" font-size="9.6" text-anchor="end" font-weight="normal" fill="#111" stroke="#111" stroke-width="0.2"  transform="translate(567.30,703.10) scale(1,1.15)">6</text>
<line x1="569.10" y1="726.80" x2="573.30" y2="726.80" stroke="#222" stroke-width="1.2" />
<text x="0.00" y="0.00" font-size="9.6" text-anchor="end" font-weight="normal" fill="#111" stroke="#111" stroke-width="0.2"  transform="translate(567.30,730.70) scale(1,1.15)">4</text>
<line x1="569.10" y1="754.00" x2="573.30" y2="754.00" stroke="#222" stroke-width="1.2" />
<text x="0.00" y="0.00" font-size="9.6" text-anchor="end" font-weight="normal" fill="#111" stroke="#111" stroke-width="0.2"  transform="translate(567.30,757.90) scale(1,1.15)">2</text>
<line x1="569.10" y1="781.30" x2="573.30" y2="781.30" stroke="#222" stroke-width="1.2" />
<text x="0.00" y="0.00" font-size="9.6" text-anchor="end" font-weight="normal" fill="#111" stroke="#111" stroke-width="0.2"  transform="translate(567.30,785.20) scale(1,1.15)">0</text>
<line x1="604.65" y1="781.30" x2="604.65" y2="785.10" stroke="#222" stroke-width="1.4" />
<text x="0.00" y="0.00" font-size="10.3" text-anchor="middle" font-weight="normal" fill="#111" stroke="#111" stroke-width="0.2" textLength="26" lengthAdjust="spacingAndGlyphs" transform="translate(607.15,798.40) scale(1,1.13)">ECM1</text>
<line x1="650.20" y1="781.30" x2="650.20" y2="785.10" stroke="#222" stroke-width="1.4" />
<text x="0.00" y="0.00" font-size="10.3" text-anchor="middle" font-weight="normal" fill="#111" stroke="#111" stroke-width="0.2" textLength="26" lengthAdjust="spacingAndGlyphs" transform="translate(651.90,798.40) scale(1,1.13)">ECM2</text>
<line x1="604.00" y1="645.70" x2="648.00" y2="645.70" stroke="#111" stroke-width="1.45" />
<line x1="604.00" y1="641.50" x2="604.00" y2="649.70" stroke="#111" stroke-width="1.45" />
<line x1="648.00" y1="641.50" x2="648.00" y2="649.70" stroke="#111" stroke-width="1.45" />
<path d="M617.15,642.20 L617.15,639.70 M617.15,642.20 L619.53,641.43 M617.15,642.20 L618.62,644.22 M617.15,642.20 L615.68,644.22 M617.15,642.20 L614.77,641.43 " stroke="#111" stroke-width="1.45" stroke-linecap="round" fill="none"/>
<path d="M623.05,642.20 L623.05,639.70 M623.05,642.20 L625.43,641.43 M623.05,642.20 L624.52,644.22 M623.05,642.20 L621.58,644.22 M623.05,642.20 L620.67,641.43 " stroke="#111" stroke-width="1.45" stroke-linecap="round" fill="none"/>
<path d="M628.95,642.20 L628.95,639.70 M628.95,642.20 L631.33,641.43 M628.95,642.20 L630.42,644.22 M628.95,642.20 L627.48,644.22 M628.95,642.20 L626.57,641.43 " stroke="#111" stroke-width="1.45" stroke-linecap="round" fill="none"/>
<path d="M634.85,642.20 L634.85,639.70 M634.85,642.20 L637.23,641.43 M634.85,642.20 L636.32,644.22 M634.85,642.20 L633.38,644.22 M634.85,642.20 L632.47,641.43 " stroke="#111" stroke-width="1.45" stroke-linecap="round" fill="none"/>
<text x="3.80" y="842.30" font-size="19" text-anchor="start" font-weight="bold" fill="#000" >q</text>
<text x="105.50" y="844.00" font-size="13.2" text-anchor="middle" font-weight="normal" fill="#111" stroke="#111" stroke-width="0.2" >VEGFA</text>
<text x="0.00" y="0.00" font-size="11.3" text-anchor="middle" font-weight="normal" fill="#000" stroke="#000" stroke-width="0.2" transform="translate(29.40,915.00) rotate(-90)">Normalized gene expression</text>
<path d="M69.10,984.50 L69.10,909.30 L97.60,909.30 L97.60,984.50" fill="#fff" stroke="#4a9e92" stroke-width="1.6"/>
<circle cx="82.85" cy="872.84" r="1.25" fill="#4a9e92"/>
<circle cx="87.05" cy="874.09" r="1.25" fill="#4a9e92"/>
<circle cx="82.85" cy="876.07" r="1.25" fill="#4a9e92"/>
<circle cx="78.65" cy="876.13" r="1.25" fill="#4a9e92"/>
<circle cx="87.05" cy="878.33" r="1.25" fill="#4a9e92"/>
<circle cx="80.75" cy="878.73" r="1.25" fill="#4a9e92"/>
<circle cx="76.55" cy="880.13" r="1.25" fill="#4a9e92"/>
<circle cx="82.85" cy="881.47" r="1.25" fill="#4a9e92"/>
<circle cx="87.05" cy="882.42" r="1.25" fill="#4a9e92"/>
<circle cx="78.65" cy="883.18" r="1.25" fill="#4a9e92"/>
<circle cx="82.85" cy="884.91" r="1.25" fill="#4a9e92"/>
<circle cx="87.05" cy="886.03" r="1.25" fill="#4a9e92"/>
<circle cx="78.65" cy="886.78" r="1.25" fill="#4a9e92"/>
<circle cx="82.85" cy="888.70" r="1.25" fill="#4a9e92"/>
<circle cx="87.05" cy="889.16" r="1.25" fill="#4a9e92"/>
<circle cx="78.65" cy="890.65" r="1.25" fill="#4a9e92"/>
<circle cx="82.85" cy="892.07" r="1.25" fill="#4a9e92"/>
<circle cx="87.05" cy="893.12" r="1.25" fill="#4a9e92"/>
<circle cx="78.65" cy="894.25" r="1.25" fill="#4a9e92"/>
<circle cx="82.85" cy="895.17" r="1.25" fill="#4a9e92"/>
<circle cx="87.05" cy="896.39" r="1.25" fill="#4a9e92"/>
<circle cx="76.55" cy="896.85" r="1.25" fill="#4a9e92"/>
<circle cx="80.75" cy="897.91" r="1.25" fill="#4a9e92"/>
<circle cx="84.95" cy="899.38" r="1.25" fill="#4a9e92"/>
<circle cx="89.15" cy="900.24" r="1.25" fill="#4a9e92"/>
<circle cx="82.85" cy="902.23" r="1.25" fill="#4a9e92"/>
<circle cx="78.65" cy="902.83" r="1.25" fill="#4a9e92"/>
<circle cx="87.05" cy="904.14" r="1.25" fill="#4a9e92"/>
<circle cx="91.25" cy="904.80" r="1.25" fill="#4a9e92"/>
<circle cx="82.85" cy="906.71" r="1.25" fill="#4a9e92"/>
<circle cx="87.05" cy="907.19" r="1.25" fill="#4a9e92"/>
<circle cx="78.65" cy="908.21" r="1.25" fill="#4a9e92"/>
<circle cx="82.85" cy="910.24" r="1.25" fill="#4a9e92"/>
<circle cx="78.65" cy="911.39" r="1.25" fill="#4a9e92"/>
<circle cx="87.05" cy="911.78" r="1.25" fill="#4a9e92"/>
<circle cx="82.85" cy="913.92" r="1.25" fill="#4a9e92"/>
<circle cx="78.65" cy="914.92" r="1.25" fill="#4a9e92"/>
<circle cx="87.05" cy="915.51" r="1.25" fill="#4a9e92"/>
<circle cx="82.85" cy="917.20" r="1.25" fill="#4a9e92"/>
<circle cx="76.55" cy="917.59" r="1.25" fill="#4a9e92"/>
<circle cx="87.05" cy="919.47" r="1.25" fill="#4a9e92"/>
<circle cx="80.75" cy="919.92" r="1.25" fill="#4a9e92"/>
<circle cx="76.55" cy="920.90" r="1.25" fill="#4a9e92"/>
<circle cx="82.85" cy="922.77" r="1.25" fill="#4a9e92"/>
<circle cx="78.65" cy="923.99" r="1.25" fill="#4a9e92"/>
<circle cx="84.95" cy="925.37" r="1.25" fill="#4a9e92"/>
<circle cx="89.15" cy="925.87" r="1.25" fill="#4a9e92"/>
<circle cx="80.75" cy="927.05" r="1.25" fill="#4a9e92"/>
<circle cx="84.95" cy="928.54" r="1.25" fill="#4a9e92"/>
<circle cx="76.55" cy="929.43" r="1.25" fill="#4a9e92"/>
<circle cx="82.85" cy="930.99" r="1.25" fill="#4a9e92"/>
<circle cx="87.05" cy="931.23" r="1.25" fill="#4a9e92"/>
<circle cx="78.65" cy="932.67" r="1.25" fill="#4a9e92"/>
<circle cx="91.25" cy="933.47" r="1.25" fill="#4a9e92"/>
<circle cx="82.85" cy="935.17" r="1.25" fill="#4a9e92"/>
<circle cx="87.05" cy="936.81" r="1.25" fill="#4a9e92"/>
<circle cx="78.65" cy="936.94" r="1.25" fill="#4a9e92"/>
<circle cx="82.85" cy="938.29" r="1.25" fill="#4a9e92"/>
<circle cx="91.25" cy="939.21" r="1.25" fill="#4a9e92"/>
<circle cx="87.05" cy="940.52" r="1.25" fill="#4a9e92"/>
<circle cx="82.85" cy="941.73" r="1.25" fill="#4a9e92"/>
<circle cx="78.65" cy="943.01" r="1.25" fill="#4a9e92"/>
<circle cx="82.85" cy="944.89" r="1.25" fill="#4a9e92"/>
<circle cx="78.65" cy="947.22" r="1.25" fill="#4a9e92"/>
<circle cx="82.85" cy="951.88" r="1.25" fill="#4a9e92"/>
<path d="M115.50,984.50 L115.50,932.60 L144.10,932.60 L144.10,984.50" fill="#fff" stroke="#c4437c" stroke-width="1.6"/>
<circle cx="129.30" cy="907.96" r="1.25" fill="#c4437c"/>
<circle cx="126.00" cy="908.77" r="1.25" fill="#c4437c"/>
<circle cx="129.30" cy="915.18" r="1.25" fill="#c4437c"/>
<circle cx="129.30" cy="918.10" r="1.25" fill="#c4437c"/>
<circle cx="126.00" cy="919.26" r="1.25" fill="#c4437c"/>
<circle cx="129.30" cy="922.23" r="1.25" fill="#c4437c"/>
<circle cx="132.60" cy="922.28" r="1.25" fill="#c4437c"/>
<circle cx="126.00" cy="923.43" r="1.25" fill="#c4437c"/>
<circle cx="122.70" cy="924.47" r="1.25" fill="#c4437c"/>
<circle cx="129.30" cy="925.78" r="1.25" fill="#c4437c"/>
<circle cx="132.60" cy="926.09" r="1.25" fill="#c4437c"/>
<circle cx="135.90" cy="926.17" r="1.25" fill="#c4437c"/>
<circle cx="139.20" cy="926.20" r="1.25" fill="#c4437c"/>
<circle cx="126.00" cy="926.44" r="1.25" fill="#c4437c"/>
<circle cx="119.40" cy="926.47" r="1.25" fill="#c4437c"/>
<circle cx="142.50" cy="926.66" r="1.25" fill="#c4437c"/>
<circle cx="116.10" cy="926.76" r="1.25" fill="#c4437c"/>
<circle cx="135.16" cy="926.84" r="1.25" fill="#c4437c"/>
<circle cx="122.70" cy="927.40" r="1.25" fill="#c4437c"/>
<circle cx="144.25" cy="927.69" r="1.25" fill="#c4437c"/>
<circle cx="119.79" cy="927.83" r="1.25" fill="#c4437c"/>
<circle cx="116.03" cy="927.88" r="1.25" fill="#c4437c"/>
<circle cx="141.74" cy="927.94" r="1.25" fill="#c4437c"/>
<circle cx="138.54" cy="927.96" r="1.25" fill="#c4437c"/>
<circle cx="140.20" cy="928.50" r="1.25" fill="#c4437c"/>
<circle cx="130.95" cy="928.56" r="1.25" fill="#c4437c"/>
<circle cx="142.64" cy="928.65" r="1.25" fill="#c4437c"/>
<circle cx="122.99" cy="928.76" r="1.25" fill="#c4437c"/>
<circle cx="136.50" cy="928.81" r="1.25" fill="#c4437c"/>
<circle cx="127.65" cy="928.87" r="1.25" fill="#c4437c"/>
<circle cx="134.14" cy="928.93" r="1.25" fill="#c4437c"/>
<circle cx="120.05" cy="928.94" r="1.25" fill="#c4437c"/>
<circle cx="136.81" cy="928.95" r="1.25" fill="#c4437c"/>
<circle cx="128.45" cy="929.03" r="1.25" fill="#c4437c"/>
<circle cx="131.54" cy="929.10" r="1.25" fill="#c4437c"/>
<circle cx="119.20" cy="929.47" r="1.25" fill="#c4437c"/>
<circle cx="137.68" cy="929.53" r="1.25" fill="#c4437c"/>
<circle cx="142.37" cy="929.81" r="1.25" fill="#c4437c"/>
<circle cx="123.48" cy="930.00" r="1.25" fill="#c4437c"/>
<circle cx="116.90" cy="930.06" r="1.25" fill="#c4437c"/>
<circle cx="136.07" cy="930.32" r="1.25" fill="#c4437c"/>
<circle cx="123.69" cy="930.68" r="1.25" fill="#c4437c"/>
<circle cx="135.32" cy="930.77" r="1.25" fill="#c4437c"/>
<circle cx="141.18" cy="931.08" r="1.25" fill="#c4437c"/>
<circle cx="131.16" cy="931.10" r="1.25" fill="#c4437c"/>
<circle cx="116.21" cy="931.11" r="1.25" fill="#c4437c"/>
<circle cx="130.12" cy="931.20" r="1.25" fill="#c4437c"/>
<circle cx="130.21" cy="931.78" r="1.25" fill="#c4437c"/>
<circle cx="128.13" cy="931.94" r="1.25" fill="#c4437c"/>
<circle cx="138.73" cy="932.04" r="1.25" fill="#c4437c"/>
<circle cx="121.05" cy="932.41" r="1.25" fill="#c4437c"/>
<circle cx="144.15" cy="932.47" r="1.25" fill="#c4437c"/>
<circle cx="118.59" cy="933.06" r="1.25" fill="#c4437c"/>
<circle cx="138.19" cy="933.38" r="1.25" fill="#c4437c"/>
<circle cx="134.25" cy="933.67" r="1.25" fill="#c4437c"/>
<circle cx="124.35" cy="933.68" r="1.25" fill="#c4437c"/>
<circle cx="114.45" cy="933.80" r="1.25" fill="#c4437c"/>
<circle cx="116.63" cy="933.86" r="1.25" fill="#c4437c"/>
<circle cx="141.21" cy="933.91" r="1.25" fill="#c4437c"/>
<circle cx="119.64" cy="933.97" r="1.25" fill="#c4437c"/>
<circle cx="138.22" cy="933.99" r="1.25" fill="#c4437c"/>
<circle cx="128.80" cy="934.05" r="1.25" fill="#c4437c"/>
<circle cx="123.17" cy="934.13" r="1.25" fill="#c4437c"/>
<circle cx="123.85" cy="934.15" r="1.25" fill="#c4437c"/>
<circle cx="118.86" cy="934.17" r="1.25" fill="#c4437c"/>
<circle cx="125.53" cy="934.25" r="1.25" fill="#c4437c"/>
<circle cx="129.17" cy="934.28" r="1.25" fill="#c4437c"/>
<circle cx="118.55" cy="934.39" r="1.25" fill="#c4437c"/>
<circle cx="143.88" cy="934.58" r="1.25" fill="#c4437c"/>
<circle cx="127.87" cy="934.71" r="1.25" fill="#c4437c"/>
<circle cx="115.89" cy="934.92" r="1.25" fill="#c4437c"/>
<circle cx="126.08" cy="934.93" r="1.25" fill="#c4437c"/>
<circle cx="118.75" cy="934.98" r="1.25" fill="#c4437c"/>
<circle cx="125.20" cy="935.01" r="1.25" fill="#c4437c"/>
<circle cx="133.75" cy="935.10" r="1.25" fill="#c4437c"/>
<circle cx="138.67" cy="935.12" r="1.25" fill="#c4437c"/>
<circle cx="117.48" cy="935.13" r="1.25" fill="#c4437c"/>
<circle cx="136.24" cy="935.21" r="1.25" fill="#c4437c"/>
<circle cx="115.98" cy="935.37" r="1.25" fill="#c4437c"/>
<circle cx="131.36" cy="935.66" r="1.25" fill="#c4437c"/>
<circle cx="142.04" cy="935.69" r="1.25" fill="#c4437c"/>
<circle cx="115.57" cy="935.77" r="1.25" fill="#c4437c"/>
<circle cx="122.16" cy="935.96" r="1.25" fill="#c4437c"/>
<circle cx="131.14" cy="936.05" r="1.25" fill="#c4437c"/>
<circle cx="130.39" cy="936.11" r="1.25" fill="#c4437c"/>
<circle cx="126.45" cy="936.91" r="1.25" fill="#c4437c"/>
<circle cx="118.96" cy="936.93" r="1.25" fill="#c4437c"/>
<circle cx="127.43" cy="937.02" r="1.25" fill="#c4437c"/>
<circle cx="127.32" cy="937.03" r="1.25" fill="#c4437c"/>
<circle cx="122.08" cy="937.08" r="1.25" fill="#c4437c"/>
<circle cx="139.63" cy="937.17" r="1.25" fill="#c4437c"/>
<circle cx="123.66" cy="937.24" r="1.25" fill="#c4437c"/>
<circle cx="142.60" cy="937.39" r="1.25" fill="#c4437c"/>
<circle cx="134.75" cy="937.45" r="1.25" fill="#c4437c"/>
<circle cx="116.81" cy="937.63" r="1.25" fill="#c4437c"/>
<circle cx="125.75" cy="937.64" r="1.25" fill="#c4437c"/>
<circle cx="130.89" cy="937.84" r="1.25" fill="#c4437c"/>
<circle cx="128.01" cy="938.03" r="1.25" fill="#c4437c"/>
<circle cx="140.02" cy="938.64" r="1.25" fill="#c4437c"/>
<circle cx="124.39" cy="938.66" r="1.25" fill="#c4437c"/>
<circle cx="125.41" cy="938.78" r="1.25" fill="#c4437c"/>
<circle cx="126.92" cy="938.94" r="1.25" fill="#c4437c"/>
<circle cx="121.05" cy="939.82" r="1.25" fill="#c4437c"/>
<circle cx="132.60" cy="940.29" r="1.25" fill="#c4437c"/>
<circle cx="129.30" cy="940.93" r="1.25" fill="#c4437c"/>
<circle cx="124.35" cy="941.58" r="1.25" fill="#c4437c"/>
<circle cx="135.90" cy="942.61" r="1.25" fill="#c4437c"/>
<circle cx="129.30" cy="945.50" r="1.25" fill="#c4437c"/>
<circle cx="126.00" cy="945.63" r="1.25" fill="#c4437c"/>
<circle cx="132.60" cy="947.74" r="1.25" fill="#c4437c"/>
<line x1="83.35" y1="887.40" x2="83.35" y2="930.00" stroke="#222" stroke-width="1.2" />
<line x1="75.55" y1="887.40" x2="91.15" y2="887.40" stroke="#222" stroke-width="1.2" />
<line x1="75.55" y1="930.00" x2="91.15" y2="930.00" stroke="#222" stroke-width="1.2" />
<line x1="129.80" y1="925.50" x2="129.80" y2="940.60" stroke="#222" stroke-width="1.2" />
<line x1="122.00" y1="925.50" x2="137.60" y2="925.50" stroke="#222" stroke-width="1.2" />
<line x1="122.00" y1="940.60" x2="137.60" y2="940.60" stroke="#222" stroke-width="1.2" />
<line x1="53.20" y1="844.10" x2="53.20" y2="985.10" stroke="#222" stroke-width="1.2" />
<line x1="53.20" y1="984.50" x2="160.70" y2="984.50" stroke="#222" stroke-width="1.2" />
<line x1="49.00" y1="844.70" x2="53.20" y2="844.70" stroke="#222" stroke-width="1.2" />
<text x="0.00" y="0.00" font-size="9.6" text-anchor="end" font-weight="normal" fill="#111" stroke="#111" stroke-width="0.2"  transform="translate(47.20,848.60) scale(1,1.15)">12</text>
<line x1="49.00" y1="867.80" x2="53.20" y2="867.80" stroke="#222" stroke-width="1.2" />
<text x="0.00" y="0.00" font-size="9.6" text-anchor="end" font-weight="normal" fill="#111" stroke="#111" stroke-width="0.2"  transform="translate(47.20,871.70) scale(1,1.15)">10</text>
<line x1="49.00" y1="891.20" x2="53.20" y2="891.20" stroke="#222" stroke-width="1.2" />
<text x="0.00" y="0.00" font-size="9.6" text-anchor="end" font-weight="normal" fill="#111" stroke="#111" stroke-width="0.2"  transform="translate(47.20,895.10) scale(1,1.15)">8</text>
<line x1="49.00" y1="914.30" x2="53.20" y2="914.30" stroke="#222" stroke-width="1.2" />
<text x="0.00" y="0.00" font-size="9.6" text-anchor="end" font-weight="normal" fill="#111" stroke="#111" stroke-width="0.2"  transform="translate(47.20,918.20) scale(1,1.15)">6</text>
<line x1="49.00" y1="937.60" x2="53.20" y2="937.60" stroke="#222" stroke-width="1.2" />
<text x="0.00" y="0.00" font-size="9.6" text-anchor="end" font-weight="normal" fill="#111" stroke="#111" stroke-width="0.2"  transform="translate(47.20,941.50) scale(1,1.15)">4</text>
<line x1="49.00" y1="961.20" x2="53.20" y2="961.20" stroke="#222" stroke-width="1.2" />
<text x="0.00" y="0.00" font-size="9.6" text-anchor="end" font-weight="normal" fill="#111" stroke="#111" stroke-width="0.2"  transform="translate(47.20,965.10) scale(1,1.15)">2</text>
<line x1="49.00" y1="984.50" x2="53.20" y2="984.50" stroke="#222" stroke-width="1.2" />
<text x="0.00" y="0.00" font-size="9.6" text-anchor="end" font-weight="normal" fill="#111" stroke="#111" stroke-width="0.2"  transform="translate(47.20,988.40) scale(1,1.15)">0</text>
<line x1="83.35" y1="984.50" x2="83.35" y2="988.30" stroke="#222" stroke-width="1.4" />
<text x="0.00" y="0.00" font-size="10.3" text-anchor="middle" font-weight="normal" fill="#111" stroke="#111" stroke-width="0.2" textLength="26" lengthAdjust="spacingAndGlyphs" transform="translate(85.15,999.40) scale(1,1.13)">ECM1</text>
<line x1="129.80" y1="984.50" x2="129.80" y2="988.30" stroke="#222" stroke-width="1.4" />
<text x="0.00" y="0.00" font-size="10.3" text-anchor="middle" font-weight="normal" fill="#111" stroke="#111" stroke-width="0.2" textLength="26" lengthAdjust="spacingAndGlyphs" transform="translate(129.40,999.40) scale(1,1.13)">ECM2</text>
<line x1="83.60" y1="864.80" x2="129.30" y2="864.80" stroke="#111" stroke-width="1.45" />
<line x1="83.60" y1="859.80" x2="83.60" y2="869.80" stroke="#111" stroke-width="1.45" />
<line x1="129.30" y1="859.80" x2="129.30" y2="869.80" stroke="#111" stroke-width="1.45" />
<path d="M97.85,861.30 L97.85,858.80 M97.85,861.30 L100.23,860.53 M97.85,861.30 L99.32,863.32 M97.85,861.30 L96.38,863.32 M97.85,861.30 L95.47,860.53 " stroke="#111" stroke-width="1.45" stroke-linecap="round" fill="none"/>
<path d="M103.75,861.30 L103.75,858.80 M103.75,861.30 L106.13,860.53 M103.75,861.30 L105.22,863.32 M103.75,861.30 L102.28,863.32 M103.75,861.30 L101.37,860.53 " stroke="#111" stroke-width="1.45" stroke-linecap="round" fill="none"/>
<path d="M109.65,861.30 L109.65,858.80 M109.65,861.30 L112.03,860.53 M109.65,861.30 L111.12,863.32 M109.65,861.30 L108.18,863.32 M109.65,861.30 L107.27,860.53 " stroke="#111" stroke-width="1.45" stroke-linecap="round" fill="none"/>
<path d="M115.55,861.30 L115.55,858.80 M115.55,861.30 L117.93,860.53 M115.55,861.30 L117.02,863.32 M115.55,861.30 L114.08,863.32 M115.55,861.30 L113.17,860.53 " stroke="#111" stroke-width="1.45" stroke-linecap="round" fill="none"/>
<text x="174.30" y="842.50" font-size="19" text-anchor="start" font-weight="bold" fill="#000" >r</text>
<text x="280.40" y="839.70" font-size="13.2" text-anchor="middle" font-weight="normal" fill="#111" stroke="#111" stroke-width="0.2" >VEGFB</text>
<text x="0.00" y="0.00" font-size="11.3" text-anchor="middle" font-weight="normal" fill="#000" stroke="#000" stroke-width="0.2" transform="translate(208.20,914.00) rotate(-90)">Normalized gene expression</text>
<path d="M244.10,984.60 L244.10,897.60 L272.90,897.60 L272.90,984.60" fill="#fff" stroke="#4a9e92" stroke-width="1.6"/>
<circle cx="258.00" cy="870.51" r="1.25" fill="#4a9e92"/>
<circle cx="261.30" cy="872.64" r="1.25" fill="#4a9e92"/>
<circle cx="254.70" cy="872.72" r="1.25" fill="#4a9e92"/>
<circle cx="258.00" cy="876.68" r="1.25" fill="#4a9e92"/>
<circle cx="254.70" cy="876.98" r="1.25" fill="#4a9e92"/>
<circle cx="261.30" cy="878.15" r="1.25" fill="#4a9e92"/>
<circle cx="258.00" cy="879.81" r="1.25" fill="#4a9e92"/>
<circle cx="254.70" cy="880.43" r="1.25" fill="#4a9e92"/>
<circle cx="262.95" cy="880.95" r="1.25" fill="#4a9e92"/>
<circle cx="259.65" cy="882.27" r="1.25" fill="#4a9e92"/>
<circle cx="256.35" cy="883.40" r="1.25" fill="#4a9e92"/>
<circle cx="253.05" cy="883.70" r="1.25" fill="#4a9e92"/>
<circle cx="262.95" cy="883.76" r="1.25" fill="#4a9e92"/>
<circle cx="266.25" cy="884.48" r="1.25" fill="#4a9e92"/>
<circle cx="249.75" cy="884.53" r="1.25" fill="#4a9e92"/>
<circle cx="259.65" cy="885.11" r="1.25" fill="#4a9e92"/>
<circle cx="258.00" cy="888.99" r="1.25" fill="#4a9e92"/>
<circle cx="261.30" cy="889.83" r="1.25" fill="#4a9e92"/>
<circle cx="254.70" cy="890.47" r="1.25" fill="#4a9e92"/>
<circle cx="264.60" cy="890.53" r="1.25" fill="#4a9e92"/>
<circle cx="251.40" cy="890.54" r="1.25" fill="#4a9e92"/>
<circle cx="267.90" cy="890.54" r="1.25" fill="#4a9e92"/>
<circle cx="248.10" cy="891.30" r="1.25" fill="#4a9e92"/>
<circle cx="244.80" cy="891.32" r="1.25" fill="#4a9e92"/>
<circle cx="258.00" cy="892.37" r="1.25" fill="#4a9e92"/>
<circle cx="271.20" cy="892.40" r="1.25" fill="#4a9e92"/>
<circle cx="261.30" cy="893.13" r="1.25" fill="#4a9e92"/>
<circle cx="254.70" cy="893.78" r="1.25" fill="#4a9e92"/>
<circle cx="251.40" cy="895.15" r="1.25" fill="#4a9e92"/>
<circle cx="258.00" cy="896.47" r="1.25" fill="#4a9e92"/>
<circle cx="261.30" cy="896.72" r="1.25" fill="#4a9e92"/>
<circle cx="254.70" cy="897.04" r="1.25" fill="#4a9e92"/>
<circle cx="264.60" cy="897.43" r="1.25" fill="#4a9e92"/>
<circle cx="251.40" cy="898.20" r="1.25" fill="#4a9e92"/>
<circle cx="258.00" cy="899.31" r="1.25" fill="#4a9e92"/>
<circle cx="261.30" cy="899.58" r="1.25" fill="#4a9e92"/>
<circle cx="254.70" cy="900.03" r="1.25" fill="#4a9e92"/>
<circle cx="264.60" cy="900.70" r="1.25" fill="#4a9e92"/>
<circle cx="251.40" cy="901.00" r="1.25" fill="#4a9e92"/>
<circle cx="267.90" cy="901.05" r="1.25" fill="#4a9e92"/>
<circle cx="258.00" cy="902.51" r="1.25" fill="#4a9e92"/>
<circle cx="261.30" cy="902.60" r="1.25" fill="#4a9e92"/>
<circle cx="254.70" cy="903.07" r="1.25" fill="#4a9e92"/>
<circle cx="264.60" cy="904.56" r="1.25" fill="#4a9e92"/>
<circle cx="259.65" cy="905.04" r="1.25" fill="#4a9e92"/>
<circle cx="251.40" cy="905.13" r="1.25" fill="#4a9e92"/>
<circle cx="256.35" cy="906.14" r="1.25" fill="#4a9e92"/>
<circle cx="248.10" cy="906.50" r="1.25" fill="#4a9e92"/>
<circle cx="262.95" cy="907.00" r="1.25" fill="#4a9e92"/>
<circle cx="253.05" cy="907.77" r="1.25" fill="#4a9e92"/>
<circle cx="259.65" cy="907.93" r="1.25" fill="#4a9e92"/>
<circle cx="266.25" cy="908.28" r="1.25" fill="#4a9e92"/>
<circle cx="256.35" cy="909.11" r="1.25" fill="#4a9e92"/>
<circle cx="259.65" cy="910.73" r="1.25" fill="#4a9e92"/>
<circle cx="254.70" cy="911.70" r="1.25" fill="#4a9e92"/>
<circle cx="262.95" cy="911.76" r="1.25" fill="#4a9e92"/>
<circle cx="251.40" cy="912.49" r="1.25" fill="#4a9e92"/>
<circle cx="258.00" cy="914.16" r="1.25" fill="#4a9e92"/>
<circle cx="261.30" cy="914.46" r="1.25" fill="#4a9e92"/>
<circle cx="258.00" cy="917.47" r="1.25" fill="#4a9e92"/>
<circle cx="254.70" cy="917.94" r="1.25" fill="#4a9e92"/>
<circle cx="261.30" cy="918.15" r="1.25" fill="#4a9e92"/>
<circle cx="258.00" cy="920.57" r="1.25" fill="#4a9e92"/>
<circle cx="261.30" cy="922.38" r="1.25" fill="#4a9e92"/>
<circle cx="258.00" cy="929.70" r="1.25" fill="#4a9e92"/>
<path d="M292.10,984.60 L292.10,901.10 L321.20,901.10 L321.20,984.60" fill="#fff" stroke="#c4437c" stroke-width="1.6"/>
<circle cx="306.15" cy="875.13" r="1.25" fill="#c4437c"/>
<circle cx="302.85" cy="875.74" r="1.25" fill="#c4437c"/>
<circle cx="309.45" cy="876.34" r="1.25" fill="#c4437c"/>
<circle cx="312.75" cy="877.26" r="1.25" fill="#c4437c"/>
<circle cx="299.55" cy="877.57" r="1.25" fill="#c4437c"/>
<circle cx="306.15" cy="878.58" r="1.25" fill="#c4437c"/>
<circle cx="302.85" cy="879.30" r="1.25" fill="#c4437c"/>
<circle cx="306.15" cy="881.89" r="1.25" fill="#c4437c"/>
<circle cx="302.85" cy="883.11" r="1.25" fill="#c4437c"/>
<circle cx="309.45" cy="884.00" r="1.25" fill="#c4437c"/>
<circle cx="312.75" cy="884.60" r="1.25" fill="#c4437c"/>
<circle cx="306.15" cy="885.63" r="1.25" fill="#c4437c"/>
<circle cx="302.85" cy="885.98" r="1.25" fill="#c4437c"/>
<circle cx="299.55" cy="886.15" r="1.25" fill="#c4437c"/>
<circle cx="296.25" cy="886.28" r="1.25" fill="#c4437c"/>
<circle cx="309.45" cy="887.49" r="1.25" fill="#c4437c"/>
<circle cx="312.75" cy="887.78" r="1.25" fill="#c4437c"/>
<circle cx="316.05" cy="888.16" r="1.25" fill="#c4437c"/>
<circle cx="306.15" cy="888.83" r="1.25" fill="#c4437c"/>
<circle cx="302.85" cy="889.62" r="1.25" fill="#c4437c"/>
<circle cx="299.55" cy="889.97" r="1.25" fill="#c4437c"/>
<circle cx="309.45" cy="890.62" r="1.25" fill="#c4437c"/>
<circle cx="312.75" cy="890.83" r="1.25" fill="#c4437c"/>
<circle cx="296.25" cy="891.12" r="1.25" fill="#c4437c"/>
<circle cx="316.05" cy="891.33" r="1.25" fill="#c4437c"/>
<circle cx="306.15" cy="892.30" r="1.25" fill="#c4437c"/>
<circle cx="302.85" cy="892.49" r="1.25" fill="#c4437c"/>
<circle cx="319.35" cy="892.61" r="1.25" fill="#c4437c"/>
<circle cx="299.55" cy="892.84" r="1.25" fill="#c4437c"/>
<circle cx="292.95" cy="892.92" r="1.25" fill="#c4437c"/>
<circle cx="304.74" cy="893.02" r="1.25" fill="#c4437c"/>
<circle cx="311.10" cy="893.36" r="1.25" fill="#c4437c"/>
<circle cx="299.49" cy="893.66" r="1.25" fill="#c4437c"/>
<circle cx="314.40" cy="893.75" r="1.25" fill="#c4437c"/>
<circle cx="317.85" cy="893.82" r="1.25" fill="#c4437c"/>
<circle cx="305.62" cy="894.11" r="1.25" fill="#c4437c"/>
<circle cx="296.25" cy="894.29" r="1.25" fill="#c4437c"/>
<circle cx="304.31" cy="895.03" r="1.25" fill="#c4437c"/>
<circle cx="321.00" cy="895.54" r="1.25" fill="#c4437c"/>
<circle cx="309.45" cy="896.00" r="1.25" fill="#c4437c"/>
<circle cx="301.20" cy="896.66" r="1.25" fill="#c4437c"/>
<circle cx="312.75" cy="897.08" r="1.25" fill="#c4437c"/>
<circle cx="306.15" cy="897.78" r="1.25" fill="#c4437c"/>
<circle cx="297.90" cy="897.91" r="1.25" fill="#c4437c"/>
<circle cx="316.05" cy="898.15" r="1.25" fill="#c4437c"/>
<circle cx="294.60" cy="898.18" r="1.25" fill="#c4437c"/>
<circle cx="319.35" cy="898.35" r="1.25" fill="#c4437c"/>
<circle cx="291.30" cy="898.37" r="1.25" fill="#c4437c"/>
<circle cx="303.36" cy="898.69" r="1.25" fill="#c4437c"/>
<circle cx="301.97" cy="898.75" r="1.25" fill="#c4437c"/>
<circle cx="309.45" cy="898.92" r="1.25" fill="#c4437c"/>
<circle cx="308.42" cy="899.31" r="1.25" fill="#c4437c"/>
<circle cx="304.17" cy="899.44" r="1.25" fill="#c4437c"/>
<circle cx="292.04" cy="899.60" r="1.25" fill="#c4437c"/>
<circle cx="305.97" cy="899.73" r="1.25" fill="#c4437c"/>
<circle cx="312.75" cy="900.30" r="1.25" fill="#c4437c"/>
<circle cx="296.25" cy="900.63" r="1.25" fill="#c4437c"/>
<circle cx="299.55" cy="900.75" r="1.25" fill="#c4437c"/>
<circle cx="317.70" cy="900.78" r="1.25" fill="#c4437c"/>
<circle cx="321.00" cy="901.10" r="1.25" fill="#c4437c"/>
<circle cx="294.72" cy="901.54" r="1.25" fill="#c4437c"/>
<circle cx="297.57" cy="901.70" r="1.25" fill="#c4437c"/>
<circle cx="307.80" cy="902.13" r="1.25" fill="#c4437c"/>
<circle cx="302.85" cy="902.19" r="1.25" fill="#c4437c"/>
<circle cx="317.16" cy="902.27" r="1.25" fill="#c4437c"/>
<circle cx="311.10" cy="902.80" r="1.25" fill="#c4437c"/>
<circle cx="291.30" cy="902.96" r="1.25" fill="#c4437c"/>
<circle cx="316.22" cy="903.13" r="1.25" fill="#c4437c"/>
<circle cx="309.28" cy="903.33" r="1.25" fill="#c4437c"/>
<circle cx="317.22" cy="903.73" r="1.25" fill="#c4437c"/>
<circle cx="321.00" cy="903.93" r="1.25" fill="#c4437c"/>
<circle cx="299.55" cy="904.13" r="1.25" fill="#c4437c"/>
<circle cx="296.25" cy="904.51" r="1.25" fill="#c4437c"/>
<circle cx="306.15" cy="904.57" r="1.25" fill="#c4437c"/>
<circle cx="302.85" cy="905.22" r="1.25" fill="#c4437c"/>
<circle cx="299.72" cy="905.22" r="1.25" fill="#c4437c"/>
<circle cx="311.10" cy="905.94" r="1.25" fill="#c4437c"/>
<circle cx="314.40" cy="906.17" r="1.25" fill="#c4437c"/>
<circle cx="306.15" cy="907.84" r="1.25" fill="#c4437c"/>
<circle cx="302.85" cy="908.03" r="1.25" fill="#c4437c"/>
<circle cx="299.55" cy="908.07" r="1.25" fill="#c4437c"/>
<circle cx="296.25" cy="908.26" r="1.25" fill="#c4437c"/>
<circle cx="309.45" cy="908.72" r="1.25" fill="#c4437c"/>
<circle cx="312.75" cy="908.98" r="1.25" fill="#c4437c"/>
<circle cx="316.05" cy="909.59" r="1.25" fill="#c4437c"/>
<circle cx="292.95" cy="910.04" r="1.25" fill="#c4437c"/>
<circle cx="319.35" cy="910.18" r="1.25" fill="#c4437c"/>
<circle cx="306.15" cy="911.35" r="1.25" fill="#c4437c"/>
<circle cx="302.85" cy="912.49" r="1.25" fill="#c4437c"/>
<circle cx="309.45" cy="912.80" r="1.25" fill="#c4437c"/>
<circle cx="312.75" cy="913.84" r="1.25" fill="#c4437c"/>
<circle cx="306.15" cy="914.38" r="1.25" fill="#c4437c"/>
<circle cx="309.45" cy="916.32" r="1.25" fill="#c4437c"/>
<circle cx="302.85" cy="916.32" r="1.25" fill="#c4437c"/>
<circle cx="312.75" cy="916.81" r="1.25" fill="#c4437c"/>
<circle cx="306.15" cy="917.30" r="1.25" fill="#c4437c"/>
<circle cx="299.55" cy="917.52" r="1.25" fill="#c4437c"/>
<circle cx="316.05" cy="918.36" r="1.25" fill="#c4437c"/>
<circle cx="296.25" cy="918.39" r="1.25" fill="#c4437c"/>
<circle cx="292.95" cy="918.98" r="1.25" fill="#c4437c"/>
<circle cx="302.85" cy="919.31" r="1.25" fill="#c4437c"/>
<circle cx="307.80" cy="919.89" r="1.25" fill="#c4437c"/>
<circle cx="311.10" cy="920.73" r="1.25" fill="#c4437c"/>
<circle cx="299.55" cy="920.90" r="1.25" fill="#c4437c"/>
<circle cx="306.15" cy="922.38" r="1.25" fill="#c4437c"/>
<circle cx="304.50" cy="924.91" r="1.25" fill="#c4437c"/>
<circle cx="306.15" cy="929.70" r="1.25" fill="#c4437c"/>
<circle cx="306.15" cy="944.34" r="1.25" fill="#c4437c"/>
<line x1="258.50" y1="882.20" x2="258.50" y2="911.30" stroke="#222" stroke-width="1.2" />
<line x1="250.70" y1="882.20" x2="266.30" y2="882.20" stroke="#222" stroke-width="1.2" />
<line x1="250.70" y1="911.30" x2="266.30" y2="911.30" stroke="#222" stroke-width="1.2" />
<line x1="306.65" y1="888.40" x2="306.65" y2="915.00" stroke="#222" stroke-width="1.2" />
<line x1="298.85" y1="888.40" x2="314.45" y2="888.40" stroke="#222" stroke-width="1.2" />
<line x1="298.85" y1="915.00" x2="314.45" y2="915.00" stroke="#222" stroke-width="1.2" />
<line x1="226.50" y1="837.60" x2="226.50" y2="985.20" stroke="#222" stroke-width="1.2" />
<line x1="226.50" y1="984.60" x2="334.50" y2="984.60" stroke="#222" stroke-width="1.2" />
<line x1="222.30" y1="838.20" x2="226.50" y2="838.20" stroke="#222" stroke-width="1.2" />
<text x="0.00" y="0.00" font-size="9.6" text-anchor="end" font-weight="normal" fill="#111" stroke="#111" stroke-width="0.2"  transform="translate(220.50,842.10) scale(1,1.15)">8</text>
<line x1="222.30" y1="911.30" x2="226.50" y2="911.30" stroke="#222" stroke-width="1.2" />
<text x="0.00" y="0.00" font-size="9.6" text-anchor="end" font-weight="normal" fill="#111" stroke="#111" stroke-width="0.2"  transform="translate(220.50,915.20) scale(1,1.15)">6</text>
<line x1="222.30" y1="984.60" x2="226.50" y2="984.60" stroke="#222" stroke-width="1.2" />
<text x="0.00" y="0.00" font-size="9.6" text-anchor="end" font-weight="normal" fill="#111" stroke="#111" stroke-width="0.2"  transform="translate(220.50,988.50) scale(1,1.15)">4</text>
<line x1="258.50" y1="984.60" x2="258.50" y2="988.40" stroke="#222" stroke-width="1.4" />
<text x="0.00" y="0.00" font-size="10.3" text-anchor="middle" font-weight="normal" fill="#111" stroke="#111" stroke-width="0.2" textLength="26" lengthAdjust="spacingAndGlyphs" transform="translate(259.70,999.00) scale(1,1.13)">ECM1</text>
<line x1="306.65" y1="984.60" x2="306.65" y2="988.40" stroke="#222" stroke-width="1.4" />
<text x="0.00" y="0.00" font-size="10.3" text-anchor="middle" font-weight="normal" fill="#111" stroke="#111" stroke-width="0.2" textLength="26" lengthAdjust="spacingAndGlyphs" transform="translate(306.55,1000.10) scale(1,1.13)">ECM2</text>
<line x1="258.40" y1="854.80" x2="306.40" y2="854.80" stroke="#111" stroke-width="1.45" />
<line x1="258.40" y1="850.20" x2="258.40" y2="860.30" stroke="#111" stroke-width="1.45" />
<line x1="306.40" y1="850.20" x2="306.40" y2="860.30" stroke="#111" stroke-width="1.45" />
<path d="M281.30,851.30 L281.30,848.80 M281.30,851.30 L283.68,850.53 M281.30,851.30 L282.77,853.32 M281.30,851.30 L279.83,853.32 M281.30,851.30 L278.92,850.53 " stroke="#111" stroke-width="1.45" stroke-linecap="round" fill="none"/>
<text x="345.80" y="842.50" font-size="19" text-anchor="start" font-weight="bold" fill="#000" >s</text>
<text x="446.30" y="839.70" font-size="13.2" text-anchor="middle" font-weight="normal" fill="#111" stroke="#111" stroke-width="0.2" >MMP2</text>
<text x="0.00" y="0.00" font-size="11.3" text-anchor="middle" font-weight="normal" fill="#000" stroke="#000" stroke-width="0.2" transform="translate(372.70,914.00) rotate(-90)">Normalized gene expression</text>
<path d="M410.10,985.30 L410.10,905.60 L438.70,905.60 L438.70,985.30" fill="#fff" stroke="#4a9e92" stroke-width="1.6"/>
<circle cx="423.90" cy="871.06" r="1.25" fill="#4a9e92"/>
<circle cx="423.90" cy="887.22" r="1.25" fill="#4a9e92"/>
<circle cx="423.90" cy="890.14" r="1.25" fill="#4a9e92"/>
<circle cx="427.20" cy="891.56" r="1.25" fill="#4a9e92"/>
<circle cx="420.60" cy="892.46" r="1.25" fill="#4a9e92"/>
<circle cx="417.30" cy="892.71" r="1.25" fill="#4a9e92"/>
<circle cx="423.90" cy="893.61" r="1.25" fill="#4a9e92"/>
<circle cx="427.20" cy="894.40" r="1.25" fill="#4a9e92"/>
<circle cx="420.60" cy="895.36" r="1.25" fill="#4a9e92"/>
<circle cx="430.50" cy="896.32" r="1.25" fill="#4a9e92"/>
<circle cx="423.90" cy="896.60" r="1.25" fill="#4a9e92"/>
<circle cx="420.60" cy="898.28" r="1.25" fill="#4a9e92"/>
<circle cx="427.20" cy="898.67" r="1.25" fill="#4a9e92"/>
<circle cx="417.30" cy="898.84" r="1.25" fill="#4a9e92"/>
<circle cx="423.90" cy="899.46" r="1.25" fill="#4a9e92"/>
<circle cx="430.50" cy="899.84" r="1.25" fill="#4a9e92"/>
<circle cx="414.00" cy="899.94" r="1.25" fill="#4a9e92"/>
<circle cx="433.80" cy="899.99" r="1.25" fill="#4a9e92"/>
<circle cx="437.10" cy="900.07" r="1.25" fill="#4a9e92"/>
<circle cx="410.70" cy="900.09" r="1.25" fill="#4a9e92"/>
<circle cx="410.77" cy="900.84" r="1.25" fill="#4a9e92"/>
<circle cx="425.00" cy="900.86" r="1.25" fill="#4a9e92"/>
<circle cx="420.60" cy="901.17" r="1.25" fill="#4a9e92"/>
<circle cx="434.37" cy="901.18" r="1.25" fill="#4a9e92"/>
<circle cx="433.77" cy="901.51" r="1.25" fill="#4a9e92"/>
<circle cx="417.30" cy="902.08" r="1.25" fill="#4a9e92"/>
<circle cx="427.99" cy="902.11" r="1.25" fill="#4a9e92"/>
<circle cx="438.75" cy="902.71" r="1.25" fill="#4a9e92"/>
<circle cx="411.96" cy="902.71" r="1.25" fill="#4a9e92"/>
<circle cx="436.19" cy="902.75" r="1.25" fill="#4a9e92"/>
<circle cx="430.64" cy="903.38" r="1.25" fill="#4a9e92"/>
<circle cx="423.90" cy="904.08" r="1.25" fill="#4a9e92"/>
<circle cx="420.60" cy="904.82" r="1.25" fill="#4a9e92"/>
<circle cx="427.20" cy="905.82" r="1.25" fill="#4a9e92"/>
<circle cx="417.30" cy="905.99" r="1.25" fill="#4a9e92"/>
<circle cx="430.50" cy="906.45" r="1.25" fill="#4a9e92"/>
<circle cx="414.00" cy="906.46" r="1.25" fill="#4a9e92"/>
<circle cx="423.90" cy="907.58" r="1.25" fill="#4a9e92"/>
<circle cx="420.60" cy="907.72" r="1.25" fill="#4a9e92"/>
<circle cx="433.80" cy="908.03" r="1.25" fill="#4a9e92"/>
<circle cx="427.20" cy="908.66" r="1.25" fill="#4a9e92"/>
<circle cx="410.70" cy="908.72" r="1.25" fill="#4a9e92"/>
<circle cx="417.30" cy="908.96" r="1.25" fill="#4a9e92"/>
<circle cx="430.50" cy="910.05" r="1.25" fill="#4a9e92"/>
<circle cx="422.25" cy="910.27" r="1.25" fill="#4a9e92"/>
<circle cx="414.00" cy="910.82" r="1.25" fill="#4a9e92"/>
<circle cx="425.55" cy="911.78" r="1.25" fill="#4a9e92"/>
<circle cx="418.95" cy="911.88" r="1.25" fill="#4a9e92"/>
<circle cx="433.80" cy="912.11" r="1.25" fill="#4a9e92"/>
<circle cx="437.10" cy="912.31" r="1.25" fill="#4a9e92"/>
<circle cx="422.25" cy="913.13" r="1.25" fill="#4a9e92"/>
<circle cx="428.85" cy="913.85" r="1.25" fill="#4a9e92"/>
<circle cx="415.65" cy="913.95" r="1.25" fill="#4a9e92"/>
<circle cx="425.55" cy="914.71" r="1.25" fill="#4a9e92"/>
<circle cx="418.95" cy="915.14" r="1.25" fill="#4a9e92"/>
<circle cx="432.15" cy="915.42" r="1.25" fill="#4a9e92"/>
<circle cx="423.90" cy="919.03" r="1.25" fill="#4a9e92"/>
<circle cx="420.60" cy="920.78" r="1.25" fill="#4a9e92"/>
<circle cx="427.20" cy="921.04" r="1.25" fill="#4a9e92"/>
<circle cx="423.90" cy="922.90" r="1.25" fill="#4a9e92"/>
<circle cx="417.30" cy="923.17" r="1.25" fill="#4a9e92"/>
<circle cx="420.60" cy="923.72" r="1.25" fill="#4a9e92"/>
<circle cx="423.90" cy="926.58" r="1.25" fill="#4a9e92"/>
<circle cx="423.90" cy="930.82" r="1.25" fill="#4a9e92"/>
<circle cx="423.90" cy="935.21" r="1.25" fill="#4a9e92"/>
<circle cx="427.20" cy="936.09" r="1.25" fill="#4a9e92"/>
<circle cx="420.60" cy="936.97" r="1.25" fill="#4a9e92"/>
<path d="M456.40,985.30 L456.40,920.10 L484.90,920.10 L484.90,985.30" fill="#fff" stroke="#c4437c" stroke-width="1.6"/>
<circle cx="470.15" cy="890.39" r="1.25" fill="#c4437c"/>
<circle cx="468.50" cy="893.03" r="1.25" fill="#c4437c"/>
<circle cx="470.15" cy="895.67" r="1.25" fill="#c4437c"/>
<circle cx="473.45" cy="897.42" r="1.25" fill="#c4437c"/>
<circle cx="470.15" cy="903.50" r="1.25" fill="#c4437c"/>
<circle cx="466.85" cy="905.87" r="1.25" fill="#c4437c"/>
<circle cx="471.80" cy="905.96" r="1.25" fill="#c4437c"/>
<circle cx="475.10" cy="906.80" r="1.25" fill="#c4437c"/>
<circle cx="463.55" cy="906.95" r="1.25" fill="#c4437c"/>
<circle cx="478.40" cy="907.19" r="1.25" fill="#c4437c"/>
<circle cx="460.25" cy="907.79" r="1.25" fill="#c4437c"/>
<circle cx="470.15" cy="908.54" r="1.25" fill="#c4437c"/>
<circle cx="466.85" cy="909.79" r="1.25" fill="#c4437c"/>
<circle cx="473.45" cy="910.47" r="1.25" fill="#c4437c"/>
<circle cx="476.75" cy="911.26" r="1.25" fill="#c4437c"/>
<circle cx="470.15" cy="911.34" r="1.25" fill="#c4437c"/>
<circle cx="463.55" cy="911.82" r="1.25" fill="#c4437c"/>
<circle cx="460.25" cy="911.94" r="1.25" fill="#c4437c"/>
<circle cx="480.05" cy="912.07" r="1.25" fill="#c4437c"/>
<circle cx="483.35" cy="912.10" r="1.25" fill="#c4437c"/>
<circle cx="456.95" cy="912.18" r="1.25" fill="#c4437c"/>
<circle cx="469.09" cy="912.45" r="1.25" fill="#c4437c"/>
<circle cx="479.75" cy="912.52" r="1.25" fill="#c4437c"/>
<circle cx="459.13" cy="912.59" r="1.25" fill="#c4437c"/>
<circle cx="483.65" cy="913.09" r="1.25" fill="#c4437c"/>
<circle cx="455.20" cy="913.22" r="1.25" fill="#c4437c"/>
<circle cx="473.45" cy="913.36" r="1.25" fill="#c4437c"/>
<circle cx="482.91" cy="913.87" r="1.25" fill="#c4437c"/>
<circle cx="460.85" cy="914.03" r="1.25" fill="#c4437c"/>
<circle cx="465.20" cy="914.42" r="1.25" fill="#c4437c"/>
<circle cx="476.75" cy="914.50" r="1.25" fill="#c4437c"/>
<circle cx="465.46" cy="914.68" r="1.25" fill="#c4437c"/>
<circle cx="470.15" cy="915.23" r="1.25" fill="#c4437c"/>
<circle cx="474.45" cy="915.23" r="1.25" fill="#c4437c"/>
<circle cx="480.05" cy="915.36" r="1.25" fill="#c4437c"/>
<circle cx="462.32" cy="915.55" r="1.25" fill="#c4437c"/>
<circle cx="477.71" cy="915.56" r="1.25" fill="#c4437c"/>
<circle cx="458.60" cy="916.14" r="1.25" fill="#c4437c"/>
<circle cx="455.30" cy="916.14" r="1.25" fill="#c4437c"/>
<circle cx="485.00" cy="916.15" r="1.25" fill="#c4437c"/>
<circle cx="472.23" cy="916.34" r="1.25" fill="#c4437c"/>
<circle cx="462.98" cy="916.47" r="1.25" fill="#c4437c"/>
<circle cx="483.97" cy="916.65" r="1.25" fill="#c4437c"/>
<circle cx="461.95" cy="916.74" r="1.25" fill="#c4437c"/>
<circle cx="484.25" cy="916.84" r="1.25" fill="#c4437c"/>
<circle cx="469.70" cy="916.89" r="1.25" fill="#c4437c"/>
<circle cx="466.95" cy="916.94" r="1.25" fill="#c4437c"/>
<circle cx="480.32" cy="917.29" r="1.25" fill="#c4437c"/>
<circle cx="471.98" cy="917.43" r="1.25" fill="#c4437c"/>
<circle cx="460.94" cy="917.70" r="1.25" fill="#c4437c"/>
<circle cx="479.25" cy="917.97" r="1.25" fill="#c4437c"/>
<circle cx="482.88" cy="918.21" r="1.25" fill="#c4437c"/>
<circle cx="475.10" cy="918.62" r="1.25" fill="#c4437c"/>
<circle cx="456.95" cy="918.79" r="1.25" fill="#c4437c"/>
<circle cx="468.97" cy="918.82" r="1.25" fill="#c4437c"/>
<circle cx="459.97" cy="918.87" r="1.25" fill="#c4437c"/>
<circle cx="460.35" cy="918.88" r="1.25" fill="#c4437c"/>
<circle cx="462.77" cy="919.03" r="1.25" fill="#c4437c"/>
<circle cx="464.94" cy="919.47" r="1.25" fill="#c4437c"/>
<circle cx="481.63" cy="919.56" r="1.25" fill="#c4437c"/>
<circle cx="483.06" cy="919.80" r="1.25" fill="#c4437c"/>
<circle cx="465.35" cy="919.88" r="1.25" fill="#c4437c"/>
<circle cx="473.78" cy="920.22" r="1.25" fill="#c4437c"/>
<circle cx="474.33" cy="920.28" r="1.25" fill="#c4437c"/>
<circle cx="477.51" cy="920.28" r="1.25" fill="#c4437c"/>
<circle cx="468.17" cy="920.44" r="1.25" fill="#c4437c"/>
<circle cx="456.70" cy="920.74" r="1.25" fill="#c4437c"/>
<circle cx="482.91" cy="920.81" r="1.25" fill="#c4437c"/>
<circle cx="473.38" cy="921.14" r="1.25" fill="#c4437c"/>
<circle cx="467.14" cy="921.25" r="1.25" fill="#c4437c"/>
<circle cx="458.68" cy="921.33" r="1.25" fill="#c4437c"/>
<circle cx="460.51" cy="921.45" r="1.25" fill="#c4437c"/>
<circle cx="457.16" cy="921.77" r="1.25" fill="#c4437c"/>
<circle cx="478.48" cy="921.95" r="1.25" fill="#c4437c"/>
<circle cx="463.79" cy="921.98" r="1.25" fill="#c4437c"/>
<circle cx="462.77" cy="922.62" r="1.25" fill="#c4437c"/>
<circle cx="470.15" cy="922.83" r="1.25" fill="#c4437c"/>
<circle cx="485.00" cy="922.99" r="1.25" fill="#c4437c"/>
<circle cx="484.13" cy="923.11" r="1.25" fill="#c4437c"/>
<circle cx="465.07" cy="923.29" r="1.25" fill="#c4437c"/>
<circle cx="477.56" cy="923.42" r="1.25" fill="#c4437c"/>
<circle cx="473.45" cy="925.22" r="1.25" fill="#c4437c"/>
<circle cx="468.50" cy="925.54" r="1.25" fill="#c4437c"/>
<circle cx="463.55" cy="925.83" r="1.25" fill="#c4437c"/>
<circle cx="460.25" cy="926.03" r="1.25" fill="#c4437c"/>
<circle cx="476.75" cy="926.19" r="1.25" fill="#c4437c"/>
<circle cx="480.05" cy="926.31" r="1.25" fill="#c4437c"/>
<circle cx="483.35" cy="926.81" r="1.25" fill="#c4437c"/>
<circle cx="456.95" cy="926.93" r="1.25" fill="#c4437c"/>
<circle cx="460.72" cy="927.02" r="1.25" fill="#c4437c"/>
<circle cx="470.41" cy="927.17" r="1.25" fill="#c4437c"/>
<circle cx="460.41" cy="927.63" r="1.25" fill="#c4437c"/>
<circle cx="475.72" cy="927.91" r="1.25" fill="#c4437c"/>
<circle cx="466.85" cy="927.98" r="1.25" fill="#c4437c"/>
<circle cx="481.55" cy="928.31" r="1.25" fill="#c4437c"/>
<circle cx="478.83" cy="928.49" r="1.25" fill="#c4437c"/>
<circle cx="463.55" cy="928.84" r="1.25" fill="#c4437c"/>
<circle cx="459.30" cy="928.85" r="1.25" fill="#c4437c"/>
<circle cx="455.30" cy="929.50" r="1.25" fill="#c4437c"/>
<circle cx="471.80" cy="929.72" r="1.25" fill="#c4437c"/>
<circle cx="485.00" cy="930.23" r="1.25" fill="#c4437c"/>
<circle cx="468.50" cy="930.91" r="1.25" fill="#c4437c"/>
<circle cx="475.10" cy="931.10" r="1.25" fill="#c4437c"/>
<circle cx="465.20" cy="931.36" r="1.25" fill="#c4437c"/>
<circle cx="470.15" cy="935.27" r="1.25" fill="#c4437c"/>
<circle cx="466.85" cy="935.65" r="1.25" fill="#c4437c"/>
<circle cx="473.45" cy="937.36" r="1.25" fill="#c4437c"/>
<circle cx="470.15" cy="940.48" r="1.25" fill="#c4437c"/>
<circle cx="466.85" cy="940.78" r="1.25" fill="#c4437c"/>
<circle cx="473.45" cy="941.06" r="1.25" fill="#c4437c"/>
<circle cx="470.15" cy="951.91" r="1.25" fill="#c4437c"/>
<line x1="424.40" y1="892.50" x2="424.40" y2="918.60" stroke="#222" stroke-width="1.2" />
<line x1="416.60" y1="892.50" x2="432.20" y2="892.50" stroke="#222" stroke-width="1.2" />
<line x1="416.60" y1="918.60" x2="432.20" y2="918.60" stroke="#222" stroke-width="1.2" />
<line x1="470.65" y1="908.00" x2="470.65" y2="930.60" stroke="#222" stroke-width="1.2" />
<line x1="462.85" y1="908.00" x2="478.45" y2="908.00" stroke="#222" stroke-width="1.2" />
<line x1="462.85" y1="930.60" x2="478.45" y2="930.60" stroke="#222" stroke-width="1.2" />
<line x1="393.50" y1="844.10" x2="393.50" y2="985.90" stroke="#222" stroke-width="1.2" />
<line x1="393.50" y1="985.30" x2="502.20" y2="985.30" stroke="#222" stroke-width="1.2" />
<line x1="389.30" y1="844.70" x2="393.50" y2="844.70" stroke="#222" stroke-width="1.2" />
<text x="0.00" y="0.00" font-size="9.6" text-anchor="end" font-weight="normal" fill="#111" stroke="#111" stroke-width="0.2"  transform="translate(387.50,848.60) scale(1,1.15)">8</text>
<line x1="389.30" y1="879.80" x2="393.50" y2="879.80" stroke="#222" stroke-width="1.2" />
<text x="0.00" y="0.00" font-size="9.6" text-anchor="end" font-weight="normal" fill="#111" stroke="#111" stroke-width="0.2"  transform="translate(387.50,883.70) scale(1,1.15)">6</text>
<line x1="389.30" y1="915.00" x2="393.50" y2="915.00" stroke="#222" stroke-width="1.2" />
<text x="0.00" y="0.00" font-size="9.6" text-anchor="end" font-weight="normal" fill="#111" stroke="#111" stroke-width="0.2"  transform="translate(387.50,918.90) scale(1,1.15)">4</text>
<line x1="389.30" y1="950.20" x2="393.50" y2="950.20" stroke="#222" stroke-width="1.2" />
<text x="0.00" y="0.00" font-size="9.6" text-anchor="end" font-weight="normal" fill="#111" stroke="#111" stroke-width="0.2"  transform="translate(387.50,954.10) scale(1,1.15)">2</text>
<line x1="389.30" y1="985.30" x2="393.50" y2="985.30" stroke="#222" stroke-width="1.2" />
<text x="0.00" y="0.00" font-size="9.6" text-anchor="end" font-weight="normal" fill="#111" stroke="#111" stroke-width="0.2"  transform="translate(387.50,989.20) scale(1,1.15)">0</text>
<line x1="424.40" y1="985.30" x2="424.40" y2="989.10" stroke="#222" stroke-width="1.4" />
<text x="0.00" y="0.00" font-size="10.3" text-anchor="middle" font-weight="normal" fill="#111" stroke="#111" stroke-width="0.2" textLength="26" lengthAdjust="spacingAndGlyphs" transform="translate(427.30,999.80) scale(1,1.13)">ECM1</text>
<line x1="470.65" y1="985.30" x2="470.65" y2="989.10" stroke="#222" stroke-width="1.4" />
<text x="0.00" y="0.00" font-size="10.3" text-anchor="middle" font-weight="normal" fill="#111" stroke="#111" stroke-width="0.2" textLength="26" lengthAdjust="spacingAndGlyphs" transform="translate(472.75,999.80) scale(1,1.13)">ECM2</text>
<line x1="423.90" y1="861.60" x2="468.10" y2="861.60" stroke="#111" stroke-width="1.45" />
<line x1="423.90" y1="857.30" x2="423.90" y2="866.60" stroke="#111" stroke-width="1.45" />
<line x1="468.10" y1="857.30" x2="468.10" y2="866.60" stroke="#111" stroke-width="1.45" />
<path d="M438.65,858.10 L438.65,855.60 M438.65,858.10 L441.03,857.33 M438.65,858.10 L440.12,860.12 M438.65,858.10 L437.18,860.12 M438.65,858.10 L436.27,857.33 " stroke="#111" stroke-width="1.45" stroke-linecap="round" fill="none"/>
<path d="M444.55,858.10 L444.55,855.60 M444.55,858.10 L446.93,857.33 M444.55,858.10 L446.02,860.12 M444.55,858.10 L443.08,860.12 M444.55,858.10 L442.17,857.33 " stroke="#111" stroke-width="1.45" stroke-linecap="round" fill="none"/>
<path d="M450.45,858.10 L450.45,855.60 M450.45,858.10 L452.83,857.33 M450.45,858.10 L451.92,860.12 M450.45,858.10 L448.98,860.12 M450.45,858.10 L448.07,857.33 " stroke="#111" stroke-width="1.45" stroke-linecap="round" fill="none"/>
<path d="M456.35,858.10 L456.35,855.60 M456.35,858.10 L458.73,857.33 M456.35,858.10 L457.82,860.12 M456.35,858.10 L454.88,860.12 M456.35,858.10 L453.97,857.33 " stroke="#111" stroke-width="1.45" stroke-linecap="round" fill="none"/>
<text x="513.60" y="842.50" font-size="19" text-anchor="start" font-weight="bold" fill="#000" >t</text>
<text x="620.60" y="839.00" font-size="13.2" text-anchor="middle" font-weight="normal" fill="#111" stroke="#111" stroke-width="0.2" >MMP9</text>
<text x="0.00" y="0.00" font-size="11.3" text-anchor="middle" font-weight="normal" fill="#000" stroke="#000" stroke-width="0.2" transform="translate(543.20,909.30) rotate(-90)">Normalized gene expression</text>
<path d="M592.20,982.80 L592.20,938.20 L620.20,938.20 L620.20,982.80" fill="#fff" stroke="#4a9e92" stroke-width="1.6"/>
<circle cx="605.70" cy="862.98" r="1.25" fill="#4a9e92"/>
<circle cx="605.70" cy="865.90" r="1.25" fill="#4a9e92"/>
<circle cx="601.50" cy="867.59" r="1.25" fill="#4a9e92"/>
<circle cx="605.70" cy="869.84" r="1.25" fill="#4a9e92"/>
<circle cx="609.90" cy="870.98" r="1.25" fill="#4a9e92"/>
<circle cx="605.70" cy="873.60" r="1.25" fill="#4a9e92"/>
<circle cx="609.90" cy="874.93" r="1.25" fill="#4a9e92"/>
<circle cx="605.70" cy="878.95" r="1.25" fill="#4a9e92"/>
<circle cx="605.70" cy="889.11" r="1.25" fill="#4a9e92"/>
<circle cx="601.50" cy="889.78" r="1.25" fill="#4a9e92"/>
<circle cx="609.90" cy="890.72" r="1.25" fill="#4a9e92"/>
<circle cx="597.30" cy="891.37" r="1.25" fill="#4a9e92"/>
<circle cx="614.10" cy="891.85" r="1.25" fill="#4a9e92"/>
<circle cx="605.70" cy="892.30" r="1.25" fill="#4a9e92"/>
<circle cx="601.50" cy="892.91" r="1.25" fill="#4a9e92"/>
<circle cx="609.90" cy="893.76" r="1.25" fill="#4a9e92"/>
<circle cx="597.30" cy="894.45" r="1.25" fill="#4a9e92"/>
<circle cx="605.70" cy="908.38" r="1.25" fill="#4a9e92"/>
<circle cx="601.50" cy="909.45" r="1.25" fill="#4a9e92"/>
<circle cx="605.70" cy="914.70" r="1.25" fill="#4a9e92"/>
<circle cx="609.90" cy="915.53" r="1.25" fill="#4a9e92"/>
<circle cx="605.70" cy="920.43" r="1.25" fill="#4a9e92"/>
<circle cx="605.70" cy="923.88" r="1.25" fill="#4a9e92"/>
<circle cx="605.70" cy="930.19" r="1.25" fill="#4a9e92"/>
<circle cx="601.50" cy="931.30" r="1.25" fill="#4a9e92"/>
<circle cx="609.90" cy="932.42" r="1.25" fill="#4a9e92"/>
<circle cx="605.70" cy="933.03" r="1.25" fill="#4a9e92"/>
<circle cx="601.50" cy="934.72" r="1.25" fill="#4a9e92"/>
<circle cx="609.90" cy="935.40" r="1.25" fill="#4a9e92"/>
<circle cx="605.70" cy="935.93" r="1.25" fill="#4a9e92"/>
<circle cx="601.50" cy="937.75" r="1.25" fill="#4a9e92"/>
<circle cx="607.80" cy="938.64" r="1.25" fill="#4a9e92"/>
<circle cx="612.00" cy="939.18" r="1.25" fill="#4a9e92"/>
<circle cx="605.70" cy="942.50" r="1.25" fill="#4a9e92"/>
<circle cx="609.90" cy="944.03" r="1.25" fill="#4a9e92"/>
<circle cx="605.70" cy="945.44" r="1.25" fill="#4a9e92"/>
<circle cx="601.50" cy="946.43" r="1.25" fill="#4a9e92"/>
<circle cx="607.80" cy="948.09" r="1.25" fill="#4a9e92"/>
<circle cx="603.60" cy="948.92" r="1.25" fill="#4a9e92"/>
<circle cx="599.40" cy="950.49" r="1.25" fill="#4a9e92"/>
<circle cx="605.70" cy="951.42" r="1.25" fill="#4a9e92"/>
<circle cx="601.50" cy="953.32" r="1.25" fill="#4a9e92"/>
<circle cx="609.90" cy="953.41" r="1.25" fill="#4a9e92"/>
<circle cx="605.70" cy="955.54" r="1.25" fill="#4a9e92"/>
<circle cx="609.90" cy="956.94" r="1.25" fill="#4a9e92"/>
<circle cx="601.50" cy="957.84" r="1.25" fill="#4a9e92"/>
<circle cx="605.70" cy="958.42" r="1.25" fill="#4a9e92"/>
<circle cx="609.90" cy="960.25" r="1.25" fill="#4a9e92"/>
<circle cx="605.70" cy="961.65" r="1.25" fill="#4a9e92"/>
<circle cx="609.90" cy="963.18" r="1.25" fill="#4a9e92"/>
<circle cx="603.60" cy="964.14" r="1.25" fill="#4a9e92"/>
<circle cx="599.40" cy="965.54" r="1.25" fill="#4a9e92"/>
<circle cx="607.80" cy="965.86" r="1.25" fill="#4a9e92"/>
<circle cx="603.60" cy="967.87" r="1.25" fill="#4a9e92"/>
<circle cx="607.80" cy="968.72" r="1.25" fill="#4a9e92"/>
<circle cx="612.00" cy="970.00" r="1.25" fill="#4a9e92"/>
<circle cx="605.70" cy="971.21" r="1.25" fill="#4a9e92"/>
<circle cx="601.50" cy="972.21" r="1.25" fill="#4a9e92"/>
<circle cx="607.80" cy="973.97" r="1.25" fill="#4a9e92"/>
<circle cx="612.00" cy="974.23" r="1.25" fill="#4a9e92"/>
<circle cx="603.60" cy="976.37" r="1.25" fill="#4a9e92"/>
<circle cx="607.80" cy="977.80" r="1.25" fill="#4a9e92"/>
<circle cx="599.40" cy="978.26" r="1.25" fill="#4a9e92"/>
<circle cx="603.60" cy="980.20" r="1.25" fill="#4a9e92"/>
<circle cx="609.90" cy="980.40" r="1.25" fill="#4a9e92"/>
<circle cx="599.40" cy="982.52" r="1.25" fill="#4a9e92"/>
<path d="M638.20,982.80 L638.20,976.00 L666.70,976.00 L666.70,982.80" fill="#fff" stroke="#c4437c" stroke-width="1.6"/>
<circle cx="652.45" cy="974.01" r="1.25" fill="#c4437c"/>
<circle cx="653.25" cy="972.25" r="1.25" fill="#c4437c"/>
<circle cx="651.85" cy="970.85" r="1.25" fill="#c4437c"/>
<circle cx="652.75" cy="969.62" r="1.25" fill="#c4437c"/>
<circle cx="652.05" cy="967.86" r="1.25" fill="#c4437c"/>
<circle cx="653.35" cy="966.98" r="1.25" fill="#c4437c"/>
<circle cx="652.45" cy="965.22" r="1.25" fill="#c4437c"/>
<circle cx="651.45" cy="964.35" r="1.25" fill="#c4437c"/>
<circle cx="653.25" cy="963.47" r="1.25" fill="#c4437c"/>
<circle cx="652.45" cy="961.71" r="1.25" fill="#c4437c"/>
<circle cx="652.15" cy="959.95" r="1.25" fill="#c4437c"/>
<circle cx="652.95" cy="959.07" r="1.25" fill="#c4437c"/>
<circle cx="652.45" cy="957.84" r="1.25" fill="#c4437c"/>
<circle cx="652.45" cy="944.13" r="1.25" fill="#c4437c"/>
<circle cx="652.45" cy="894.92" r="1.25" fill="#c4437c"/>
<circle cx="651.25" cy="973.13" r="1.25" fill="#c4437c"/>
<circle cx="653.95" cy="971.90" r="1.25" fill="#c4437c"/>
<circle cx="650.95" cy="970.15" r="1.25" fill="#c4437c"/>
<line x1="606.20" y1="902.20" x2="606.20" y2="972.90" stroke="#222" stroke-width="1.2" />
<line x1="598.40" y1="902.20" x2="614.00" y2="902.20" stroke="#222" stroke-width="1.2" />
<line x1="598.40" y1="972.90" x2="614.00" y2="972.90" stroke="#222" stroke-width="1.2" />
<line x1="652.45" y1="964.50" x2="652.45" y2="982.80" stroke="#222" stroke-width="1.2" />
<line x1="644.65" y1="964.50" x2="660.25" y2="964.50" stroke="#222" stroke-width="1.2" />
<rect x="637.6" y="975.0" width="29.70" height="8.00" fill="#c4437c"/>
<rect x="641" y="977.2" width="5.00" height="1.00" fill="#f3d9e4"/>
<rect x="646.5" y="979.2" width="2.50" height="1.00" fill="#f3d9e4"/>
<rect x="656" y="978.2" width="4.00" height="1.00" fill="#f3d9e4"/>
<rect x="661" y="977.0" width="4.50" height="1.00" fill="#f3d9e4"/>
<line x1="573.30" y1="841.60" x2="573.30" y2="983.40" stroke="#222" stroke-width="1.2" />
<line x1="573.30" y1="982.80" x2="680.00" y2="982.80" stroke="#222" stroke-width="1.2" />
<line x1="569.10" y1="842.20" x2="573.30" y2="842.20" stroke="#222" stroke-width="1.2" />
<text x="0.00" y="0.00" font-size="9.6" text-anchor="end" font-weight="normal" fill="#111" stroke="#111" stroke-width="0.2"  transform="translate(567.30,846.10) scale(1,1.15)">8</text>
<line x1="569.10" y1="877.40" x2="573.30" y2="877.40" stroke="#222" stroke-width="1.2" />
<text x="0.00" y="0.00" font-size="9.6" text-anchor="end" font-weight="normal" fill="#111" stroke="#111" stroke-width="0.2"  transform="translate(567.30,881.30) scale(1,1.15)">6</text>
<line x1="569.10" y1="912.60" x2="573.30" y2="912.60" stroke="#222" stroke-width="1.2" />
<text x="0.00" y="0.00" font-size="9.6" text-anchor="end" font-weight="normal" fill="#111" stroke="#111" stroke-width="0.2"  transform="translate(567.30,916.50) scale(1,1.15)">4</text>
<line x1="569.10" y1="947.70" x2="573.30" y2="947.70" stroke="#222" stroke-width="1.2" />
<text x="0.00" y="0.00" font-size="9.6" text-anchor="end" font-weight="normal" fill="#111" stroke="#111" stroke-width="0.2"  transform="translate(567.30,951.60) scale(1,1.15)">2</text>
<line x1="569.10" y1="982.80" x2="573.30" y2="982.80" stroke="#222" stroke-width="1.2" />
<text x="0.00" y="0.00" font-size="9.6" text-anchor="end" font-weight="normal" fill="#111" stroke="#111" stroke-width="0.2"  transform="translate(567.30,986.70) scale(1,1.15)">0</text>
<line x1="606.20" y1="982.80" x2="606.20" y2="986.60" stroke="#222" stroke-width="1.4" />
<text x="0.00" y="0.00" font-size="10.3" text-anchor="middle" font-weight="normal" fill="#111" stroke="#111" stroke-width="0.2" textLength="26" lengthAdjust="spacingAndGlyphs" transform="translate(607.00,999.40) scale(1,1.13)">ECM1</text>
<line x1="652.45" y1="982.80" x2="652.45" y2="986.60" stroke="#222" stroke-width="1.4" />
<text x="0.00" y="0.00" font-size="10.3" text-anchor="middle" font-weight="normal" fill="#111" stroke="#111" stroke-width="0.2" textLength="26" lengthAdjust="spacingAndGlyphs" transform="translate(652.75,1000.10) scale(1,1.13)">ECM2</text>
<line x1="606.00" y1="854.00" x2="649.20" y2="854.00" stroke="#111" stroke-width="1.45" />
<line x1="606.00" y1="849.70" x2="606.00" y2="859.00" stroke="#111" stroke-width="1.45" />
<line x1="649.20" y1="849.70" x2="649.20" y2="859.00" stroke="#111" stroke-width="1.45" />
<path d="M618.45,850.50 L618.45,848.00 M618.45,850.50 L620.83,849.73 M618.45,850.50 L619.92,852.52 M618.45,850.50 L616.98,852.52 M618.45,850.50 L616.07,849.73 " stroke="#111" stroke-width="1.45" stroke-linecap="round" fill="none"/>
<path d="M624.35,850.50 L624.35,848.00 M624.35,850.50 L626.73,849.73 M624.35,850.50 L625.82,852.52 M624.35,850.50 L622.88,852.52 M624.35,850.50 L621.97,849.73 " stroke="#111" stroke-width="1.45" stroke-linecap="round" fill="none"/>
<path d="M630.25,850.50 L630.25,848.00 M630.25,850.50 L632.63,849.73 M630.25,850.50 L631.72,852.52 M630.25,850.50 L628.78,852.52 M630.25,850.50 L627.87,849.73 " stroke="#111" stroke-width="1.45" stroke-linecap="round" fill="none"/>
<path d="M636.15,850.50 L636.15,848.00 M636.15,850.50 L638.53,849.73 M636.15,850.50 L637.62,852.52 M636.15,850.50 L634.68,852.52 M636.15,850.50 L633.77,849.73 " stroke="#111" stroke-width="1.45" stroke-linecap="round" fill="none"/>
<text x="263.00" y="11.10" font-size="14.5" text-anchor="start" font-weight="bold" fill="#000" >Epithelial signatures</text>
<text x="263.40" y="202.60" font-size="14.5" text-anchor="start" font-weight="bold" fill="#000" >Hybrid EMT signatures</text>
<text x="264.20" y="415.40" font-size="14.5" text-anchor="start" font-weight="bold" fill="#000" >Mesenchymal signatures</text>
<text x="109.20" y="623.90" font-size="14.5" text-anchor="start" font-weight="bold" fill="#000" >Proliferation signatures</text>
<text x="451.20" y="623.90" font-size="14.5" text-anchor="start" font-weight="bold" fill="#000" >Stemness signatures</text>
<text x="94.60" y="821.30" font-size="14.5" text-anchor="start" font-weight="bold" fill="#000" >Angiogenesis signatures</text>
<text x="438.70" y="822.00" font-size="14.5" text-anchor="start" font-weight="bold" fill="#000" >Plasticity signatures</text>
</svg>
</body></html>
